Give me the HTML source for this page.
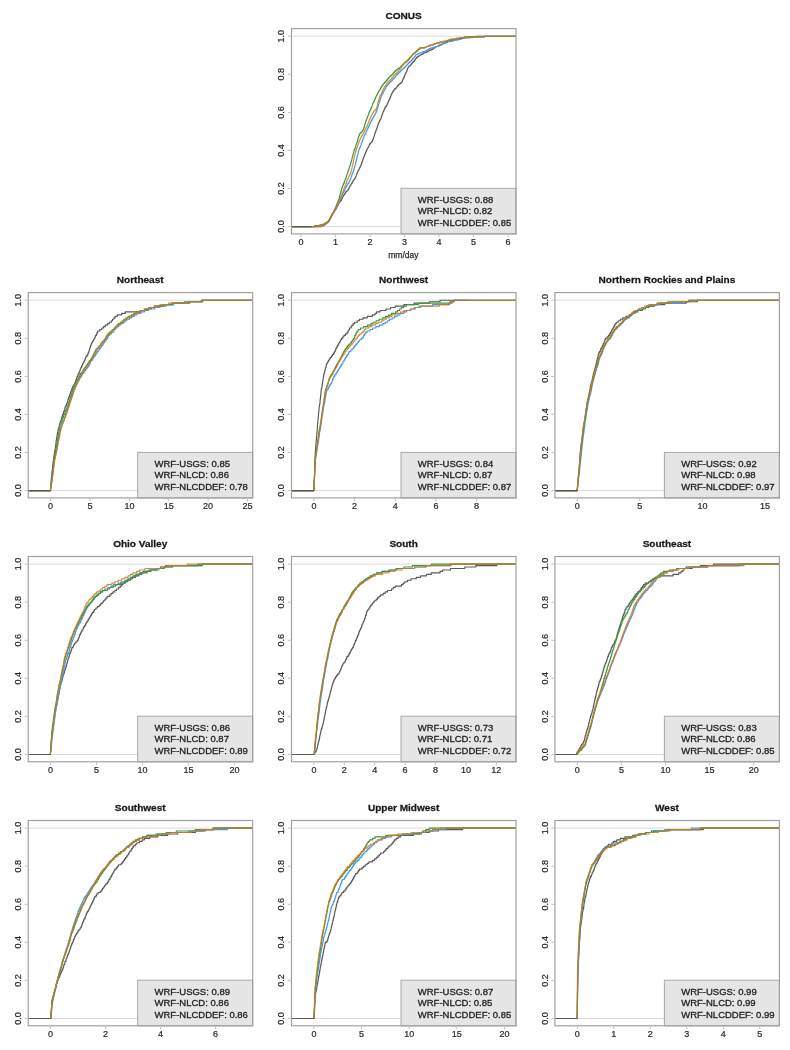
<!DOCTYPE html>
<html lang="en"><head><meta charset="utf-8"><title>ECDF of precipitation by climate region</title>
<style>
html,body{margin:0;padding:0;background:#fff}
body{width:790px;height:1050px;overflow:hidden}
svg{display:block}
text{font-family:"Liberation Sans",Arial,Helvetica,sans-serif;fill:#2c2c2c;stroke:#2c2c2c;stroke-width:0.25px}
.t{font-size:9.4px;font-weight:bold;text-anchor:middle;fill:#181818;stroke:#181818;stroke-width:0.25px}
.a{font-size:9.7px;text-anchor:middle}
.x{font-size:8.5px;text-anchor:middle}
.l{font-size:9.8px;fill:#242424;stroke:#242424;stroke-width:0.32px}
.h{stroke:#dadada;stroke-width:1;fill:none}
.f{fill:none;stroke:#9e9e9e;stroke-width:1.15}
.lg{fill:#e5e5e5;stroke:#a8a8a8;stroke-width:1}
.k{stroke:#c2c2c2;stroke-width:1;fill:none}
.cv path{fill:none;stroke-width:1.15;stroke-linejoin:round}
</style></head>
<body>
<svg width="790" height="1050" viewBox="0 0 790 1050">
<rect width="790" height="1050" fill="#fff"/>
<g>
<clipPath id="c0"><rect x="291.5" y="28.6" width="224.5" height="205.3"/></clipPath>
<text class="t" transform="translate(403.6 19.0) scale(1.07 1)">CONUS</text>
<path d="M291.5 36.2H516.0M291.5 226.6H516.0" class="h"/>
<g clip-path="url(#c0)" class="cv">
<path d="M291.5 226.6L320.6 226.6L320.6 225.9L323.2 225.9L323.2 225.1L324.8 225.1L324.8 224.4L325.5 224.4L325.5 223.7L326.2 223.7L326.2 222.9L327.0 222.9L327.0 222.2L327.8 222.2L327.8 221.5L328.7 221.5L328.7 220.7L329.2 220.7L329.2 220.0L329.6 220.0L329.6 219.3L329.9 219.3L329.9 218.5L330.3 218.5L330.3 217.8L330.7 217.8L330.7 217.1L331.1 217.1L331.1 216.3L331.4 216.3L331.4 215.6L331.8 215.6L331.8 214.9L332.3 214.9L332.3 214.2L332.7 214.2L332.7 213.4L333.0 213.4L333.0 212.7L333.6 212.7L333.6 212.0L334.0 212.0L334.0 211.2L334.4 211.2L334.4 210.5L334.9 210.5L334.9 209.8L335.3 209.8L335.3 209.0L335.7 209.0L335.7 208.3L336.1 208.3L336.1 207.6L336.5 207.6L336.5 206.8L337.1 206.8L337.1 206.1L337.5 206.1L337.5 205.4L338.0 205.4L338.0 204.6L338.5 204.6L338.5 203.9L338.8 203.9L338.8 203.2L339.1 203.2L339.1 202.4L339.5 202.4L339.5 201.7L340.4 201.7L340.4 201.0L340.9 201.0L340.9 200.2L341.5 200.2L341.5 199.5L341.7 199.5L341.7 198.8L342.0 198.8L342.0 198.0L342.4 198.0L342.4 197.3L342.7 197.3L342.7 196.6L343.2 196.6L343.2 195.8L343.6 195.8L343.6 195.1L344.2 195.1L344.2 194.4L344.8 194.4L344.8 193.6L345.1 193.6L345.1 192.9L345.4 192.9L345.4 192.2L345.9 192.2L345.9 191.4L346.8 191.4L346.8 190.7L347.8 190.7L347.8 190.0L348.3 190.0L348.3 189.3L348.7 189.3L348.7 188.5L349.1 188.5L349.1 187.8L349.4 187.8L349.4 187.1L349.7 187.1L349.7 186.3L350.1 186.3L350.1 185.6L350.6 185.6L350.6 184.9L351.0 184.9L351.0 184.1L351.4 184.1L351.4 183.4L352.0 183.4L352.0 182.7L352.3 182.7L352.3 181.9L352.7 181.9L352.7 181.2L353.1 181.2L353.1 180.5L353.5 180.5L353.5 179.7L354.4 179.7L354.4 179.0L354.8 179.0L354.8 178.3L355.2 178.3L355.2 177.5L355.6 177.5L355.6 176.8L356.0 176.8L356.0 176.1L356.3 176.1L356.3 175.3L356.5 175.3L356.5 174.6L356.8 174.6L356.8 173.9L357.0 173.9L357.0 173.1L357.3 173.1L357.3 172.4L357.5 172.4L357.5 171.7L358.0 171.7L358.0 170.9L358.3 170.9L358.3 170.2L358.7 170.2L358.7 169.5L359.1 169.5L359.1 168.7L359.5 168.7L359.5 168.0L359.8 168.0L359.8 167.3L360.2 167.3L360.2 166.6L360.5 166.6L360.5 165.8L360.7 165.8L360.7 165.1L361.1 165.1L361.1 164.4L361.4 164.4L361.4 163.6L361.6 163.6L361.6 162.9L361.9 162.9L361.9 162.2L362.1 162.2L362.1 161.4L362.4 161.4L362.4 160.7L362.6 160.7L362.6 160.0L362.9 160.0L362.9 159.2L363.2 159.2L363.2 158.5L363.4 158.5L363.4 157.8L363.7 157.8L363.7 157.0L364.0 157.0L364.0 156.3L364.3 156.3L364.3 155.6L364.6 155.6L364.6 154.8L364.9 154.8L364.9 154.1L365.2 154.1L365.2 153.4L365.5 153.4L365.5 152.6L365.8 152.6L365.8 151.9L366.2 151.9L366.2 151.2L366.4 151.2L366.4 150.4L366.7 150.4L366.7 149.7L367.0 149.7L367.0 149.0L367.4 149.0L367.4 148.2L367.8 148.2L367.8 147.5L368.3 147.5L368.3 146.8L368.8 146.8L368.8 146.0L369.1 146.0L369.1 145.3L369.4 145.3L369.4 144.6L369.7 144.6L369.7 143.8L370.4 143.8L370.4 143.1L371.0 143.1L371.0 142.4L371.6 142.4L371.6 141.7L372.1 141.7L372.1 140.9L372.5 140.9L372.5 140.2L372.8 140.2L372.8 139.5L373.1 139.5L373.1 138.7L373.4 138.7L373.4 138.0L373.6 138.0L373.6 137.3L373.9 137.3L373.9 136.5L374.1 136.5L374.1 135.8L374.4 135.8L374.4 135.1L374.6 135.1L374.6 134.3L374.8 134.3L374.8 133.6L375.1 133.6L375.1 132.9L375.3 132.9L375.3 132.1L375.6 132.1L375.6 131.4L375.8 131.4L375.8 130.7L376.1 130.7L376.1 129.9L376.3 129.9L376.3 129.2L376.7 129.2L376.7 128.5L376.9 128.5L376.9 127.7L377.2 127.7L377.2 127.0L377.5 127.0L377.5 126.3L377.7 126.3L377.7 125.5L377.9 125.5L377.9 124.8L378.2 124.8L378.2 124.1L378.5 124.1L378.5 123.3L378.7 123.3L378.7 122.6L379.1 122.6L379.1 121.9L379.4 121.9L379.4 121.1L379.7 121.1L379.7 120.4L380.0 120.4L380.0 119.7L380.4 119.7L380.4 119.0L380.9 119.0L380.9 118.2L381.1 118.2L381.1 117.5L381.3 117.5L381.3 116.8L381.6 116.8L381.6 116.0L381.8 116.0L381.8 115.3L382.2 115.3L382.2 114.6L382.5 114.6L382.5 113.8L382.7 113.8L382.7 113.1L382.9 113.1L382.9 112.4L383.1 112.4L383.1 111.6L383.4 111.6L383.4 110.9L383.9 110.9L383.9 110.2L384.2 110.2L384.2 109.4L384.4 109.4L384.4 108.7L384.7 108.7L384.7 108.0L385.0 108.0L385.0 107.2L385.6 107.2L385.6 106.5L386.4 106.5L386.4 105.8L386.8 105.8L386.8 105.0L387.1 105.0L387.1 104.3L387.4 104.3L387.4 103.6L387.7 103.6L387.7 102.8L388.0 102.8L388.0 102.1L388.4 102.1L388.4 101.4L388.7 101.4L388.7 100.6L389.1 100.6L389.1 99.9L389.4 99.9L389.4 99.2L389.6 99.2L389.6 98.4L390.0 98.4L390.0 97.7L390.2 97.7L390.2 97.0L390.6 97.0L390.6 96.2L390.9 96.2L390.9 95.5L391.1 95.5L391.1 94.8L391.4 94.8L391.4 94.1L391.8 94.1L391.8 93.3L392.2 93.3L392.2 92.6L392.6 92.6L392.6 91.9L393.0 91.9L393.0 91.1L393.6 91.1L393.6 90.4L394.0 90.4L394.0 89.7L394.4 89.7L394.4 88.9L395.7 88.9L395.7 88.2L396.2 88.2L396.2 87.5L396.7 87.5L396.7 86.7L397.2 86.7L397.2 86.0L397.7 86.0L397.7 85.3L398.5 85.3L398.5 84.5L399.3 84.5L399.3 83.8L400.5 83.8L400.5 83.1L401.2 83.1L401.2 82.3L401.9 82.3L401.9 81.6L402.3 81.6L402.3 80.9L402.6 80.9L402.6 80.1L402.8 80.1L402.8 79.4L403.1 79.4L403.1 78.7L403.3 78.7L403.3 77.9L404.0 77.9L404.0 77.2L404.2 77.2L404.2 76.5L404.5 76.5L404.5 75.7L404.8 75.7L404.8 75.0L405.0 75.0L405.0 74.3L405.4 74.3L405.4 73.5L405.8 73.5L405.8 72.8L406.2 72.8L406.2 72.1L406.5 72.1L406.5 71.4L406.8 71.4L406.8 70.6L407.1 70.6L407.1 69.9L407.3 69.9L407.3 69.2L407.6 69.2L407.6 68.4L407.8 68.4L407.8 67.7L408.3 67.7L408.3 67.0L408.7 67.0L408.7 66.2L409.9 66.2L409.9 65.5L410.4 65.5L410.4 64.8L411.1 64.8L411.1 64.0L411.8 64.0L411.8 63.3L412.4 63.3L412.4 62.6L412.9 62.6L412.9 61.8L413.7 61.8L413.7 61.1L414.5 61.1L414.5 60.4L414.9 60.4L414.9 59.6L415.3 59.6L415.3 58.9L416.0 58.9L416.0 58.2L416.5 58.2L416.5 57.4L417.2 57.4L417.2 56.7L418.4 56.7L418.4 56.0L419.7 56.0L419.7 55.2L420.8 55.2L420.8 54.5L422.1 54.5L422.1 53.8L423.4 53.8L423.4 53.0L424.8 53.0L424.8 52.3L426.8 52.3L426.8 51.6L428.0 51.6L428.0 50.8L429.5 50.8L429.5 50.1L431.3 50.1L431.3 49.4L432.8 49.4L432.8 48.6L433.8 48.6L433.8 47.9L434.8 47.9L434.8 47.2L436.1 47.2L436.1 46.5L438.0 46.5L438.0 45.7L439.8 45.7L439.8 45.0L441.4 45.0L441.4 44.3L442.8 44.3L442.8 43.5L444.9 43.5L444.9 42.8L446.1 42.8L446.1 42.1L447.7 42.1L447.7 41.3L450.4 41.3L450.4 40.6L453.8 40.6L453.8 39.9L456.7 39.9L456.7 39.1L460.2 39.1L460.2 38.4L463.3 38.4L463.3 37.7L469.5 37.7L469.5 36.9L484.5 36.9L484.5 36.2L516.0 36.2" stroke="#5a5a5a"/>
<path d="M291.5 226.6L314.4 226.6L314.4 225.9L319.7 225.9L319.7 225.1L324.0 225.1L324.0 224.4L325.1 224.4L325.1 223.7L326.0 223.7L326.0 222.9L327.4 222.9L327.4 222.2L328.4 222.2L328.4 221.5L328.9 221.5L328.9 220.7L329.2 220.7L329.2 220.0L329.6 220.0L329.6 219.3L330.0 219.3L330.0 218.5L330.4 218.5L330.4 217.8L330.8 217.8L330.8 217.1L331.2 217.1L331.2 216.3L331.5 216.3L331.5 215.6L331.9 215.6L331.9 214.9L332.3 214.9L332.3 214.2L332.7 214.2L332.7 213.4L333.2 213.4L333.2 212.7L333.6 212.7L333.6 212.0L334.1 212.0L334.1 211.2L334.5 211.2L334.5 210.5L335.2 210.5L335.2 209.8L335.7 209.8L335.7 209.0L336.2 209.0L336.2 208.3L336.6 208.3L336.6 207.6L337.0 207.6L337.0 206.8L337.2 206.8L337.2 206.1L337.5 206.1L337.5 205.4L337.8 205.4L337.8 204.6L338.1 204.6L338.1 203.9L338.4 203.9L338.4 203.2L338.6 203.2L338.6 202.4L338.9 202.4L338.9 201.7L339.2 201.7L339.2 201.0L339.4 201.0L339.4 200.2L339.8 200.2L339.8 199.5L340.3 199.5L340.3 198.8L340.5 198.8L340.5 198.0L340.9 198.0L340.9 197.3L341.1 197.3L341.1 196.6L341.5 196.6L341.5 195.8L342.0 195.8L342.0 195.1L342.3 195.1L342.3 194.4L342.6 194.4L342.6 193.6L342.9 193.6L342.9 192.9L343.3 192.9L343.3 192.2L343.7 192.2L343.7 191.4L344.1 191.4L344.1 190.7L344.4 190.7L344.4 190.0L344.9 190.0L344.9 189.3L345.2 189.3L345.2 188.5L345.6 188.5L345.6 187.8L345.9 187.8L345.9 187.1L346.2 187.1L346.2 186.3L346.7 186.3L346.7 185.6L347.1 185.6L347.1 184.9L347.5 184.9L347.5 184.1L347.9 184.1L347.9 183.4L348.5 183.4L348.5 182.7L349.0 182.7L349.0 181.9L349.3 181.9L349.3 181.2L349.7 181.2L349.7 180.5L350.0 180.5L350.0 179.7L350.3 179.7L350.3 179.0L350.7 179.0L350.7 178.3L351.0 178.3L351.0 177.5L351.2 177.5L351.2 176.8L351.5 176.8L351.5 176.1L351.7 176.1L351.7 175.3L351.9 175.3L351.9 174.6L352.2 174.6L352.2 173.9L352.5 173.9L352.5 173.1L352.8 173.1L352.8 172.4L353.0 172.4L353.0 171.7L353.3 171.7L353.3 170.9L353.5 170.9L353.5 170.2L353.8 170.2L353.8 169.5L354.0 169.5L354.0 168.7L354.3 168.7L354.3 168.0L354.5 168.0L354.5 167.3L354.6 167.3L354.6 166.6L354.9 166.6L354.9 165.8L355.1 165.8L355.1 165.1L355.2 165.1L355.2 164.4L355.4 164.4L355.4 163.6L355.6 163.6L355.6 162.9L355.8 162.9L355.8 162.2L356.0 162.2L356.0 161.4L356.2 161.4L356.2 160.7L356.4 160.7L356.4 160.0L356.5 160.0L356.5 159.2L356.7 159.2L356.7 158.5L356.9 158.5L356.9 157.8L357.0 157.8L357.0 157.0L357.2 157.0L357.2 156.3L357.4 156.3L357.4 155.6L357.6 155.6L357.6 154.8L357.8 154.8L357.8 154.1L358.0 154.1L358.0 153.4L358.2 153.4L358.2 152.6L358.3 152.6L358.3 151.9L358.5 151.9L358.5 151.2L358.6 151.2L358.6 150.4L358.9 150.4L358.9 149.7L359.1 149.7L359.1 149.0L359.3 149.0L359.3 148.2L359.7 148.2L359.7 147.5L360.2 147.5L360.2 146.8L360.5 146.8L360.5 146.0L360.8 146.0L360.8 145.3L361.0 145.3L361.0 144.6L361.2 144.6L361.2 143.8L361.5 143.8L361.5 143.1L361.7 143.1L361.7 142.4L362.0 142.4L362.0 141.7L362.2 141.7L362.2 140.9L362.4 140.9L362.4 140.2L362.7 140.2L362.7 139.5L363.0 139.5L363.0 138.7L363.2 138.7L363.2 138.0L363.6 138.0L363.6 137.3L363.9 137.3L363.9 136.5L364.1 136.5L364.1 135.8L364.4 135.8L364.4 135.1L365.1 135.1L365.1 134.3L365.4 134.3L365.4 133.6L365.7 133.6L365.7 132.9L366.0 132.9L366.0 132.1L366.3 132.1L366.3 131.4L366.6 131.4L366.6 130.7L366.9 130.7L366.9 129.9L367.2 129.9L367.2 129.2L367.7 129.2L367.7 128.5L368.0 128.5L368.0 127.7L368.3 127.7L368.3 127.0L368.6 127.0L368.6 126.3L369.1 126.3L369.1 125.5L369.4 125.5L369.4 124.8L369.7 124.8L369.7 124.1L370.0 124.1L370.0 123.3L370.4 123.3L370.4 122.6L370.7 122.6L370.7 121.9L371.1 121.9L371.1 121.1L371.4 121.1L371.4 120.4L371.8 120.4L371.8 119.7L372.1 119.7L372.1 119.0L372.5 119.0L372.5 118.2L372.9 118.2L372.9 117.5L373.4 117.5L373.4 116.8L373.7 116.8L373.7 116.0L374.2 116.0L374.2 115.3L374.7 115.3L374.7 114.6L375.1 114.6L375.1 113.8L375.5 113.8L375.5 113.1L375.9 113.1L375.9 112.4L376.3 112.4L376.3 111.6L376.6 111.6L376.6 110.9L376.9 110.9L376.9 110.2L377.0 110.2L377.0 109.4L377.3 109.4L377.3 108.7L377.5 108.7L377.5 108.0L377.7 108.0L377.7 107.2L378.0 107.2L378.0 106.5L378.1 106.5L378.1 105.8L378.4 105.8L378.4 105.0L378.6 105.0L378.6 104.3L378.8 104.3L378.8 103.6L379.0 103.6L379.0 102.8L379.3 102.8L379.3 102.1L379.6 102.1L379.6 101.4L379.8 101.4L379.8 100.6L379.9 100.6L379.9 99.9L380.2 99.9L380.2 99.2L380.3 99.2L380.3 98.4L380.5 98.4L380.5 97.7L380.9 97.7L380.9 97.0L381.1 97.0L381.1 96.2L381.5 96.2L381.5 95.5L381.8 95.5L381.8 94.8L382.2 94.8L382.2 94.1L382.5 94.1L382.5 93.3L383.0 93.3L383.0 92.6L383.3 92.6L383.3 91.9L383.7 91.9L383.7 91.1L384.1 91.1L384.1 90.4L384.5 90.4L384.5 89.7L384.9 89.7L384.9 88.9L385.2 88.9L385.2 88.2L385.8 88.2L385.8 87.5L386.1 87.5L386.1 86.7L386.5 86.7L386.5 86.0L387.1 86.0L387.1 85.3L387.8 85.3L387.8 84.5L388.4 84.5L388.4 83.8L389.1 83.8L389.1 83.1L389.7 83.1L389.7 82.3L390.2 82.3L390.2 81.6L391.3 81.6L391.3 80.9L392.1 80.9L392.1 80.1L392.6 80.1L392.6 79.4L393.0 79.4L393.0 78.7L393.9 78.7L393.9 77.9L394.6 77.9L394.6 77.2L395.3 77.2L395.3 76.5L395.7 76.5L395.7 75.7L396.2 75.7L396.2 75.0L397.2 75.0L397.2 74.3L397.9 74.3L397.9 73.5L398.4 73.5L398.4 72.8L399.2 72.8L399.2 72.1L400.1 72.1L400.1 71.4L400.7 71.4L400.7 70.6L401.4 70.6L401.4 69.9L402.3 69.9L402.3 69.2L403.1 69.2L403.1 68.4L404.0 68.4L404.0 67.7L404.5 67.7L404.5 67.0L405.3 67.0L405.3 66.2L406.0 66.2L406.0 65.5L406.7 65.5L406.7 64.8L407.4 64.8L407.4 64.0L408.2 64.0L408.2 63.3L408.7 63.3L408.7 62.6L409.6 62.6L409.6 61.8L410.5 61.8L410.5 61.1L411.3 61.1L411.3 60.4L411.9 60.4L411.9 59.6L412.3 59.6L412.3 58.9L413.2 58.9L413.2 58.2L413.8 58.2L413.8 57.4L414.4 57.4L414.4 56.7L415.0 56.7L415.0 56.0L415.6 56.0L415.6 55.2L416.0 55.2L416.0 54.5L417.6 54.5L417.6 53.8L419.2 53.8L419.2 53.0L420.9 53.0L420.9 52.3L423.0 52.3L423.0 51.6L425.1 51.6L425.1 50.8L426.7 50.8L426.7 50.1L428.1 50.1L428.1 49.4L429.3 49.4L429.3 48.6L430.9 48.6L430.9 47.9L433.1 47.9L433.1 47.2L435.5 47.2L435.5 46.5L437.7 46.5L437.7 45.7L438.9 45.7L438.9 45.0L440.9 45.0L440.9 44.3L442.6 44.3L442.6 43.5L443.9 43.5L443.9 42.8L445.5 42.8L445.5 42.1L448.0 42.1L448.0 41.3L452.0 41.3L452.0 40.6L454.7 40.6L454.7 39.9L458.7 39.9L458.7 39.1L461.7 39.1L461.7 38.4L464.2 38.4L464.2 37.7L472.7 37.7L472.7 36.9L483.8 36.9L483.8 36.2L516.0 36.2" stroke="#4b97e6"/>
<path d="M291.5 226.6L314.4 226.6L314.4 225.9L319.8 225.9L319.8 225.1L322.0 225.1L322.0 224.4L324.1 224.4L324.1 223.7L325.1 223.7L325.1 222.9L326.5 222.9L326.5 222.2L327.3 222.2L327.3 221.5L328.1 221.5L328.1 220.7L328.8 220.7L328.8 220.0L329.1 220.0L329.1 219.3L329.6 219.3L329.6 218.5L330.2 218.5L330.2 217.8L330.5 217.8L330.5 217.1L330.9 217.1L330.9 216.3L331.2 216.3L331.2 215.6L331.7 215.6L331.7 214.9L332.0 214.9L332.0 214.2L332.4 214.2L332.4 213.4L333.1 213.4L333.1 212.7L333.4 212.7L333.4 212.0L333.7 212.0L333.7 211.2L334.0 211.2L334.0 210.5L334.5 210.5L334.5 209.8L334.8 209.8L334.8 209.0L335.1 209.0L335.1 208.3L335.4 208.3L335.4 207.6L335.7 207.6L335.7 206.8L336.0 206.8L336.0 206.1L336.3 206.1L336.3 205.4L336.5 205.4L336.5 204.6L336.8 204.6L336.8 203.9L337.1 203.9L337.1 203.2L337.5 203.2L337.5 202.4L337.7 202.4L337.7 201.7L338.0 201.7L338.0 201.0L338.4 201.0L338.4 200.2L338.6 200.2L338.6 199.5L338.9 199.5L338.9 198.8L339.1 198.8L339.1 198.0L339.4 198.0L339.4 197.3L339.5 197.3L339.5 196.6L339.8 196.6L339.8 195.8L340.0 195.8L340.0 195.1L340.1 195.1L340.1 194.4L340.3 194.4L340.3 193.6L340.5 193.6L340.5 192.9L340.7 192.9L340.7 192.2L340.9 192.2L340.9 191.4L341.1 191.4L341.1 190.7L341.4 190.7L341.4 190.0L341.5 190.0L341.5 189.3L341.7 189.3L341.7 188.5L341.9 188.5L341.9 187.8L342.2 187.8L342.2 187.1L342.5 187.1L342.5 186.3L342.7 186.3L342.7 185.6L343.1 185.6L343.1 184.9L343.3 184.9L343.3 184.1L343.6 184.1L343.6 183.4L344.0 183.4L344.0 182.7L344.3 182.7L344.3 181.9L344.5 181.9L344.5 181.2L344.8 181.2L344.8 180.5L345.0 180.5L345.0 179.7L345.2 179.7L345.2 179.0L345.6 179.0L345.6 178.3L346.0 178.3L346.0 177.5L346.2 177.5L346.2 176.8L346.5 176.8L346.5 176.1L346.7 176.1L346.7 175.3L346.9 175.3L346.9 174.6L347.1 174.6L347.1 173.9L347.3 173.9L347.3 173.1L347.6 173.1L347.6 172.4L347.8 172.4L347.8 171.7L348.1 171.7L348.1 170.9L348.3 170.9L348.3 170.2L348.5 170.2L348.5 169.5L348.9 169.5L348.9 168.7L349.1 168.7L349.1 168.0L349.3 168.0L349.3 167.3L349.5 167.3L349.5 166.6L349.8 166.6L349.8 165.8L350.2 165.8L350.2 165.1L350.4 165.1L350.4 164.4L350.6 164.4L350.6 163.6L350.7 163.6L350.7 162.9L350.9 162.9L350.9 162.2L351.1 162.2L351.1 161.4L351.3 161.4L351.3 160.7L351.6 160.7L351.6 160.0L351.8 160.0L351.8 159.2L351.9 159.2L351.9 158.5L352.1 158.5L352.1 157.8L352.3 157.8L352.3 157.0L352.6 157.0L352.6 156.3L352.7 156.3L352.7 155.6L352.9 155.6L352.9 154.8L353.2 154.8L353.2 154.1L353.3 154.1L353.3 153.4L353.6 153.4L353.6 152.6L353.8 152.6L353.8 151.9L353.9 151.9L353.9 151.2L354.1 151.2L354.1 150.4L354.3 150.4L354.3 149.7L354.5 149.7L354.5 149.0L355.0 149.0L355.0 148.2L355.3 148.2L355.3 147.5L355.5 147.5L355.5 146.8L355.7 146.8L355.7 146.0L355.9 146.0L355.9 145.3L356.1 145.3L356.1 144.6L356.3 144.6L356.3 143.8L356.6 143.8L356.6 143.1L356.9 143.1L356.9 142.4L357.1 142.4L357.1 141.7L357.3 141.7L357.3 140.9L357.6 140.9L357.6 140.2L357.7 140.2L357.7 139.5L357.9 139.5L357.9 138.7L358.1 138.7L358.1 138.0L358.3 138.0L358.3 137.3L358.6 137.3L358.6 136.5L358.9 136.5L358.9 135.8L359.0 135.8L359.0 135.1L359.5 135.1L359.5 134.3L359.7 134.3L359.7 133.6L360.2 133.6L360.2 132.9L361.2 132.9L361.2 132.1L361.8 132.1L361.8 131.4L362.3 131.4L362.3 130.7L362.7 130.7L362.7 129.9L363.3 129.9L363.3 129.2L363.6 129.2L363.6 128.5L363.8 128.5L363.8 127.7L364.0 127.7L364.0 127.0L364.3 127.0L364.3 126.3L364.6 126.3L364.6 125.5L364.8 125.5L364.8 124.8L365.0 124.8L365.0 124.1L365.2 124.1L365.2 123.3L365.4 123.3L365.4 122.6L365.6 122.6L365.6 121.9L365.8 121.9L365.8 121.1L366.1 121.1L366.1 120.4L366.4 120.4L366.4 119.7L366.7 119.7L366.7 119.0L366.9 119.0L366.9 118.2L367.1 118.2L367.1 117.5L367.4 117.5L367.4 116.8L367.7 116.8L367.7 116.0L368.1 116.0L368.1 115.3L368.4 115.3L368.4 114.6L368.6 114.6L368.6 113.8L368.8 113.8L368.8 113.1L369.1 113.1L369.1 112.4L369.3 112.4L369.3 111.6L369.6 111.6L369.6 110.9L370.1 110.9L370.1 110.2L370.5 110.2L370.5 109.4L370.8 109.4L370.8 108.7L371.1 108.7L371.1 108.0L371.3 108.0L371.3 107.2L371.7 107.2L371.7 106.5L372.0 106.5L372.0 105.8L372.2 105.8L372.2 105.0L372.6 105.0L372.6 104.3L372.8 104.3L372.8 103.6L373.1 103.6L373.1 102.8L373.4 102.8L373.4 102.1L373.9 102.1L373.9 101.4L374.2 101.4L374.2 100.6L374.4 100.6L374.4 99.9L374.7 99.9L374.7 99.2L375.1 99.2L375.1 98.4L375.4 98.4L375.4 97.7L375.7 97.7L375.7 97.0L376.0 97.0L376.0 96.2L376.4 96.2L376.4 95.5L376.8 95.5L376.8 94.8L377.2 94.8L377.2 94.1L377.5 94.1L377.5 93.3L377.9 93.3L377.9 92.6L378.3 92.6L378.3 91.9L378.8 91.9L378.8 91.1L379.1 91.1L379.1 90.4L379.5 90.4L379.5 89.7L380.1 89.7L380.1 88.9L380.5 88.9L380.5 88.2L380.9 88.2L380.9 87.5L381.2 87.5L381.2 86.7L381.7 86.7L381.7 86.0L382.1 86.0L382.1 85.3L382.9 85.3L382.9 84.5L383.4 84.5L383.4 83.8L383.9 83.8L383.9 83.1L384.6 83.1L384.6 82.3L385.3 82.3L385.3 81.6L386.1 81.6L386.1 80.9L386.7 80.9L386.7 80.1L387.2 80.1L387.2 79.4L387.6 79.4L387.6 78.7L388.4 78.7L388.4 77.9L388.9 77.9L388.9 77.2L389.6 77.2L389.6 76.5L390.3 76.5L390.3 75.7L391.3 75.7L391.3 75.0L392.2 75.0L392.2 74.3L392.8 74.3L392.8 73.5L393.3 73.5L393.3 72.8L394.0 72.8L394.0 72.1L394.8 72.1L394.8 71.4L395.5 71.4L395.5 70.6L396.1 70.6L396.1 69.9L396.9 69.9L396.9 69.2L398.0 69.2L398.0 68.4L399.5 68.4L399.5 67.7L400.1 67.7L400.1 67.0L400.9 67.0L400.9 66.2L401.6 66.2L401.6 65.5L402.3 65.5L402.3 64.8L403.0 64.8L403.0 64.0L403.8 64.0L403.8 63.3L404.4 63.3L404.4 62.6L405.4 62.6L405.4 61.8L406.5 61.8L406.5 61.1L407.3 61.1L407.3 60.4L408.2 60.4L408.2 59.6L408.7 59.6L408.7 58.9L409.3 58.9L409.3 58.2L409.8 58.2L409.8 57.4L410.6 57.4L410.6 56.7L411.2 56.7L411.2 56.0L411.8 56.0L411.8 55.2L412.3 55.2L412.3 54.5L413.1 54.5L413.1 53.8L414.0 53.8L414.0 53.0L414.9 53.0L414.9 52.3L415.8 52.3L415.8 51.6L416.4 51.6L416.4 50.8L417.3 50.8L417.3 50.1L418.1 50.1L418.1 49.4L418.8 49.4L418.8 48.6L419.7 48.6L419.7 47.9L424.6 47.9L424.6 47.2L426.5 47.2L426.5 46.5L428.2 46.5L428.2 45.7L429.8 45.7L429.8 45.0L432.9 45.0L432.9 44.3L434.6 44.3L434.6 43.5L436.6 43.5L436.6 42.8L439.9 42.8L439.9 42.1L443.5 42.1L443.5 41.3L446.4 41.3L446.4 40.6L448.8 40.6L448.8 39.9L451.0 39.9L451.0 39.1L455.9 39.1L455.9 38.4L460.2 38.4L460.2 37.7L464.8 37.7L464.8 36.9L477.7 36.9L477.7 36.2L516.0 36.2" stroke="#3f973f"/>
<path d="M291.5 226.6L317.5 226.6L317.5 225.9L320.6 225.9L320.6 225.1L322.9 225.1L322.9 224.4L324.9 224.4L324.9 223.7L326.0 223.7L326.0 222.9L327.4 222.9L327.4 222.2L328.2 222.2L328.2 221.5L328.8 221.5L328.8 220.7L329.3 220.7L329.3 220.0L329.7 220.0L329.7 219.3L330.1 219.3L330.1 218.5L330.4 218.5L330.4 217.8L330.9 217.8L330.9 217.1L331.2 217.1L331.2 216.3L331.5 216.3L331.5 215.6L332.0 215.6L332.0 214.9L332.4 214.9L332.4 214.2L332.8 214.2L332.8 213.4L333.4 213.4L333.4 212.7L333.7 212.7L333.7 212.0L334.1 212.0L334.1 211.2L334.4 211.2L334.4 210.5L334.9 210.5L334.9 209.8L335.4 209.8L335.4 209.0L335.7 209.0L335.7 208.3L336.0 208.3L336.0 207.6L336.3 207.6L336.3 206.8L336.6 206.8L336.6 206.1L336.9 206.1L336.9 205.4L337.3 205.4L337.3 204.6L337.6 204.6L337.6 203.9L338.0 203.9L338.0 203.2L338.3 203.2L338.3 202.4L338.8 202.4L338.8 201.7L339.0 201.7L339.0 201.0L339.2 201.0L339.2 200.2L339.5 200.2L339.5 199.5L340.0 199.5L340.0 198.8L340.3 198.8L340.3 198.0L340.6 198.0L340.6 197.3L340.9 197.3L340.9 196.6L341.2 196.6L341.2 195.8L341.5 195.8L341.5 195.1L341.8 195.1L341.8 194.4L342.1 194.4L342.1 193.6L342.3 193.6L342.3 192.9L342.5 192.9L342.5 192.2L343.0 192.2L343.0 191.4L343.2 191.4L343.2 190.7L343.4 190.7L343.4 190.0L343.7 190.0L343.7 189.3L343.9 189.3L343.9 188.5L344.1 188.5L344.1 187.8L344.4 187.8L344.4 187.1L344.8 187.1L344.8 186.3L345.1 186.3L345.1 185.6L345.3 185.6L345.3 184.9L345.6 184.9L345.6 184.1L345.8 184.1L345.8 183.4L346.2 183.4L346.2 182.7L346.5 182.7L346.5 181.9L346.7 181.9L346.7 181.2L346.9 181.2L346.9 180.5L347.1 180.5L347.1 179.7L347.4 179.7L347.4 179.0L348.0 179.0L348.0 178.3L348.4 178.3L348.4 177.5L348.7 177.5L348.7 176.8L349.0 176.8L349.0 176.1L349.3 176.1L349.3 175.3L349.7 175.3L349.7 174.6L350.1 174.6L350.1 173.9L350.4 173.9L350.4 173.1L350.7 173.1L350.7 172.4L351.0 172.4L351.0 171.7L351.2 171.7L351.2 170.9L351.3 170.9L351.3 170.2L351.5 170.2L351.5 169.5L351.7 169.5L351.7 168.7L351.9 168.7L351.9 168.0L352.1 168.0L352.1 167.3L352.2 167.3L352.2 166.6L352.4 166.6L352.4 165.8L352.6 165.8L352.6 165.1L352.8 165.1L352.8 164.4L352.9 164.4L352.9 163.6L353.0 163.6L353.0 162.9L353.2 162.9L353.2 162.2L353.4 162.2L353.4 161.4L353.5 161.4L353.5 160.7L353.7 160.7L353.7 160.0L353.9 160.0L353.9 159.2L354.0 159.2L354.0 158.5L354.1 158.5L354.1 157.8L354.3 157.8L354.3 157.0L354.5 157.0L354.5 156.3L354.6 156.3L354.6 155.6L354.8 155.6L354.8 154.8L355.0 154.8L355.0 154.1L355.2 154.1L355.2 153.4L355.3 153.4L355.3 152.6L355.5 152.6L355.5 151.9L355.7 151.9L355.7 151.2L356.0 151.2L356.0 150.4L356.2 150.4L356.2 149.7L356.4 149.7L356.4 149.0L356.6 149.0L356.6 148.2L356.9 148.2L356.9 147.5L357.1 147.5L357.1 146.8L357.6 146.8L357.6 146.0L357.8 146.0L357.8 145.3L358.0 145.3L358.0 144.6L358.3 144.6L358.3 143.8L358.6 143.8L358.6 143.1L358.8 143.1L358.8 142.4L359.0 142.4L359.0 141.7L359.2 141.7L359.2 140.9L359.5 140.9L359.5 140.2L359.9 140.2L359.9 139.5L360.2 139.5L360.2 138.7L360.5 138.7L360.5 138.0L360.8 138.0L360.8 137.3L361.3 137.3L361.3 136.5L361.6 136.5L361.6 135.8L361.9 135.8L361.9 135.1L362.6 135.1L362.6 134.3L363.0 134.3L363.0 133.6L363.3 133.6L363.3 132.9L363.7 132.9L363.7 132.1L364.2 132.1L364.2 131.4L364.5 131.4L364.5 130.7L364.9 130.7L364.9 129.9L365.2 129.9L365.2 129.2L365.5 129.2L365.5 128.5L366.0 128.5L366.0 127.7L366.2 127.7L366.2 127.0L366.8 127.0L366.8 126.3L367.2 126.3L367.2 125.5L367.4 125.5L367.4 124.8L367.8 124.8L367.8 124.1L368.1 124.1L368.1 123.3L368.4 123.3L368.4 122.6L368.6 122.6L368.6 121.9L369.0 121.9L369.0 121.1L369.3 121.1L369.3 120.4L369.5 120.4L369.5 119.7L369.8 119.7L369.8 119.0L370.1 119.0L370.1 118.2L370.4 118.2L370.4 117.5L370.7 117.5L370.7 116.8L371.0 116.8L371.0 116.0L371.5 116.0L371.5 115.3L371.8 115.3L371.8 114.6L372.2 114.6L372.2 113.8L372.6 113.8L372.6 113.1L372.9 113.1L372.9 112.4L373.5 112.4L373.5 111.6L373.9 111.6L373.9 110.9L375.0 110.9L375.0 110.2L375.4 110.2L375.4 109.4L376.1 109.4L376.1 108.7L376.6 108.7L376.6 108.0L376.8 108.0L376.8 107.2L377.0 107.2L377.0 106.5L377.2 106.5L377.2 105.8L377.3 105.8L377.3 105.0L377.5 105.0L377.5 104.3L377.7 104.3L377.7 103.6L377.8 103.6L377.8 102.8L378.1 102.8L378.1 102.1L378.3 102.1L378.3 101.4L378.5 101.4L378.5 100.6L378.7 100.6L378.7 99.9L378.9 99.9L378.9 99.2L379.1 99.2L379.1 98.4L379.3 98.4L379.3 97.7L379.6 97.7L379.6 97.0L379.9 97.0L379.9 96.2L380.2 96.2L380.2 95.5L380.6 95.5L380.6 94.8L381.1 94.8L381.1 94.1L381.4 94.1L381.4 93.3L381.7 93.3L381.7 92.6L382.0 92.6L382.0 91.9L382.3 91.9L382.3 91.1L382.7 91.1L382.7 90.4L383.0 90.4L383.0 89.7L383.3 89.7L383.3 88.9L383.7 88.9L383.7 88.2L384.0 88.2L384.0 87.5L384.4 87.5L384.4 86.7L385.0 86.7L385.0 86.0L385.5 86.0L385.5 85.3L386.0 85.3L386.0 84.5L386.6 84.5L386.6 83.8L387.1 83.8L387.1 83.1L387.6 83.1L387.6 82.3L388.2 82.3L388.2 81.6L389.0 81.6L389.0 80.9L389.9 80.9L389.9 80.1L390.5 80.1L390.5 79.4L391.0 79.4L391.0 78.7L391.7 78.7L391.7 77.9L392.2 77.9L392.2 77.2L393.0 77.2L393.0 76.5L393.5 76.5L393.5 75.7L393.9 75.7L393.9 75.0L394.9 75.0L394.9 74.3L395.6 74.3L395.6 73.5L396.5 73.5L396.5 72.8L397.1 72.8L397.1 72.1L397.8 72.1L397.8 71.4L398.4 71.4L398.4 70.6L398.9 70.6L398.9 69.9L399.4 69.9L399.4 69.2L400.0 69.2L400.0 68.4L400.7 68.4L400.7 67.7L401.2 67.7L401.2 67.0L401.8 67.0L401.8 66.2L402.4 66.2L402.4 65.5L403.0 65.5L403.0 64.8L403.5 64.8L403.5 64.0L404.3 64.0L404.3 63.3L404.8 63.3L404.8 62.6L405.8 62.6L405.8 61.8L406.8 61.8L406.8 61.1L407.7 61.1L407.7 60.4L408.2 60.4L408.2 59.6L408.7 59.6L408.7 58.9L409.2 58.9L409.2 58.2L409.9 58.2L409.9 57.4L410.7 57.4L410.7 56.7L411.5 56.7L411.5 56.0L412.1 56.0L412.1 55.2L412.7 55.2L412.7 54.5L413.5 54.5L413.5 53.8L414.3 53.8L414.3 53.0L415.4 53.0L415.4 52.3L416.1 52.3L416.1 51.6L417.1 51.6L417.1 50.8L417.8 50.8L417.8 50.1L418.5 50.1L418.5 49.4L419.2 49.4L419.2 48.6L421.2 48.6L421.2 47.9L424.7 47.9L424.7 47.2L426.6 47.2L426.6 46.5L429.1 46.5L429.1 45.7L431.1 45.7L431.1 45.0L433.7 45.0L433.7 44.3L435.5 44.3L435.5 43.5L437.3 43.5L437.3 42.8L439.7 42.8L439.7 42.1L443.0 42.1L443.0 41.3L446.2 41.3L446.2 40.6L448.7 40.6L448.7 39.9L451.9 39.9L451.9 39.1L456.2 39.1L456.2 38.4L459.6 38.4L459.6 37.7L464.2 37.7L464.2 36.9L475.0 36.9L475.0 36.2L516.0 36.2" stroke="#d6761a" stroke-opacity=".85"/>
<path d="M291.5 226.6H311.5" stroke="#5c5c4c"/>
</g>
<rect x="401.0" y="188.3" width="115.0" height="45.6" class="lg"/>
<text class="l" transform="translate(417.8 203.0) scale(.971 1)">WRF-USGS: 0.88</text>
<text class="l" transform="translate(417.8 214.3) scale(.971 1)">WRF-NLCD: 0.82</text>
<text class="l" transform="translate(417.8 225.6) scale(.971 1)">WRF-NLCDDEF: 0.85</text>
<rect x="291.5" y="28.6" width="224.5" height="205.3" class="f"/>
<text class="a" transform="translate(284.2 226.6) rotate(-90) scale(.93 1)">0.0</text>
<text class="a" transform="translate(284.2 188.5) rotate(-90) scale(.93 1)">0.2</text>
<text class="a" transform="translate(284.2 150.4) rotate(-90) scale(.93 1)">0.4</text>
<text class="a" transform="translate(284.2 112.4) rotate(-90) scale(.93 1)">0.6</text>
<text class="a" transform="translate(284.2 74.3) rotate(-90) scale(.93 1)">0.8</text>
<text class="a" transform="translate(284.2 36.2) rotate(-90) scale(.93 1)">1.0</text>
<text class="a" transform="translate(301.0 245.3) scale(.93 1)">0</text>
<text class="a" transform="translate(335.5 245.3) scale(.93 1)">1</text>
<text class="a" transform="translate(370.0 245.3) scale(.93 1)">2</text>
<text class="a" transform="translate(404.5 245.3) scale(.93 1)">3</text>
<text class="a" transform="translate(439.0 245.3) scale(.93 1)">4</text>
<text class="a" transform="translate(473.5 245.3) scale(.93 1)">5</text>
<text class="a" transform="translate(508.0 245.3) scale(.93 1)">6</text>
<path d="M291.5 226.6h-3.5M291.5 188.5h-3.5M291.5 150.4h-3.5M291.5 112.4h-3.5M291.5 74.3h-3.5M291.5 36.2h-3.5M301.0 233.9v3.5M335.5 233.9v3.5M370.0 233.9v3.5M404.5 233.9v3.5M439.0 233.9v3.5M473.5 233.9v3.5M508.0 233.9v3.5" class="k"/>
<text class="x" x="403.4" y="257.9">mm/day</text>
</g>
<g>
<clipPath id="c1"><rect x="28.2" y="292.6" width="224.5" height="205.3"/></clipPath>
<text class="t" transform="translate(140.2 283.0) scale(1.07 1)">Northeast</text>
<path d="M28.2 300.2H252.7M28.2 490.6H252.7" class="h"/>
<g clip-path="url(#c1)" class="cv">
<path d="M28.2 490.6L50.5 490.6L50.5 489.1L50.6 489.1L50.6 487.7L50.7 487.7L50.7 486.2L50.8 486.2L50.8 484.7L50.9 484.7L50.9 483.3L51.0 483.3L51.0 481.8L51.1 481.8L51.1 480.3L51.2 480.3L51.2 478.9L51.5 478.9L51.5 477.4L51.6 477.4L51.6 476.0L51.7 476.0L51.7 474.5L51.9 474.5L51.9 473.0L51.9 473.0L51.9 471.6L52.2 471.6L52.2 470.1L52.4 470.1L52.4 468.6L52.5 468.6L52.5 467.2L52.7 467.2L52.7 465.7L52.8 465.7L52.8 464.2L53.0 464.2L53.0 462.8L53.2 462.8L53.2 461.3L53.4 461.3L53.4 459.8L53.6 459.8L53.6 458.4L53.8 458.4L53.8 456.9L54.0 456.9L54.0 455.4L54.2 455.4L54.2 454.0L54.4 454.0L54.4 452.5L54.7 452.5L54.7 451.1L54.9 451.1L54.9 449.6L55.2 449.6L55.2 448.1L55.4 448.1L55.4 446.7L55.6 446.7L55.6 445.2L55.8 445.2L55.8 443.7L56.0 443.7L56.0 442.3L56.1 442.3L56.1 440.8L56.4 440.8L56.4 439.3L56.6 439.3L56.6 437.9L56.9 437.9L56.9 436.4L57.1 436.4L57.1 434.9L57.2 434.9L57.2 433.5L57.6 433.5L57.6 432.0L57.9 432.0L57.9 430.6L58.2 430.6L58.2 429.1L58.7 429.1L58.7 427.6L59.1 427.6L59.1 426.2L59.4 426.2L59.4 424.7L59.8 424.7L59.8 423.2L60.1 423.2L60.1 421.8L60.9 421.8L60.9 420.3L61.2 420.3L61.2 418.8L61.6 418.8L61.6 417.4L62.2 417.4L62.2 415.9L62.6 415.9L62.6 414.4L63.3 414.4L63.3 413.0L63.6 413.0L63.6 411.5L64.3 411.5L64.3 410.0L64.8 410.0L64.8 408.6L65.1 408.6L65.1 407.1L65.5 407.1L65.5 405.7L66.5 405.7L66.5 404.2L66.9 404.2L66.9 402.7L67.5 402.7L67.5 401.3L67.8 401.3L67.8 399.8L68.3 399.8L68.3 398.3L68.7 398.3L68.7 396.9L69.5 396.9L69.5 395.4L69.9 395.4L69.9 393.9L70.4 393.9L70.4 392.5L70.9 392.5L70.9 391.0L71.6 391.0L71.6 389.5L72.0 389.5L72.0 388.1L72.6 388.1L72.6 386.6L73.7 386.6L73.7 385.1L74.3 385.1L74.3 383.7L75.0 383.7L75.0 382.2L75.6 382.2L75.6 380.8L76.1 380.8L76.1 379.3L76.6 379.3L76.6 377.8L77.1 377.8L77.1 376.4L77.8 376.4L77.8 374.9L78.3 374.9L78.3 373.4L79.1 373.4L79.1 372.0L79.7 372.0L79.7 370.5L80.2 370.5L80.2 369.0L80.8 369.0L80.8 367.6L81.6 367.6L81.6 366.1L82.2 366.1L82.2 364.6L82.8 364.6L82.8 363.2L83.3 363.2L83.3 361.7L84.4 361.7L84.4 360.2L85.0 360.2L85.0 358.8L85.6 358.8L85.6 357.3L86.1 357.3L86.1 355.9L87.6 355.9L87.6 354.4L88.0 354.4L88.0 352.9L88.7 352.9L88.7 351.5L89.1 351.5L89.1 350.0L89.6 350.0L89.6 348.5L90.0 348.5L90.0 347.1L90.5 347.1L90.5 345.6L91.1 345.6L91.1 344.1L91.6 344.1L91.6 342.7L92.5 342.7L92.5 341.2L93.3 341.2L93.3 339.7L94.2 339.7L94.2 338.3L94.9 338.3L94.9 336.8L95.5 336.8L95.5 335.4L96.5 335.4L96.5 333.9L97.1 333.9L97.1 332.4L97.7 332.4L97.7 331.0L99.8 331.0L99.8 329.5L101.8 329.5L101.8 328.0L103.5 328.0L103.5 326.6L105.2 326.6L105.2 325.1L107.5 325.1L107.5 323.6L109.3 323.6L109.3 322.2L111.3 322.2L111.3 320.7L112.5 320.7L112.5 319.2L113.8 319.2L113.8 317.8L115.2 317.8L115.2 316.3L117.3 316.3L117.3 314.8L121.7 314.8L121.7 313.4L125.3 313.4L125.3 311.9L140.0 311.9L140.0 310.5L146.1 310.5L146.1 309.0L151.2 309.0L151.2 307.5L157.5 307.5L157.5 306.1L163.5 306.1L163.5 304.6L173.6 304.6L173.6 303.1L189.8 303.1L189.8 301.7L202.6 301.7L202.6 300.2L252.7 300.2" stroke="#5a5a5a"/>
<path d="M28.2 490.6L50.5 490.6L50.5 489.1L50.7 489.1L50.7 487.7L50.9 487.7L50.9 486.2L51.1 486.2L51.1 484.7L51.3 484.7L51.3 483.3L51.5 483.3L51.5 481.8L51.7 481.8L51.7 480.3L51.9 480.3L51.9 478.9L52.1 478.9L52.1 477.4L52.3 477.4L52.3 476.0L52.5 476.0L52.5 474.5L52.7 474.5L52.7 473.0L52.8 473.0L52.8 471.6L53.1 471.6L53.1 470.1L53.3 470.1L53.3 468.6L53.4 468.6L53.4 467.2L53.6 467.2L53.6 465.7L53.8 465.7L53.8 464.2L54.0 464.2L54.0 462.8L54.1 462.8L54.1 461.3L54.3 461.3L54.3 459.8L54.5 459.8L54.5 458.4L54.7 458.4L54.7 456.9L55.2 456.9L55.2 455.4L55.5 455.4L55.5 454.0L55.9 454.0L55.9 452.5L56.2 452.5L56.2 451.1L56.6 451.1L56.6 449.6L56.8 449.6L56.8 448.1L57.1 448.1L57.1 446.7L57.3 446.7L57.3 445.2L57.6 445.2L57.6 443.7L57.9 443.7L57.9 442.3L58.1 442.3L58.1 440.8L58.5 440.8L58.5 439.3L58.7 439.3L58.7 437.9L58.9 437.9L58.9 436.4L59.3 436.4L59.3 434.9L59.6 434.9L59.6 433.5L59.8 433.5L59.8 432.0L60.1 432.0L60.1 430.6L60.3 430.6L60.3 429.1L60.6 429.1L60.6 427.6L61.2 427.6L61.2 426.2L61.9 426.2L61.9 424.7L62.3 424.7L62.3 423.2L62.9 423.2L62.9 421.8L63.6 421.8L63.6 420.3L64.2 420.3L64.2 418.8L64.6 418.8L64.6 417.4L65.2 417.4L65.2 415.9L65.6 415.9L65.6 414.4L66.2 414.4L66.2 413.0L66.7 413.0L66.7 411.5L67.1 411.5L67.1 410.0L67.6 410.0L67.6 408.6L68.1 408.6L68.1 407.1L68.6 407.1L68.6 405.7L69.1 405.7L69.1 404.2L69.5 404.2L69.5 402.7L70.0 402.7L70.0 401.3L70.4 401.3L70.4 399.8L71.0 399.8L71.0 398.3L71.4 398.3L71.4 396.9L72.0 396.9L72.0 395.4L72.4 395.4L72.4 393.9L72.9 393.9L72.9 392.5L73.3 392.5L73.3 391.0L73.8 391.0L73.8 389.5L74.5 389.5L74.5 388.1L75.0 388.1L75.0 386.6L75.9 386.6L75.9 385.1L76.5 385.1L76.5 383.7L77.3 383.7L77.3 382.2L77.9 382.2L77.9 380.8L78.9 380.8L78.9 379.3L79.6 379.3L79.6 377.8L80.7 377.8L80.7 376.4L81.5 376.4L81.5 374.9L82.4 374.9L82.4 373.4L83.7 373.4L83.7 372.0L84.8 372.0L84.8 370.5L85.7 370.5L85.7 369.0L86.9 369.0L86.9 367.6L88.0 367.6L88.0 366.1L89.0 366.1L89.0 364.6L89.7 364.6L89.7 363.2L90.4 363.2L90.4 361.7L91.1 361.7L91.1 360.2L92.5 360.2L92.5 358.8L93.3 358.8L93.3 357.3L94.1 357.3L94.1 355.9L95.5 355.9L95.5 354.4L96.2 354.4L96.2 352.9L97.4 352.9L97.4 351.5L98.2 351.5L98.2 350.0L99.5 350.0L99.5 348.5L100.4 348.5L100.4 347.1L101.5 347.1L101.5 345.6L102.7 345.6L102.7 344.1L103.5 344.1L103.5 342.7L104.5 342.7L104.5 341.2L105.8 341.2L105.8 339.7L106.7 339.7L106.7 338.3L107.7 338.3L107.7 336.8L108.4 336.8L108.4 335.4L109.6 335.4L109.6 333.9L111.5 333.9L111.5 332.4L113.0 332.4L113.0 331.0L114.2 331.0L114.2 329.5L115.4 329.5L115.4 328.0L117.0 328.0L117.0 326.6L118.7 326.6L118.7 325.1L120.4 325.1L120.4 323.6L123.2 323.6L123.2 322.2L124.9 322.2L124.9 320.7L126.7 320.7L126.7 319.2L129.6 319.2L129.6 317.8L131.7 317.8L131.7 316.3L134.3 316.3L134.3 314.8L137.0 314.8L137.0 313.4L140.9 313.4L140.9 311.9L144.5 311.9L144.5 310.5L148.5 310.5L148.5 309.0L154.7 309.0L154.7 307.5L160.1 307.5L160.1 306.1L166.1 306.1L166.1 304.6L173.6 304.6L173.6 303.1L189.0 303.1L189.0 301.7L201.7 301.7L201.7 300.2L252.7 300.2" stroke="#4b97e6"/>
<path d="M28.2 490.6L50.5 490.6L50.5 489.1L50.6 489.1L50.6 487.7L50.8 487.7L50.8 486.2L51.0 486.2L51.0 484.7L51.2 484.7L51.2 483.3L51.5 483.3L51.5 481.8L51.8 481.8L51.8 480.3L51.9 480.3L51.9 478.9L52.0 478.9L52.0 477.4L52.2 477.4L52.2 476.0L52.3 476.0L52.3 474.5L52.5 474.5L52.5 473.0L52.6 473.0L52.6 471.6L52.8 471.6L52.8 470.1L53.0 470.1L53.0 468.6L53.1 468.6L53.1 467.2L53.3 467.2L53.3 465.7L53.4 465.7L53.4 464.2L53.6 464.2L53.6 462.8L53.7 462.8L53.7 461.3L53.9 461.3L53.9 459.8L54.1 459.8L54.1 458.4L54.4 458.4L54.4 456.9L54.6 456.9L54.6 455.4L54.9 455.4L54.9 454.0L55.1 454.0L55.1 452.5L55.4 452.5L55.4 451.1L55.7 451.1L55.7 449.6L55.9 449.6L55.9 448.1L56.2 448.1L56.2 446.7L56.4 446.7L56.4 445.2L56.7 445.2L56.7 443.7L57.0 443.7L57.0 442.3L57.2 442.3L57.2 440.8L57.4 440.8L57.4 439.3L57.7 439.3L57.7 437.9L57.9 437.9L57.9 436.4L58.3 436.4L58.3 434.9L58.5 434.9L58.5 433.5L58.7 433.5L58.7 432.0L59.1 432.0L59.1 430.6L59.3 430.6L59.3 429.1L59.5 429.1L59.5 427.6L59.8 427.6L59.8 426.2L60.0 426.2L60.0 424.7L60.7 424.7L60.7 423.2L61.3 423.2L61.3 421.8L61.8 421.8L61.8 420.3L62.3 420.3L62.3 418.8L62.8 418.8L62.8 417.4L63.6 417.4L63.6 415.9L63.9 415.9L63.9 414.4L64.6 414.4L64.6 413.0L65.1 413.0L65.1 411.5L65.7 411.5L65.7 410.0L66.6 410.0L66.6 408.6L67.0 408.6L67.0 407.1L67.5 407.1L67.5 405.7L68.0 405.7L68.0 404.2L68.6 404.2L68.6 402.7L69.1 402.7L69.1 401.3L69.5 401.3L69.5 399.8L70.0 399.8L70.0 398.3L70.4 398.3L70.4 396.9L70.9 396.9L70.9 395.4L71.4 395.4L71.4 393.9L71.8 393.9L71.8 392.5L72.3 392.5L72.3 391.0L72.7 391.0L72.7 389.5L73.2 389.5L73.2 388.1L73.9 388.1L73.9 386.6L74.6 386.6L74.6 385.1L75.2 385.1L75.2 383.7L76.0 383.7L76.0 382.2L76.7 382.2L76.7 380.8L77.4 380.8L77.4 379.3L78.2 379.3L78.2 377.8L79.1 377.8L79.1 376.4L79.7 376.4L79.7 374.9L80.5 374.9L80.5 373.4L81.8 373.4L81.8 372.0L82.7 372.0L82.7 370.5L83.4 370.5L83.4 369.0L84.7 369.0L84.7 367.6L85.8 367.6L85.8 366.1L86.8 366.1L86.8 364.6L87.7 364.6L87.7 363.2L88.7 363.2L88.7 361.7L89.4 361.7L89.4 360.2L90.9 360.2L90.9 358.8L91.7 358.8L91.7 357.3L92.5 357.3L92.5 355.9L93.3 355.9L93.3 354.4L94.1 354.4L94.1 352.9L94.8 352.9L94.8 351.5L95.6 351.5L95.6 350.0L96.2 350.0L96.2 348.5L98.1 348.5L98.1 347.1L99.3 347.1L99.3 345.6L100.5 345.6L100.5 344.1L101.4 344.1L101.4 342.7L102.5 342.7L102.5 341.2L104.0 341.2L104.0 339.7L105.2 339.7L105.2 338.3L106.1 338.3L106.1 336.8L106.9 336.8L106.9 335.4L107.7 335.4L107.7 333.9L109.1 333.9L109.1 332.4L110.9 332.4L110.9 331.0L112.3 331.0L112.3 329.5L114.1 329.5L114.1 328.0L115.4 328.0L115.4 326.6L116.8 326.6L116.8 325.1L118.3 325.1L118.3 323.6L120.3 323.6L120.3 322.2L122.2 322.2L122.2 320.7L123.8 320.7L123.8 319.2L126.0 319.2L126.0 317.8L128.1 317.8L128.1 316.3L131.2 316.3L131.2 314.8L133.8 314.8L133.8 313.4L137.3 313.4L137.3 311.9L140.4 311.9L140.4 310.5L144.2 310.5L144.2 309.0L148.9 309.0L148.9 307.5L154.4 307.5L154.4 306.1L163.3 306.1L163.3 304.6L171.5 304.6L171.5 303.1L184.3 303.1L184.3 301.7L201.2 301.7L201.2 300.2L252.7 300.2" stroke="#3f973f"/>
<path d="M28.2 490.6L50.6 490.6L50.6 489.1L50.9 489.1L50.9 487.7L51.2 487.7L51.2 486.2L51.3 486.2L51.3 484.7L51.5 484.7L51.5 483.3L51.7 483.3L51.7 481.8L52.0 481.8L52.0 480.3L52.2 480.3L52.2 478.9L52.4 478.9L52.4 477.4L52.6 477.4L52.6 476.0L52.8 476.0L52.8 474.5L53.0 474.5L53.0 473.0L53.2 473.0L53.2 471.6L53.4 471.6L53.4 470.1L53.6 470.1L53.6 468.6L53.7 468.6L53.7 467.2L53.9 467.2L53.9 465.7L54.1 465.7L54.1 464.2L54.4 464.2L54.4 462.8L54.6 462.8L54.6 461.3L54.8 461.3L54.8 459.8L55.0 459.8L55.0 458.4L55.3 458.4L55.3 456.9L55.5 456.9L55.5 455.4L55.9 455.4L55.9 454.0L56.2 454.0L56.2 452.5L56.5 452.5L56.5 451.1L56.8 451.1L56.8 449.6L57.1 449.6L57.1 448.1L57.4 448.1L57.4 446.7L57.6 446.7L57.6 445.2L57.9 445.2L57.9 443.7L58.2 443.7L58.2 442.3L58.4 442.3L58.4 440.8L58.7 440.8L58.7 439.3L59.0 439.3L59.0 437.9L59.3 437.9L59.3 436.4L59.7 436.4L59.7 434.9L59.9 434.9L59.9 433.5L60.1 433.5L60.1 432.0L60.5 432.0L60.5 430.6L60.9 430.6L60.9 429.1L61.2 429.1L61.2 427.6L61.7 427.6L61.7 426.2L62.0 426.2L62.0 424.7L62.6 424.7L62.6 423.2L63.1 423.2L63.1 421.8L63.7 421.8L63.7 420.3L64.2 420.3L64.2 418.8L64.6 418.8L64.6 417.4L65.3 417.4L65.3 415.9L66.0 415.9L66.0 414.4L66.5 414.4L66.5 413.0L67.1 413.0L67.1 411.5L67.6 411.5L67.6 410.0L68.0 410.0L68.0 408.6L68.5 408.6L68.5 407.1L68.9 407.1L68.9 405.7L69.3 405.7L69.3 404.2L69.7 404.2L69.7 402.7L70.2 402.7L70.2 401.3L70.8 401.3L70.8 399.8L71.2 399.8L71.2 398.3L71.7 398.3L71.7 396.9L72.3 396.9L72.3 395.4L72.9 395.4L72.9 393.9L73.3 393.9L73.3 392.5L73.7 392.5L73.7 391.0L74.2 391.0L74.2 389.5L74.8 389.5L74.8 388.1L75.3 388.1L75.3 386.6L76.0 386.6L76.0 385.1L76.6 385.1L76.6 383.7L77.3 383.7L77.3 382.2L78.0 382.2L78.0 380.8L78.7 380.8L78.7 379.3L79.3 379.3L79.3 377.8L80.2 377.8L80.2 376.4L80.9 376.4L80.9 374.9L81.8 374.9L81.8 373.4L82.8 373.4L82.8 372.0L83.9 372.0L83.9 370.5L84.8 370.5L84.8 369.0L85.9 369.0L85.9 367.6L86.8 367.6L86.8 366.1L87.8 366.1L87.8 364.6L88.6 364.6L88.6 363.2L89.4 363.2L89.4 361.7L90.2 361.7L90.2 360.2L91.6 360.2L91.6 358.8L92.4 358.8L92.4 357.3L93.1 357.3L93.1 355.9L94.0 355.9L94.0 354.4L94.6 354.4L94.6 352.9L95.5 352.9L95.5 351.5L96.3 351.5L96.3 350.0L97.1 350.0L97.1 348.5L98.0 348.5L98.0 347.1L99.3 347.1L99.3 345.6L100.8 345.6L100.8 344.1L101.8 344.1L101.8 342.7L103.1 342.7L103.1 341.2L104.3 341.2L104.3 339.7L105.1 339.7L105.1 338.3L105.8 338.3L105.8 336.8L106.8 336.8L106.8 335.4L108.6 335.4L108.6 333.9L110.0 333.9L110.0 332.4L111.4 332.4L111.4 331.0L112.6 331.0L112.6 329.5L114.4 329.5L114.4 328.0L115.7 328.0L115.7 326.6L117.0 326.6L117.0 325.1L119.7 325.1L119.7 323.6L121.8 323.6L121.8 322.2L123.4 322.2L123.4 320.7L125.1 320.7L125.1 319.2L127.2 319.2L127.2 317.8L130.0 317.8L130.0 316.3L132.4 316.3L132.4 314.8L134.8 314.8L134.8 313.4L138.1 313.4L138.1 311.9L141.2 311.9L141.2 310.5L145.0 310.5L145.0 309.0L149.1 309.0L149.1 307.5L154.1 307.5L154.1 306.1L160.0 306.1L160.0 304.6L168.4 304.6L168.4 303.1L189.4 303.1L189.4 301.7L202.9 301.7L202.9 300.2L252.7 300.2" stroke="#d6761a" stroke-opacity=".85"/>
<path d="M28.2 490.6H50.6" stroke="#5c5c4c"/>
</g>
<rect x="137.7" y="452.4" width="115.0" height="45.6" class="lg"/>
<text class="l" transform="translate(154.5 467.1) scale(.971 1)">WRF-USGS: 0.85</text>
<text class="l" transform="translate(154.5 478.4) scale(.971 1)">WRF-NLCD: 0.86</text>
<text class="l" transform="translate(154.5 489.7) scale(.971 1)">WRF-NLCDDEF: 0.78</text>
<rect x="28.2" y="292.6" width="224.5" height="205.3" class="f"/>
<text class="a" transform="translate(20.9 490.6) rotate(-90) scale(.93 1)">0.0</text>
<text class="a" transform="translate(20.9 452.5) rotate(-90) scale(.93 1)">0.2</text>
<text class="a" transform="translate(20.9 414.4) rotate(-90) scale(.93 1)">0.4</text>
<text class="a" transform="translate(20.9 376.4) rotate(-90) scale(.93 1)">0.6</text>
<text class="a" transform="translate(20.9 338.3) rotate(-90) scale(.93 1)">0.8</text>
<text class="a" transform="translate(20.9 300.2) rotate(-90) scale(.93 1)">1.0</text>
<text class="a" transform="translate(50.6 509.4) scale(.93 1)">0</text>
<text class="a" transform="translate(90.0 509.4) scale(.93 1)">5</text>
<text class="a" transform="translate(129.4 509.4) scale(.93 1)">10</text>
<text class="a" transform="translate(168.7 509.4) scale(.93 1)">15</text>
<text class="a" transform="translate(208.1 509.4) scale(.93 1)">20</text>
<text class="a" transform="translate(247.5 509.4) scale(.93 1)">25</text>
<path d="M28.2 490.6h-3.5M28.2 452.5h-3.5M28.2 414.4h-3.5M28.2 376.4h-3.5M28.2 338.3h-3.5M28.2 300.2h-3.5M50.6 498.0v3.5M90.0 498.0v3.5M129.4 498.0v3.5M168.7 498.0v3.5M208.1 498.0v3.5M247.5 498.0v3.5" class="k"/>
</g>
<g>
<clipPath id="c2"><rect x="291.5" y="292.6" width="224.5" height="205.3"/></clipPath>
<text class="t" transform="translate(403.6 283.0) scale(1.07 1)">Northwest</text>
<path d="M291.5 300.2H516.0M291.5 490.6H516.0" class="h"/>
<g clip-path="url(#c2)" class="cv">
<path d="M291.5 490.6L313.9 490.6L313.9 489.1L314.0 489.1L314.0 487.7L314.0 487.7L314.0 486.2L314.1 486.2L314.1 484.7L314.1 484.7L314.1 483.3L314.1 483.3L314.1 481.8L314.2 481.8L314.2 480.3L314.3 480.3L314.3 478.9L314.4 478.9L314.4 477.4L314.4 477.4L314.4 476.0L314.5 476.0L314.5 474.5L314.5 474.5L314.5 473.0L314.5 473.0L314.5 471.6L314.6 471.6L314.6 470.1L314.7 470.1L314.7 468.6L314.7 468.6L314.7 467.2L314.8 467.2L314.8 465.7L314.8 465.7L314.8 464.2L314.9 464.2L314.9 462.8L314.9 462.8L314.9 461.3L315.0 461.3L315.0 459.8L315.0 459.8L315.0 458.4L315.1 458.4L315.1 456.9L315.2 456.9L315.2 455.4L315.2 455.4L315.2 454.0L315.3 454.0L315.3 452.5L315.3 452.5L315.3 451.1L315.5 451.1L315.5 449.6L315.6 449.6L315.6 448.1L315.7 448.1L315.7 446.7L315.8 446.7L315.8 445.2L315.9 445.2L315.9 443.7L316.1 443.7L316.1 442.3L316.2 442.3L316.2 440.8L316.3 440.8L316.3 439.3L316.4 439.3L316.4 437.9L316.5 437.9L316.5 436.4L316.7 436.4L316.7 434.9L316.8 434.9L316.8 433.5L317.0 433.5L317.0 432.0L317.1 432.0L317.1 430.6L317.2 430.6L317.2 429.1L317.3 429.1L317.3 427.6L317.4 427.6L317.4 426.2L317.5 426.2L317.5 424.7L317.6 424.7L317.6 423.2L317.8 423.2L317.8 421.8L317.9 421.8L317.9 420.3L318.0 420.3L318.0 418.8L318.2 418.8L318.2 417.4L318.3 417.4L318.3 415.9L318.4 415.9L318.4 414.4L318.5 414.4L318.5 413.0L318.7 413.0L318.7 411.5L318.9 411.5L318.9 410.0L319.0 410.0L319.0 408.6L319.1 408.6L319.1 407.1L319.3 407.1L319.3 405.7L319.5 405.7L319.5 404.2L319.9 404.2L319.9 402.7L320.0 402.7L320.0 401.3L320.1 401.3L320.1 399.8L320.3 399.8L320.3 398.3L320.5 398.3L320.5 396.9L320.6 396.9L320.6 395.4L320.8 395.4L320.8 393.9L320.9 393.9L320.9 392.5L321.0 392.5L321.0 391.0L321.2 391.0L321.2 389.5L321.4 389.5L321.4 388.1L321.9 388.1L321.9 386.6L322.1 386.6L322.1 385.1L322.3 385.1L322.3 383.7L322.5 383.7L322.5 382.2L322.7 382.2L322.7 380.8L323.0 380.8L323.0 379.3L323.2 379.3L323.2 377.8L323.4 377.8L323.4 376.4L323.6 376.4L323.6 374.9L324.0 374.9L324.0 373.4L324.4 373.4L324.4 372.0L324.8 372.0L324.8 370.5L325.2 370.5L325.2 369.0L325.5 369.0L325.5 367.6L326.0 367.6L326.0 366.1L326.4 366.1L326.4 364.6L326.7 364.6L326.7 363.2L327.6 363.2L327.6 361.7L328.4 361.7L328.4 360.2L329.3 360.2L329.3 358.8L330.3 358.8L330.3 357.3L331.5 357.3L331.5 355.9L332.5 355.9L332.5 354.4L333.7 354.4L333.7 352.9L334.5 352.9L334.5 351.5L335.2 351.5L335.2 350.0L335.8 350.0L335.8 348.5L336.4 348.5L336.4 347.1L337.3 347.1L337.3 345.6L338.2 345.6L338.2 344.1L338.9 344.1L338.9 342.7L339.8 342.7L339.8 341.2L340.5 341.2L340.5 339.7L341.6 339.7L341.6 338.3L342.7 338.3L342.7 336.8L343.9 336.8L343.9 335.4L345.4 335.4L345.4 333.9L347.1 333.9L347.1 332.4L347.9 332.4L347.9 331.0L348.8 331.0L348.8 329.5L349.5 329.5L349.5 328.0L351.1 328.0L351.1 326.6L351.9 326.6L351.9 325.1L353.2 325.1L353.2 323.6L354.7 323.6L354.7 322.2L357.2 322.2L357.2 320.7L359.4 320.7L359.4 319.2L363.0 319.2L363.0 317.8L367.3 317.8L367.3 316.3L372.4 316.3L372.4 314.8L375.1 314.8L375.1 313.4L376.6 313.4L376.6 311.9L380.1 311.9L380.1 310.5L386.0 310.5L386.0 309.0L390.6 309.0L390.6 307.5L395.2 307.5L395.2 306.1L403.9 306.1L403.9 304.6L414.0 304.6L414.0 303.1L429.3 303.1L429.3 301.7L440.0 301.7L440.0 300.2L469.7 300.2" stroke="#5a5a5a"/>
<path d="M291.5 490.6L313.9 490.6L313.9 489.1L314.0 489.1L314.0 487.7L314.1 487.7L314.1 486.2L314.2 486.2L314.2 484.7L314.3 484.7L314.3 483.3L314.3 483.3L314.3 481.8L314.4 481.8L314.4 480.3L314.5 480.3L314.5 478.9L314.5 478.9L314.5 477.4L314.6 477.4L314.6 476.0L314.7 476.0L314.7 474.5L314.7 474.5L314.7 473.0L314.8 473.0L314.8 471.6L314.9 471.6L314.9 470.1L315.0 470.1L315.0 468.6L315.0 468.6L315.0 467.2L315.1 467.2L315.1 465.7L315.2 465.7L315.2 464.2L315.3 464.2L315.3 462.8L315.3 462.8L315.3 461.3L315.4 461.3L315.4 459.8L315.5 459.8L315.5 458.4L315.8 458.4L315.8 456.9L316.0 456.9L316.0 455.4L316.2 455.4L316.2 454.0L316.5 454.0L316.5 452.5L316.7 452.5L316.7 451.1L316.9 451.1L316.9 449.6L317.1 449.6L317.1 448.1L317.3 448.1L317.3 446.7L317.5 446.7L317.5 445.2L317.8 445.2L317.8 443.7L318.0 443.7L318.0 442.3L318.3 442.3L318.3 440.8L318.5 440.8L318.5 439.3L318.8 439.3L318.8 437.9L318.9 437.9L318.9 436.4L319.1 436.4L319.1 434.9L319.4 434.9L319.4 433.5L319.5 433.5L319.5 432.0L319.8 432.0L319.8 430.6L320.1 430.6L320.1 429.1L320.4 429.1L320.4 427.6L320.6 427.6L320.6 426.2L320.9 426.2L320.9 424.7L321.0 424.7L321.0 423.2L321.3 423.2L321.3 421.8L321.5 421.8L321.5 420.3L321.7 420.3L321.7 418.8L321.8 418.8L321.8 417.4L322.0 417.4L322.0 415.9L322.3 415.9L322.3 414.4L322.6 414.4L322.6 413.0L322.8 413.0L322.8 411.5L323.0 411.5L323.0 410.0L323.2 410.0L323.2 408.6L323.4 408.6L323.4 407.1L323.7 407.1L323.7 405.7L324.0 405.7L324.0 404.2L324.3 404.2L324.3 402.7L324.7 402.7L324.7 401.3L324.9 401.3L324.9 399.8L325.2 399.8L325.2 398.3L325.4 398.3L325.4 396.9L325.7 396.9L325.7 395.4L325.9 395.4L325.9 393.9L326.2 393.9L326.2 392.5L326.4 392.5L326.4 391.0L327.0 391.0L327.0 389.5L328.1 389.5L328.1 388.1L328.9 388.1L328.9 386.6L329.5 386.6L329.5 385.1L330.5 385.1L330.5 383.7L331.5 383.7L331.5 382.2L332.1 382.2L332.1 380.8L332.6 380.8L332.6 379.3L333.2 379.3L333.2 377.8L333.8 377.8L333.8 376.4L334.6 376.4L334.6 374.9L335.8 374.9L335.8 373.4L336.6 373.4L336.6 372.0L337.4 372.0L337.4 370.5L338.5 370.5L338.5 369.0L339.4 369.0L339.4 367.6L340.2 367.6L340.2 366.1L341.2 366.1L341.2 364.6L342.2 364.6L342.2 363.2L342.9 363.2L342.9 361.7L343.9 361.7L343.9 360.2L344.6 360.2L344.6 358.8L345.4 358.8L345.4 357.3L346.5 357.3L346.5 355.9L347.3 355.9L347.3 354.4L348.5 354.4L348.5 352.9L349.1 352.9L349.1 351.5L350.8 351.5L350.8 350.0L352.1 350.0L352.1 348.5L353.5 348.5L353.5 347.1L354.6 347.1L354.6 345.6L355.7 345.6L355.7 344.1L357.3 344.1L357.3 342.7L358.3 342.7L358.3 341.2L359.5 341.2L359.5 339.7L361.3 339.7L361.3 338.3L362.9 338.3L362.9 336.8L363.6 336.8L363.6 335.4L364.6 335.4L364.6 333.9L365.5 333.9L365.5 332.4L366.9 332.4L366.9 331.0L369.9 331.0L369.9 329.5L372.6 329.5L372.6 328.0L375.9 328.0L375.9 326.6L379.3 326.6L379.3 325.1L382.9 325.1L382.9 323.6L385.3 323.6L385.3 322.2L387.6 322.2L387.6 320.7L389.6 320.7L389.6 319.2L392.1 319.2L392.1 317.8L394.6 317.8L394.6 316.3L397.1 316.3L397.1 314.8L400.0 314.8L400.0 313.4L404.0 313.4L404.0 311.9L406.7 311.9L406.7 310.5L410.9 310.5L410.9 309.0L414.4 309.0L414.4 307.5L419.1 307.5L419.1 306.1L432.6 306.1L432.6 304.6L449.3 304.6L449.3 303.1L451.8 303.1L451.8 301.7L454.0 301.7L454.0 300.2L516.0 300.2" stroke="#4b97e6"/>
<path d="M291.5 490.6L313.9 490.6L313.9 489.1L314.0 489.1L314.0 487.7L314.1 487.7L314.1 486.2L314.1 486.2L314.1 484.7L314.2 484.7L314.2 483.3L314.2 483.3L314.2 481.8L314.3 481.8L314.3 480.3L314.4 480.3L314.4 478.9L314.4 478.9L314.4 477.4L314.5 477.4L314.5 476.0L314.5 476.0L314.5 474.5L314.6 474.5L314.6 473.0L314.7 473.0L314.7 471.6L314.7 471.6L314.7 470.1L314.8 470.1L314.8 468.6L314.8 468.6L314.8 467.2L314.9 467.2L314.9 465.7L315.0 465.7L315.0 464.2L315.0 464.2L315.0 462.8L315.1 462.8L315.1 461.3L315.2 461.3L315.2 459.8L315.2 459.8L315.2 458.4L315.3 458.4L315.3 456.9L315.5 456.9L315.5 455.4L315.7 455.4L315.7 454.0L315.9 454.0L315.9 452.5L316.1 452.5L316.1 451.1L316.3 451.1L316.3 449.6L316.5 449.6L316.5 448.1L316.7 448.1L316.7 446.7L317.0 446.7L317.0 445.2L317.2 445.2L317.2 443.7L317.4 443.7L317.4 442.3L317.6 442.3L317.6 440.8L317.8 440.8L317.8 439.3L318.1 439.3L318.1 437.9L318.2 437.9L318.2 436.4L318.5 436.4L318.5 434.9L318.7 434.9L318.7 433.5L318.8 433.5L318.8 432.0L319.0 432.0L319.0 430.6L319.3 430.6L319.3 429.1L319.7 429.1L319.7 427.6L320.0 427.6L320.0 426.2L320.2 426.2L320.2 424.7L320.4 424.7L320.4 423.2L320.7 423.2L320.7 421.8L320.9 421.8L320.9 420.3L321.1 420.3L321.1 418.8L321.3 418.8L321.3 417.4L321.5 417.4L321.5 415.9L321.7 415.9L321.7 414.4L322.0 414.4L322.0 413.0L322.2 413.0L322.2 411.5L322.4 411.5L322.4 410.0L322.6 410.0L322.6 408.6L322.9 408.6L322.9 407.1L323.1 407.1L323.1 405.7L323.3 405.7L323.3 404.2L323.5 404.2L323.5 402.7L323.8 402.7L323.8 401.3L324.0 401.3L324.0 399.8L324.2 399.8L324.2 398.3L324.4 398.3L324.4 396.9L324.6 396.9L324.6 395.4L324.8 395.4L324.8 393.9L325.0 393.9L325.0 392.5L325.2 392.5L325.2 391.0L325.5 391.0L325.5 389.5L326.0 389.5L326.0 388.1L326.7 388.1L326.7 386.6L327.1 386.6L327.1 385.1L327.6 385.1L327.6 383.7L328.1 383.7L328.1 382.2L328.5 382.2L328.5 380.8L328.9 380.8L328.9 379.3L329.3 379.3L329.3 377.8L330.2 377.8L330.2 376.4L331.0 376.4L331.0 374.9L331.9 374.9L331.9 373.4L332.7 373.4L332.7 372.0L333.4 372.0L333.4 370.5L334.4 370.5L334.4 369.0L335.0 369.0L335.0 367.6L335.7 367.6L335.7 366.1L336.5 366.1L336.5 364.6L337.3 364.6L337.3 363.2L338.2 363.2L338.2 361.7L339.0 361.7L339.0 360.2L339.9 360.2L339.9 358.8L340.8 358.8L340.8 357.3L341.5 357.3L341.5 355.9L342.2 355.9L342.2 354.4L342.9 354.4L342.9 352.9L343.6 352.9L343.6 351.5L344.4 351.5L344.4 350.0L345.4 350.0L345.4 348.5L346.5 348.5L346.5 347.1L347.7 347.1L347.7 345.6L348.9 345.6L348.9 344.1L350.6 344.1L350.6 342.7L351.5 342.7L351.5 341.2L352.6 341.2L352.6 339.7L353.6 339.7L353.6 338.3L354.4 338.3L354.4 336.8L354.9 336.8L354.9 335.4L355.7 335.4L355.7 333.9L356.3 333.9L356.3 332.4L357.1 332.4L357.1 331.0L358.2 331.0L358.2 329.5L360.6 329.5L360.6 328.0L363.7 328.0L363.7 326.6L367.4 326.6L367.4 325.1L370.9 325.1L370.9 323.6L373.1 323.6L373.1 322.2L376.2 322.2L376.2 320.7L379.0 320.7L379.0 319.2L382.6 319.2L382.6 317.8L385.5 317.8L385.5 316.3L388.7 316.3L388.7 314.8L391.6 314.8L391.6 313.4L395.6 313.4L395.6 311.9L397.4 311.9L397.4 310.5L399.6 310.5L399.6 309.0L401.2 309.0L401.2 307.5L403.7 307.5L403.7 306.1L406.4 306.1L406.4 304.6L418.4 304.6L418.4 303.1L450.0 303.1L450.0 301.7L453.1 301.7L453.1 300.2L516.0 300.2" stroke="#3f973f"/>
<path d="M291.5 490.6L313.9 490.6L313.9 489.1L314.0 489.1L314.0 487.7L314.1 487.7L314.1 486.2L314.1 486.2L314.1 484.7L314.2 484.7L314.2 483.3L314.2 483.3L314.2 481.8L314.3 481.8L314.3 480.3L314.3 480.3L314.3 478.9L314.4 478.9L314.4 477.4L314.5 477.4L314.5 476.0L314.6 476.0L314.6 474.5L314.6 474.5L314.6 473.0L314.7 473.0L314.7 471.6L314.8 471.6L314.8 470.1L314.8 470.1L314.8 468.6L314.9 468.6L314.9 467.2L315.0 467.2L315.0 465.7L315.1 465.7L315.1 464.2L315.2 464.2L315.2 462.8L315.2 462.8L315.2 461.3L315.3 461.3L315.3 459.8L315.4 459.8L315.4 458.4L315.6 458.4L315.6 456.9L315.8 456.9L315.8 455.4L316.0 455.4L316.0 454.0L316.2 454.0L316.2 452.5L316.4 452.5L316.4 451.1L316.7 451.1L316.7 449.6L316.9 449.6L316.9 448.1L317.1 448.1L317.1 446.7L317.4 446.7L317.4 445.2L317.6 445.2L317.6 443.7L317.8 443.7L317.8 442.3L318.0 442.3L318.0 440.8L318.2 440.8L318.2 439.3L318.5 439.3L318.5 437.9L318.7 437.9L318.7 436.4L318.9 436.4L318.9 434.9L319.0 434.9L319.0 433.5L319.3 433.5L319.3 432.0L319.5 432.0L319.5 430.6L319.8 430.6L319.8 429.1L320.0 429.1L320.0 427.6L320.2 427.6L320.2 426.2L320.5 426.2L320.5 424.7L320.7 424.7L320.7 423.2L320.9 423.2L320.9 421.8L321.1 421.8L321.1 420.3L321.3 420.3L321.3 418.8L321.5 418.8L321.5 417.4L321.7 417.4L321.7 415.9L322.0 415.9L322.0 414.4L322.2 414.4L322.2 413.0L322.5 413.0L322.5 411.5L322.7 411.5L322.7 410.0L322.9 410.0L322.9 408.6L323.1 408.6L323.1 407.1L323.3 407.1L323.3 405.7L323.5 405.7L323.5 404.2L323.7 404.2L323.7 402.7L323.9 402.7L323.9 401.3L324.1 401.3L324.1 399.8L324.3 399.8L324.3 398.3L324.5 398.3L324.5 396.9L324.7 396.9L324.7 395.4L324.9 395.4L324.9 393.9L325.2 393.9L325.2 392.5L325.5 392.5L325.5 391.0L325.8 391.0L325.8 389.5L326.3 389.5L326.3 388.1L326.8 388.1L326.8 386.6L327.2 386.6L327.2 385.1L327.7 385.1L327.7 383.7L328.2 383.7L328.2 382.2L328.6 382.2L328.6 380.8L329.0 380.8L329.0 379.3L329.3 379.3L329.3 377.8L330.0 377.8L330.0 376.4L331.0 376.4L331.0 374.9L332.6 374.9L332.6 373.4L333.2 373.4L333.2 372.0L334.0 372.0L334.0 370.5L334.8 370.5L334.8 369.0L335.6 369.0L335.6 367.6L336.5 367.6L336.5 366.1L337.4 366.1L337.4 364.6L338.0 364.6L338.0 363.2L338.7 363.2L338.7 361.7L339.5 361.7L339.5 360.2L340.3 360.2L340.3 358.8L341.3 358.8L341.3 357.3L342.1 357.3L342.1 355.9L343.1 355.9L343.1 354.4L344.1 354.4L344.1 352.9L345.1 352.9L345.1 351.5L345.9 351.5L345.9 350.0L347.3 350.0L347.3 348.5L348.5 348.5L348.5 347.1L349.9 347.1L349.9 345.6L351.0 345.6L351.0 344.1L352.7 344.1L352.7 342.7L353.7 342.7L353.7 341.2L354.7 341.2L354.7 339.7L356.0 339.7L356.0 338.3L357.2 338.3L357.2 336.8L358.3 336.8L358.3 335.4L359.8 335.4L359.8 333.9L361.7 333.9L361.7 332.4L363.3 332.4L363.3 331.0L364.5 331.0L364.5 329.5L365.7 329.5L365.7 328.0L368.8 328.0L368.8 326.6L371.6 326.6L371.6 325.1L375.2 325.1L375.2 323.6L378.0 323.6L378.0 322.2L381.6 322.2L381.6 320.7L383.8 320.7L383.8 319.2L386.4 319.2L386.4 317.8L389.4 317.8L389.4 316.3L391.9 316.3L391.9 314.8L395.7 314.8L395.7 313.4L400.7 313.4L400.7 311.9L403.9 311.9L403.9 310.5L410.1 310.5L410.1 309.0L415.3 309.0L415.3 307.5L420.7 307.5L420.7 306.1L439.4 306.1L439.4 304.6L449.7 304.6L449.7 303.1L452.2 303.1L452.2 301.7L454.5 301.7L454.5 300.2L516.0 300.2" stroke="#d6761a" stroke-opacity=".85"/>
<path d="M291.5 490.6H313.9" stroke="#5c5c4c"/>
</g>
<rect x="401.0" y="452.4" width="115.0" height="45.6" class="lg"/>
<text class="l" transform="translate(417.8 467.1) scale(.971 1)">WRF-USGS: 0.84</text>
<text class="l" transform="translate(417.8 478.4) scale(.971 1)">WRF-NLCD: 0.87</text>
<text class="l" transform="translate(417.8 489.7) scale(.971 1)">WRF-NLCDDEF: 0.87</text>
<rect x="291.5" y="292.6" width="224.5" height="205.3" class="f"/>
<text class="a" transform="translate(284.2 490.6) rotate(-90) scale(.93 1)">0.0</text>
<text class="a" transform="translate(284.2 452.5) rotate(-90) scale(.93 1)">0.2</text>
<text class="a" transform="translate(284.2 414.4) rotate(-90) scale(.93 1)">0.4</text>
<text class="a" transform="translate(284.2 376.4) rotate(-90) scale(.93 1)">0.6</text>
<text class="a" transform="translate(284.2 338.3) rotate(-90) scale(.93 1)">0.8</text>
<text class="a" transform="translate(284.2 300.2) rotate(-90) scale(.93 1)">1.0</text>
<text class="a" transform="translate(313.9 509.4) scale(.93 1)">0</text>
<text class="a" transform="translate(354.6 509.4) scale(.93 1)">2</text>
<text class="a" transform="translate(395.3 509.4) scale(.93 1)">4</text>
<text class="a" transform="translate(435.9 509.4) scale(.93 1)">6</text>
<text class="a" transform="translate(476.6 509.4) scale(.93 1)">8</text>
<path d="M291.5 490.6h-3.5M291.5 452.5h-3.5M291.5 414.4h-3.5M291.5 376.4h-3.5M291.5 338.3h-3.5M291.5 300.2h-3.5M313.9 498.0v3.5M354.6 498.0v3.5M395.3 498.0v3.5M435.9 498.0v3.5M476.6 498.0v3.5" class="k"/>
</g>
<g>
<clipPath id="c3"><rect x="554.9" y="292.6" width="224.5" height="205.3"/></clipPath>
<text class="t" transform="translate(666.9 283.0) scale(1.07 1)">Northern Rockies and Plains</text>
<path d="M554.9 300.2H779.4M554.9 490.6H779.4" class="h"/>
<g clip-path="url(#c3)" class="cv">
<path d="M554.9 490.6L577.2 490.6L577.2 489.1L577.3 489.1L577.3 487.7L577.4 487.7L577.4 486.2L577.7 486.2L577.7 484.7L577.8 484.7L577.8 483.3L577.9 483.3L577.9 481.8L578.1 481.8L578.1 480.3L578.2 480.3L578.2 478.9L578.3 478.9L578.3 477.4L578.4 477.4L578.4 476.0L578.6 476.0L578.6 474.5L578.6 474.5L578.6 473.0L578.8 473.0L578.8 471.6L578.9 471.6L578.9 470.1L579.1 470.1L579.1 468.6L579.2 468.6L579.2 467.2L579.3 467.2L579.3 465.7L579.4 465.7L579.4 464.2L579.5 464.2L579.5 462.8L579.6 462.8L579.6 461.3L579.7 461.3L579.7 459.8L579.8 459.8L579.8 458.4L579.9 458.4L579.9 456.9L580.0 456.9L580.0 455.4L580.1 455.4L580.1 454.0L580.2 454.0L580.2 452.5L580.4 452.5L580.4 451.1L580.5 451.1L580.5 449.6L580.6 449.6L580.6 448.1L580.8 448.1L580.8 446.7L581.0 446.7L581.0 445.2L581.2 445.2L581.2 443.7L581.3 443.7L581.3 442.3L581.6 442.3L581.6 440.8L581.7 440.8L581.7 439.3L582.1 439.3L582.1 437.9L582.2 437.9L582.2 436.4L582.4 436.4L582.4 434.9L582.6 434.9L582.6 433.5L582.7 433.5L582.7 432.0L582.9 432.0L582.9 430.6L583.1 430.6L583.1 429.1L583.2 429.1L583.2 427.6L583.4 427.6L583.4 426.2L583.5 426.2L583.5 424.7L583.9 424.7L583.9 423.2L584.3 423.2L584.3 421.8L584.5 421.8L584.5 420.3L584.7 420.3L584.7 418.8L584.9 418.8L584.9 417.4L585.1 417.4L585.1 415.9L585.5 415.9L585.5 414.4L585.7 414.4L585.7 413.0L585.9 413.0L585.9 411.5L586.0 411.5L586.0 410.0L586.2 410.0L586.2 408.6L586.4 408.6L586.4 407.1L586.6 407.1L586.6 405.7L586.8 405.7L586.8 404.2L587.1 404.2L587.1 402.7L587.3 402.7L587.3 401.3L587.6 401.3L587.6 399.8L588.0 399.8L588.0 398.3L588.3 398.3L588.3 396.9L588.6 396.9L588.6 395.4L588.9 395.4L588.9 393.9L589.2 393.9L589.2 392.5L589.5 392.5L589.5 391.0L589.9 391.0L589.9 389.5L590.1 389.5L590.1 388.1L590.3 388.1L590.3 386.6L590.7 386.6L590.7 385.1L591.0 385.1L591.0 383.7L591.3 383.7L591.3 382.2L591.8 382.2L591.8 380.8L592.2 380.8L592.2 379.3L592.5 379.3L592.5 377.8L592.8 377.8L592.8 376.4L593.1 376.4L593.1 374.9L593.5 374.9L593.5 373.4L593.8 373.4L593.8 372.0L594.4 372.0L594.4 370.5L594.7 370.5L594.7 369.0L595.1 369.0L595.1 367.6L595.4 367.6L595.4 366.1L595.8 366.1L595.8 364.6L596.1 364.6L596.1 363.2L596.5 363.2L596.5 361.7L596.8 361.7L596.8 360.2L597.2 360.2L597.2 358.8L597.6 358.8L597.6 357.3L598.0 357.3L598.0 355.9L598.2 355.9L598.2 354.4L598.7 354.4L598.7 352.9L599.4 352.9L599.4 351.5L600.3 351.5L600.3 350.0L600.7 350.0L600.7 348.5L601.7 348.5L601.7 347.1L602.4 347.1L602.4 345.6L603.0 345.6L603.0 344.1L603.8 344.1L603.8 342.7L604.3 342.7L604.3 341.2L604.8 341.2L604.8 339.7L605.3 339.7L605.3 338.3L607.1 338.3L607.1 336.8L608.4 336.8L608.4 335.4L609.5 335.4L609.5 333.9L610.4 333.9L610.4 332.4L611.1 332.4L611.1 331.0L611.9 331.0L611.9 329.5L612.8 329.5L612.8 328.0L613.6 328.0L613.6 326.6L614.4 326.6L614.4 325.1L615.2 325.1L615.2 323.6L616.3 323.6L616.3 322.2L618.2 322.2L618.2 320.7L620.3 320.7L620.3 319.2L622.7 319.2L622.7 317.8L626.0 317.8L626.0 316.3L629.3 316.3L629.3 314.8L631.5 314.8L631.5 313.4L635.0 313.4L635.0 311.9L637.7 311.9L637.7 310.5L642.2 310.5L642.2 309.0L645.3 309.0L645.3 307.5L648.9 307.5L648.9 306.1L654.6 306.1L654.6 304.6L664.9 304.6L664.9 303.1L686.4 303.1L686.4 301.7L697.4 301.7L697.4 300.2L779.4 300.2" stroke="#5a5a5a"/>
<path d="M554.9 490.6L577.3 490.6L577.3 489.1L577.5 489.1L577.5 487.7L577.6 487.7L577.6 486.2L577.8 486.2L577.8 484.7L578.0 484.7L578.0 483.3L578.1 483.3L578.1 481.8L578.2 481.8L578.2 480.3L578.4 480.3L578.4 478.9L578.6 478.9L578.6 477.4L578.8 477.4L578.8 476.0L579.0 476.0L579.0 474.5L579.2 474.5L579.2 473.0L579.4 473.0L579.4 471.6L579.6 471.6L579.6 470.1L579.7 470.1L579.7 468.6L579.8 468.6L579.8 467.2L580.0 467.2L580.0 465.7L580.2 465.7L580.2 464.2L580.3 464.2L580.3 462.8L580.4 462.8L580.4 461.3L580.6 461.3L580.6 459.8L580.7 459.8L580.7 458.4L580.9 458.4L580.9 456.9L581.1 456.9L581.1 455.4L581.3 455.4L581.3 454.0L581.4 454.0L581.4 452.5L581.5 452.5L581.5 451.1L581.7 451.1L581.7 449.6L581.9 449.6L581.9 448.1L582.0 448.1L582.0 446.7L582.1 446.7L582.1 445.2L582.4 445.2L582.4 443.7L582.5 443.7L582.5 442.3L582.7 442.3L582.7 440.8L582.8 440.8L582.8 439.3L583.0 439.3L583.0 437.9L583.1 437.9L583.1 436.4L583.3 436.4L583.3 434.9L583.5 434.9L583.5 433.5L583.8 433.5L583.8 432.0L584.0 432.0L584.0 430.6L584.1 430.6L584.1 429.1L584.4 429.1L584.4 427.6L584.6 427.6L584.6 426.2L584.7 426.2L584.7 424.7L584.9 424.7L584.9 423.2L585.1 423.2L585.1 421.8L585.3 421.8L585.3 420.3L585.5 420.3L585.5 418.8L585.8 418.8L585.8 417.4L586.0 417.4L586.0 415.9L586.2 415.9L586.2 414.4L586.4 414.4L586.4 413.0L586.6 413.0L586.6 411.5L586.9 411.5L586.9 410.0L587.3 410.0L587.3 408.6L587.5 408.6L587.5 407.1L587.7 407.1L587.7 405.7L587.9 405.7L587.9 404.2L588.1 404.2L588.1 402.7L588.5 402.7L588.5 401.3L588.8 401.3L588.8 399.8L589.2 399.8L589.2 398.3L589.4 398.3L589.4 396.9L589.7 396.9L589.7 395.4L590.1 395.4L590.1 393.9L590.6 393.9L590.6 392.5L590.9 392.5L590.9 391.0L591.2 391.0L591.2 389.5L591.5 389.5L591.5 388.1L591.8 388.1L591.8 386.6L592.1 386.6L592.1 385.1L592.4 385.1L592.4 383.7L592.6 383.7L592.6 382.2L593.0 382.2L593.0 380.8L593.3 380.8L593.3 379.3L593.7 379.3L593.7 377.8L594.0 377.8L594.0 376.4L594.4 376.4L594.4 374.9L594.8 374.9L594.8 373.4L595.2 373.4L595.2 372.0L595.6 372.0L595.6 370.5L596.2 370.5L596.2 369.0L596.5 369.0L596.5 367.6L597.1 367.6L597.1 366.1L597.7 366.1L597.7 364.6L598.2 364.6L598.2 363.2L598.5 363.2L598.5 361.7L598.8 361.7L598.8 360.2L599.2 360.2L599.2 358.8L599.6 358.8L599.6 357.3L600.2 357.3L600.2 355.9L601.2 355.9L601.2 354.4L601.7 354.4L601.7 352.9L602.2 352.9L602.2 351.5L602.7 351.5L602.7 350.0L603.2 350.0L603.2 348.5L603.8 348.5L603.8 347.1L604.5 347.1L604.5 345.6L605.3 345.6L605.3 344.1L606.1 344.1L606.1 342.7L606.9 342.7L606.9 341.2L608.0 341.2L608.0 339.7L609.5 339.7L609.5 338.3L610.7 338.3L610.7 336.8L611.4 336.8L611.4 335.4L612.3 335.4L612.3 333.9L612.9 333.9L612.9 332.4L613.7 332.4L613.7 331.0L614.9 331.0L614.9 329.5L616.0 329.5L616.0 328.0L617.5 328.0L617.5 326.6L619.1 326.6L619.1 325.1L620.7 325.1L620.7 323.6L622.3 323.6L622.3 322.2L623.5 322.2L623.5 320.7L624.7 320.7L624.7 319.2L626.7 319.2L626.7 317.8L629.4 317.8L629.4 316.3L631.0 316.3L631.0 314.8L632.5 314.8L632.5 313.4L634.1 313.4L634.1 311.9L635.9 311.9L635.9 310.5L639.1 310.5L639.1 309.0L643.8 309.0L643.8 307.5L647.3 307.5L647.3 306.1L652.1 306.1L652.1 304.6L660.2 304.6L660.2 303.1L681.5 303.1L681.5 301.7L690.6 301.7L690.6 300.2L779.4 300.2" stroke="#4b97e6"/>
<path d="M554.9 490.6L577.2 490.6L577.2 489.1L577.4 489.1L577.4 487.7L577.5 487.7L577.5 486.2L577.7 486.2L577.7 484.7L577.8 484.7L577.8 483.3L577.9 483.3L577.9 481.8L578.0 481.8L578.0 480.3L578.2 480.3L578.2 478.9L578.4 478.9L578.4 477.4L578.5 477.4L578.5 476.0L578.6 476.0L578.6 474.5L578.9 474.5L578.9 473.0L579.0 473.0L579.0 471.6L579.1 471.6L579.1 470.1L579.2 470.1L579.2 468.6L579.4 468.6L579.4 467.2L579.5 467.2L579.5 465.7L579.6 465.7L579.6 464.2L579.7 464.2L579.7 462.8L579.9 462.8L579.9 461.3L580.0 461.3L580.0 459.8L580.1 459.8L580.1 458.4L580.2 458.4L580.2 456.9L580.3 456.9L580.3 455.4L580.5 455.4L580.5 454.0L580.6 454.0L580.6 452.5L580.8 452.5L580.8 451.1L581.0 451.1L581.0 449.6L581.2 449.6L581.2 448.1L581.3 448.1L581.3 446.7L581.5 446.7L581.5 445.2L581.7 445.2L581.7 443.7L581.9 443.7L581.9 442.3L582.0 442.3L582.0 440.8L582.2 440.8L582.2 439.3L582.3 439.3L582.3 437.9L582.5 437.9L582.5 436.4L582.7 436.4L582.7 434.9L582.9 434.9L582.9 433.5L583.2 433.5L583.2 432.0L583.3 432.0L583.3 430.6L583.5 430.6L583.5 429.1L583.6 429.1L583.6 427.6L583.8 427.6L583.8 426.2L583.9 426.2L583.9 424.7L584.1 424.7L584.1 423.2L584.3 423.2L584.3 421.8L584.6 421.8L584.6 420.3L584.7 420.3L584.7 418.8L585.0 418.8L585.0 417.4L585.3 417.4L585.3 415.9L585.5 415.9L585.5 414.4L585.7 414.4L585.7 413.0L585.8 413.0L585.8 411.5L586.1 411.5L586.1 410.0L586.3 410.0L586.3 408.6L586.5 408.6L586.5 407.1L586.8 407.1L586.8 405.7L587.0 405.7L587.0 404.2L587.2 404.2L587.2 402.7L587.5 402.7L587.5 401.3L587.7 401.3L587.7 399.8L588.2 399.8L588.2 398.3L588.6 398.3L588.6 396.9L589.2 396.9L589.2 395.4L589.5 395.4L589.5 393.9L589.9 393.9L589.9 392.5L590.3 392.5L590.3 391.0L590.7 391.0L590.7 389.5L590.9 389.5L590.9 388.1L591.2 388.1L591.2 386.6L591.6 386.6L591.6 385.1L592.0 385.1L592.0 383.7L592.3 383.7L592.3 382.2L592.6 382.2L592.6 380.8L593.0 380.8L593.0 379.3L593.5 379.3L593.5 377.8L593.8 377.8L593.8 376.4L594.3 376.4L594.3 374.9L594.8 374.9L594.8 373.4L595.1 373.4L595.1 372.0L595.4 372.0L595.4 370.5L595.8 370.5L595.8 369.0L596.2 369.0L596.2 367.6L596.7 367.6L596.7 366.1L597.2 366.1L597.2 364.6L597.5 364.6L597.5 363.2L597.8 363.2L597.8 361.7L598.2 361.7L598.2 360.2L598.5 360.2L598.5 358.8L598.8 358.8L598.8 357.3L599.7 357.3L599.7 355.9L600.4 355.9L600.4 354.4L601.2 354.4L601.2 352.9L601.8 352.9L601.8 351.5L602.3 351.5L602.3 350.0L602.9 350.0L602.9 348.5L603.4 348.5L603.4 347.1L604.1 347.1L604.1 345.6L604.8 345.6L604.8 344.1L605.3 344.1L605.3 342.7L606.4 342.7L606.4 341.2L607.4 341.2L607.4 339.7L608.5 339.7L608.5 338.3L610.3 338.3L610.3 336.8L611.0 336.8L611.0 335.4L611.8 335.4L611.8 333.9L612.6 333.9L612.6 332.4L613.5 332.4L613.5 331.0L614.5 331.0L614.5 329.5L615.6 329.5L615.6 328.0L617.1 328.0L617.1 326.6L618.5 326.6L618.5 325.1L619.9 325.1L619.9 323.6L621.8 323.6L621.8 322.2L622.9 322.2L622.9 320.7L624.3 320.7L624.3 319.2L625.9 319.2L625.9 317.8L628.4 317.8L628.4 316.3L629.8 316.3L629.8 314.8L631.8 314.8L631.8 313.4L633.5 313.4L633.5 311.9L635.3 311.9L635.3 310.5L639.0 310.5L639.0 309.0L643.1 309.0L643.1 307.5L646.7 307.5L646.7 306.1L650.9 306.1L650.9 304.6L657.1 304.6L657.1 303.1L667.9 303.1L667.9 301.7L688.5 301.7L688.5 300.2L779.4 300.2" stroke="#3f973f"/>
<path d="M554.9 490.6L577.2 490.6L577.2 489.1L577.4 489.1L577.4 487.7L577.5 487.7L577.5 486.2L577.6 486.2L577.6 484.7L577.7 484.7L577.7 483.3L577.8 483.3L577.8 481.8L577.9 481.8L577.9 480.3L578.0 480.3L578.0 478.9L578.1 478.9L578.1 477.4L578.2 477.4L578.2 476.0L578.4 476.0L578.4 474.5L578.6 474.5L578.6 473.0L578.7 473.0L578.7 471.6L578.8 471.6L578.8 470.1L578.9 470.1L578.9 468.6L579.1 468.6L579.1 467.2L579.2 467.2L579.2 465.7L579.4 465.7L579.4 464.2L579.5 464.2L579.5 462.8L579.5 462.8L579.5 461.3L579.6 461.3L579.6 459.8L579.8 459.8L579.8 458.4L579.9 458.4L579.9 456.9L580.0 456.9L580.0 455.4L580.1 455.4L580.1 454.0L580.3 454.0L580.3 452.5L580.5 452.5L580.5 451.1L580.6 451.1L580.6 449.6L580.8 449.6L580.8 448.1L580.9 448.1L580.9 446.7L581.1 446.7L581.1 445.2L581.3 445.2L581.3 443.7L581.5 443.7L581.5 442.3L581.6 442.3L581.6 440.8L581.8 440.8L581.8 439.3L582.0 439.3L582.0 437.9L582.2 437.9L582.2 436.4L582.3 436.4L582.3 434.9L582.5 434.9L582.5 433.5L582.7 433.5L582.7 432.0L582.9 432.0L582.9 430.6L583.0 430.6L583.0 429.1L583.2 429.1L583.2 427.6L583.4 427.6L583.4 426.2L583.5 426.2L583.5 424.7L583.8 424.7L583.8 423.2L584.3 423.2L584.3 421.8L584.5 421.8L584.5 420.3L584.7 420.3L584.7 418.8L584.9 418.8L584.9 417.4L585.1 417.4L585.1 415.9L585.3 415.9L585.3 414.4L585.6 414.4L585.6 413.0L585.8 413.0L585.8 411.5L586.0 411.5L586.0 410.0L586.2 410.0L586.2 408.6L586.5 408.6L586.5 407.1L586.7 407.1L586.7 405.7L587.1 405.7L587.1 404.2L587.3 404.2L587.3 402.7L587.5 402.7L587.5 401.3L587.8 401.3L587.8 399.8L588.4 399.8L588.4 398.3L588.8 398.3L588.8 396.9L589.0 396.9L589.0 395.4L589.4 395.4L589.4 393.9L589.7 393.9L589.7 392.5L590.0 392.5L590.0 391.0L590.3 391.0L590.3 389.5L590.6 389.5L590.6 388.1L591.0 388.1L591.0 386.6L591.3 386.6L591.3 385.1L591.6 385.1L591.6 383.7L591.9 383.7L591.9 382.2L592.2 382.2L592.2 380.8L592.5 380.8L592.5 379.3L592.9 379.3L592.9 377.8L593.2 377.8L593.2 376.4L593.7 376.4L593.7 374.9L594.2 374.9L594.2 373.4L594.5 373.4L594.5 372.0L594.9 372.0L594.9 370.5L595.3 370.5L595.3 369.0L595.7 369.0L595.7 367.6L596.3 367.6L596.3 366.1L596.8 366.1L596.8 364.6L597.1 364.6L597.1 363.2L597.4 363.2L597.4 361.7L597.8 361.7L597.8 360.2L598.2 360.2L598.2 358.8L598.8 358.8L598.8 357.3L599.7 357.3L599.7 355.9L600.2 355.9L600.2 354.4L600.8 354.4L600.8 352.9L601.3 352.9L601.3 351.5L601.8 351.5L601.8 350.0L602.3 350.0L602.3 348.5L603.0 348.5L603.0 347.1L603.6 347.1L603.6 345.6L604.2 345.6L604.2 344.1L604.7 344.1L604.7 342.7L606.5 342.7L606.5 341.2L607.3 341.2L607.3 339.7L608.4 339.7L608.4 338.3L609.6 338.3L609.6 336.8L610.6 336.8L610.6 335.4L611.6 335.4L611.6 333.9L612.3 333.9L612.3 332.4L613.0 332.4L613.0 331.0L614.1 331.0L614.1 329.5L615.0 329.5L615.0 328.0L616.3 328.0L616.3 326.6L618.7 326.6L618.7 325.1L620.0 325.1L620.0 323.6L621.2 323.6L621.2 322.2L622.3 322.2L622.3 320.7L623.6 320.7L623.6 319.2L625.2 319.2L625.2 317.8L627.9 317.8L627.9 316.3L629.5 316.3L629.5 314.8L631.1 314.8L631.1 313.4L632.8 313.4L632.8 311.9L634.5 311.9L634.5 310.5L637.8 310.5L637.8 309.0L641.5 309.0L641.5 307.5L644.6 307.5L644.6 306.1L648.6 306.1L648.6 304.6L657.3 304.6L657.3 303.1L671.4 303.1L671.4 301.7L689.3 301.7L689.3 300.2L779.4 300.2" stroke="#d6761a" stroke-opacity=".85"/>
<path d="M554.9 490.6H577.3" stroke="#5c5c4c"/>
</g>
<rect x="664.4" y="452.4" width="115.0" height="45.6" class="lg"/>
<text class="l" transform="translate(681.2 467.1) scale(.971 1)">WRF-USGS: 0.92</text>
<text class="l" transform="translate(681.2 478.4) scale(.971 1)">WRF-NLCD: 0.98</text>
<text class="l" transform="translate(681.2 489.7) scale(.971 1)">WRF-NLCDDEF: 0.97</text>
<rect x="554.9" y="292.6" width="224.5" height="205.3" class="f"/>
<text class="a" transform="translate(547.6 490.6) rotate(-90) scale(.93 1)">0.0</text>
<text class="a" transform="translate(547.6 452.5) rotate(-90) scale(.93 1)">0.2</text>
<text class="a" transform="translate(547.6 414.4) rotate(-90) scale(.93 1)">0.4</text>
<text class="a" transform="translate(547.6 376.4) rotate(-90) scale(.93 1)">0.6</text>
<text class="a" transform="translate(547.6 338.3) rotate(-90) scale(.93 1)">0.8</text>
<text class="a" transform="translate(547.6 300.2) rotate(-90) scale(.93 1)">1.0</text>
<text class="a" transform="translate(577.3 509.4) scale(.93 1)">0</text>
<text class="a" transform="translate(639.8 509.4) scale(.93 1)">5</text>
<text class="a" transform="translate(702.4 509.4) scale(.93 1)">10</text>
<text class="a" transform="translate(764.9 509.4) scale(.93 1)">15</text>
<path d="M554.9 490.6h-3.5M554.9 452.5h-3.5M554.9 414.4h-3.5M554.9 376.4h-3.5M554.9 338.3h-3.5M554.9 300.2h-3.5M577.3 498.0v3.5M639.8 498.0v3.5M702.4 498.0v3.5M764.9 498.0v3.5" class="k"/>
</g>
<g>
<clipPath id="c4"><rect x="28.2" y="556.5" width="224.5" height="205.3"/></clipPath>
<text class="t" transform="translate(140.2 546.9) scale(1.07 1)">Ohio Valley</text>
<path d="M28.2 564.1H252.7M28.2 754.5H252.7" class="h"/>
<g clip-path="url(#c4)" class="cv">
<path d="M28.2 754.5L50.4 754.5L50.4 753.0L50.5 753.0L50.5 751.6L50.7 751.6L50.7 750.1L50.8 750.1L50.8 748.6L50.9 748.6L50.9 747.2L50.9 747.2L50.9 745.7L51.1 745.7L51.1 744.2L51.2 744.2L51.2 742.8L51.3 742.8L51.3 741.3L51.4 741.3L51.4 739.9L51.5 739.9L51.5 738.4L51.6 738.4L51.6 736.9L51.7 736.9L51.7 735.5L51.8 735.5L51.8 734.0L51.9 734.0L51.9 732.5L52.2 732.5L52.2 731.1L52.4 731.1L52.4 729.6L52.6 729.6L52.6 728.1L52.8 728.1L52.8 726.7L53.1 726.7L53.1 725.2L53.4 725.2L53.4 723.7L53.6 723.7L53.6 722.3L53.8 722.3L53.8 720.8L54.0 720.8L54.0 719.3L54.2 719.3L54.2 717.9L54.4 717.9L54.4 716.4L54.6 716.4L54.6 715.0L54.8 715.0L54.8 713.5L55.1 713.5L55.1 712.0L55.3 712.0L55.3 710.6L55.5 710.6L55.5 709.1L55.8 709.1L55.8 707.6L56.2 707.6L56.2 706.2L56.5 706.2L56.5 704.7L56.9 704.7L56.9 703.2L57.1 703.2L57.1 701.8L57.4 701.8L57.4 700.3L57.7 700.3L57.7 698.8L58.0 698.8L58.0 697.4L58.3 697.4L58.3 695.9L58.6 695.9L58.6 694.5L58.9 694.5L58.9 693.0L59.2 693.0L59.2 691.5L59.5 691.5L59.5 690.1L59.7 690.1L59.7 688.6L60.0 688.6L60.0 687.1L60.2 687.1L60.2 685.7L60.6 685.7L60.6 684.2L60.9 684.2L60.9 682.7L61.3 682.7L61.3 681.3L62.0 681.3L62.0 679.8L62.4 679.8L62.4 678.3L62.7 678.3L62.7 676.9L63.0 676.9L63.0 675.4L63.4 675.4L63.4 673.9L64.1 673.9L64.1 672.5L64.5 672.5L64.5 671.0L64.8 671.0L64.8 669.6L65.4 669.6L65.4 668.1L65.9 668.1L65.9 666.6L66.3 666.6L66.3 665.2L66.7 665.2L66.7 663.7L67.1 663.7L67.1 662.2L67.5 662.2L67.5 660.8L67.9 660.8L67.9 659.3L68.3 659.3L68.3 657.8L69.0 657.8L69.0 656.4L69.3 656.4L69.3 654.9L69.7 654.9L69.7 653.4L70.3 653.4L70.3 652.0L71.0 652.0L71.0 650.5L71.4 650.5L71.4 649.0L71.9 649.0L71.9 647.6L73.1 647.6L73.1 646.1L73.6 646.1L73.6 644.7L74.5 644.7L74.5 643.2L75.8 643.2L75.8 641.7L77.2 641.7L77.2 640.3L78.1 640.3L78.1 638.8L78.7 638.8L78.7 637.3L79.2 637.3L79.2 635.9L79.7 635.9L79.7 634.4L80.6 634.4L80.6 632.9L81.3 632.9L81.3 631.5L82.0 631.5L82.0 630.0L82.9 630.0L82.9 628.5L83.5 628.5L83.5 627.1L84.4 627.1L84.4 625.6L85.5 625.6L85.5 624.1L86.1 624.1L86.1 622.7L87.0 622.7L87.0 621.2L88.0 621.2L88.0 619.8L88.8 619.8L88.8 618.3L89.7 618.3L89.7 616.8L90.6 616.8L90.6 615.4L91.4 615.4L91.4 613.9L92.3 613.9L92.3 612.4L93.5 612.4L93.5 611.0L94.4 611.0L94.4 609.5L95.9 609.5L95.9 608.0L97.3 608.0L97.3 606.6L99.3 606.6L99.3 605.1L100.8 605.1L100.8 603.6L102.2 603.6L102.2 602.2L103.4 602.2L103.4 600.7L104.9 600.7L104.9 599.3L106.0 599.3L106.0 597.8L107.3 597.8L107.3 596.3L109.7 596.3L109.7 594.9L111.1 594.9L111.1 593.4L112.9 593.4L112.9 591.9L114.8 591.9L114.8 590.5L116.5 590.5L116.5 589.0L118.5 589.0L118.5 587.5L120.2 587.5L120.2 586.1L121.6 586.1L121.6 584.6L123.0 584.6L123.0 583.1L125.3 583.1L125.3 581.7L127.8 581.7L127.8 580.2L130.6 580.2L130.6 578.7L132.6 578.7L132.6 577.3L135.5 577.3L135.5 575.8L139.0 575.8L139.0 574.4L141.7 574.4L141.7 572.9L147.0 572.9L147.0 571.4L150.9 571.4L150.9 570.0L156.0 570.0L156.0 568.5L160.4 568.5L160.4 567.0L165.7 567.0L165.7 565.6L197.8 565.6L197.8 564.1L252.7 564.1" stroke="#5a5a5a"/>
<path d="M28.2 754.5L50.5 754.5L50.5 753.0L50.6 753.0L50.6 751.6L50.8 751.6L50.8 750.1L51.0 750.1L51.0 748.6L51.1 748.6L51.1 747.2L51.3 747.2L51.3 745.7L51.5 745.7L51.5 744.2L51.6 744.2L51.6 742.8L51.7 742.8L51.7 741.3L51.9 741.3L51.9 739.9L52.1 739.9L52.1 738.4L52.3 738.4L52.3 736.9L52.4 736.9L52.4 735.5L52.6 735.5L52.6 734.0L52.8 734.0L52.8 732.5L53.0 732.5L53.0 731.1L53.2 731.1L53.2 729.6L53.3 729.6L53.3 728.1L53.6 728.1L53.6 726.7L53.7 726.7L53.7 725.2L53.9 725.2L53.9 723.7L54.2 723.7L54.2 722.3L54.3 722.3L54.3 720.8L54.5 720.8L54.5 719.3L54.7 719.3L54.7 717.9L54.9 717.9L54.9 716.4L55.1 716.4L55.1 715.0L55.2 715.0L55.2 713.5L55.4 713.5L55.4 712.0L55.8 712.0L55.8 710.6L56.0 710.6L56.0 709.1L56.2 709.1L56.2 707.6L56.4 707.6L56.4 706.2L56.7 706.2L56.7 704.7L57.0 704.7L57.0 703.2L57.2 703.2L57.2 701.8L57.5 701.8L57.5 700.3L57.8 700.3L57.8 698.8L58.0 698.8L58.0 697.4L58.2 697.4L58.2 695.9L58.5 695.9L58.5 694.5L58.7 694.5L58.7 693.0L59.0 693.0L59.0 691.5L59.2 691.5L59.2 690.1L59.5 690.1L59.5 688.6L59.8 688.6L59.8 687.1L60.1 687.1L60.1 685.7L60.5 685.7L60.5 684.2L60.8 684.2L60.8 682.7L61.3 682.7L61.3 681.3L61.6 681.3L61.6 679.8L61.9 679.8L61.9 678.3L62.2 678.3L62.2 676.9L62.4 676.9L62.4 675.4L62.7 675.4L62.7 673.9L62.9 673.9L62.9 672.5L63.2 672.5L63.2 671.0L63.5 671.0L63.5 669.6L63.9 669.6L63.9 668.1L64.2 668.1L64.2 666.6L64.7 666.6L64.7 665.2L65.0 665.2L65.0 663.7L65.2 663.7L65.2 662.2L65.5 662.2L65.5 660.8L65.8 660.8L65.8 659.3L66.5 659.3L66.5 657.8L66.9 657.8L66.9 656.4L67.4 656.4L67.4 654.9L67.8 654.9L67.8 653.4L68.7 653.4L68.7 652.0L69.1 652.0L69.1 650.5L69.5 650.5L69.5 649.0L69.9 649.0L69.9 647.6L70.5 647.6L70.5 646.1L70.9 646.1L70.9 644.7L71.3 644.7L71.3 643.2L71.7 643.2L71.7 641.7L72.4 641.7L72.4 640.3L72.8 640.3L72.8 638.8L73.4 638.8L73.4 637.3L73.9 637.3L73.9 635.9L74.6 635.9L74.6 634.4L75.0 634.4L75.0 632.9L75.5 632.9L75.5 631.5L76.0 631.5L76.0 630.0L76.6 630.0L76.6 628.5L77.2 628.5L77.2 627.1L77.8 627.1L77.8 625.6L78.6 625.6L78.6 624.1L79.4 624.1L79.4 622.7L80.5 622.7L80.5 621.2L81.1 621.2L81.1 619.8L81.7 619.8L81.7 618.3L82.5 618.3L82.5 616.8L83.1 616.8L83.1 615.4L83.7 615.4L83.7 613.9L84.4 613.9L84.4 612.4L85.0 612.4L85.0 611.0L85.9 611.0L85.9 609.5L86.5 609.5L86.5 608.0L87.4 608.0L87.4 606.6L88.3 606.6L88.3 605.1L89.6 605.1L89.6 603.6L90.6 603.6L90.6 602.2L92.2 602.2L92.2 600.7L93.1 600.7L93.1 599.3L94.1 599.3L94.1 597.8L95.2 597.8L95.2 596.3L97.1 596.3L97.1 594.9L98.5 594.9L98.5 593.4L100.8 593.4L100.8 591.9L102.7 591.9L102.7 590.5L104.6 590.5L104.6 589.0L107.9 589.0L107.9 587.5L111.1 587.5L111.1 586.1L113.4 586.1L113.4 584.6L118.0 584.6L118.0 583.1L121.0 583.1L121.0 581.7L124.8 581.7L124.8 580.2L127.5 580.2L127.5 578.7L130.5 578.7L130.5 577.3L132.8 577.3L132.8 575.8L135.3 575.8L135.3 574.4L140.0 574.4L140.0 572.9L143.2 572.9L143.2 571.4L148.1 571.4L148.1 570.0L158.9 570.0L158.9 568.5L164.0 568.5L164.0 567.0L171.4 567.0L171.4 565.6L202.0 565.6L202.0 564.1L252.7 564.1" stroke="#4b97e6"/>
<path d="M28.2 754.5L50.4 754.5L50.4 753.0L50.5 753.0L50.5 751.6L50.6 751.6L50.6 750.1L50.7 750.1L50.7 748.6L50.8 748.6L50.8 747.2L50.9 747.2L50.9 745.7L51.0 745.7L51.0 744.2L51.0 744.2L51.0 742.8L51.1 742.8L51.1 741.3L51.3 741.3L51.3 739.9L51.3 739.9L51.3 738.4L51.4 738.4L51.4 736.9L51.5 736.9L51.5 735.5L51.6 735.5L51.6 734.0L51.7 734.0L51.7 732.5L51.9 732.5L51.9 731.1L52.1 731.1L52.1 729.6L52.3 729.6L52.3 728.1L52.4 728.1L52.4 726.7L52.6 726.7L52.6 725.2L52.7 725.2L52.7 723.7L53.0 723.7L53.0 722.3L53.2 722.3L53.2 720.8L53.3 720.8L53.3 719.3L53.5 719.3L53.5 717.9L53.7 717.9L53.7 716.4L53.9 716.4L53.9 715.0L54.1 715.0L54.1 713.5L54.3 713.5L54.3 712.0L54.6 712.0L54.6 710.6L54.8 710.6L54.8 709.1L55.0 709.1L55.0 707.6L55.3 707.6L55.3 706.2L55.5 706.2L55.5 704.7L55.9 704.7L55.9 703.2L56.1 703.2L56.1 701.8L56.4 701.8L56.4 700.3L56.6 700.3L56.6 698.8L56.8 698.8L56.8 697.4L57.0 697.4L57.0 695.9L57.2 695.9L57.2 694.5L57.4 694.5L57.4 693.0L57.8 693.0L57.8 691.5L58.1 691.5L58.1 690.1L58.3 690.1L58.3 688.6L58.6 688.6L58.6 687.1L58.8 687.1L58.8 685.7L59.1 685.7L59.1 684.2L59.7 684.2L59.7 682.7L60.1 682.7L60.1 681.3L60.5 681.3L60.5 679.8L60.7 679.8L60.7 678.3L61.0 678.3L61.0 676.9L61.2 676.9L61.2 675.4L61.5 675.4L61.5 673.9L61.8 673.9L61.8 672.5L62.1 672.5L62.1 671.0L62.3 671.0L62.3 669.6L62.7 669.6L62.7 668.1L63.0 668.1L63.0 666.6L63.3 666.6L63.3 665.2L63.6 665.2L63.6 663.7L63.9 663.7L63.9 662.2L64.2 662.2L64.2 660.8L64.4 660.8L64.4 659.3L64.7 659.3L64.7 657.8L65.2 657.8L65.2 656.4L65.7 656.4L65.7 654.9L66.2 654.9L66.2 653.4L66.8 653.4L66.8 652.0L67.3 652.0L67.3 650.5L67.7 650.5L67.7 649.0L68.1 649.0L68.1 647.6L68.8 647.6L68.8 646.1L69.3 646.1L69.3 644.7L69.7 644.7L69.7 643.2L70.3 643.2L70.3 641.7L70.7 641.7L70.7 640.3L71.3 640.3L71.3 638.8L71.7 638.8L71.7 637.3L72.2 637.3L72.2 635.9L72.9 635.9L72.9 634.4L73.4 634.4L73.4 632.9L73.9 632.9L73.9 631.5L74.4 631.5L74.4 630.0L75.0 630.0L75.0 628.5L76.0 628.5L76.0 627.1L76.6 627.1L76.6 625.6L77.2 625.6L77.2 624.1L77.9 624.1L77.9 622.7L78.9 622.7L78.9 621.2L79.5 621.2L79.5 619.8L80.3 619.8L80.3 618.3L81.0 618.3L81.0 616.8L81.6 616.8L81.6 615.4L82.7 615.4L82.7 613.9L83.3 613.9L83.3 612.4L84.4 612.4L84.4 611.0L85.1 611.0L85.1 609.5L85.7 609.5L85.7 608.0L86.5 608.0L86.5 606.6L87.7 606.6L87.7 605.1L89.0 605.1L89.0 603.6L90.1 603.6L90.1 602.2L91.5 602.2L91.5 600.7L92.6 600.7L92.6 599.3L93.6 599.3L93.6 597.8L94.9 597.8L94.9 596.3L96.8 596.3L96.8 594.9L98.9 594.9L98.9 593.4L100.5 593.4L100.5 591.9L102.7 591.9L102.7 590.5L107.3 590.5L107.3 589.0L109.6 589.0L109.6 587.5L113.1 587.5L113.1 586.1L115.7 586.1L115.7 584.6L120.5 584.6L120.5 583.1L124.2 583.1L124.2 581.7L126.3 581.7L126.3 580.2L128.8 580.2L128.8 578.7L131.6 578.7L131.6 577.3L133.9 577.3L133.9 575.8L136.5 575.8L136.5 574.4L139.6 574.4L139.6 572.9L143.1 572.9L143.1 571.4L149.7 571.4L149.7 570.0L156.9 570.0L156.9 568.5L164.3 568.5L164.3 567.0L172.7 567.0L172.7 565.6L202.4 565.6L202.4 564.1L252.7 564.1" stroke="#3f973f"/>
<path d="M28.2 754.5L50.4 754.5L50.4 753.0L50.6 753.0L50.6 751.6L50.7 751.6L50.7 750.1L50.8 750.1L50.8 748.6L50.9 748.6L50.9 747.2L51.0 747.2L51.0 745.7L51.1 745.7L51.1 744.2L51.2 744.2L51.2 742.8L51.4 742.8L51.4 741.3L51.6 741.3L51.6 739.9L51.7 739.9L51.7 738.4L51.8 738.4L51.8 736.9L51.9 736.9L51.9 735.5L52.1 735.5L52.1 734.0L52.3 734.0L52.3 732.5L52.5 732.5L52.5 731.1L52.6 731.1L52.6 729.6L52.8 729.6L52.8 728.1L53.0 728.1L53.0 726.7L53.1 726.7L53.1 725.2L53.3 725.2L53.3 723.7L53.5 723.7L53.5 722.3L53.7 722.3L53.7 720.8L53.9 720.8L53.9 719.3L54.1 719.3L54.1 717.9L54.3 717.9L54.3 716.4L54.4 716.4L54.4 715.0L54.6 715.0L54.6 713.5L54.7 713.5L54.7 712.0L55.0 712.0L55.0 710.6L55.2 710.6L55.2 709.1L55.4 709.1L55.4 707.6L55.5 707.6L55.5 706.2L55.9 706.2L55.9 704.7L56.1 704.7L56.1 703.2L56.5 703.2L56.5 701.8L56.7 701.8L56.7 700.3L56.9 700.3L56.9 698.8L57.1 698.8L57.1 697.4L57.3 697.4L57.3 695.9L57.5 695.9L57.5 694.5L57.7 694.5L57.7 693.0L58.0 693.0L58.0 691.5L58.3 691.5L58.3 690.1L58.5 690.1L58.5 688.6L58.7 688.6L58.7 687.1L58.9 687.1L58.9 685.7L59.2 685.7L59.2 684.2L59.5 684.2L59.5 682.7L59.9 682.7L59.9 681.3L60.1 681.3L60.1 679.8L60.4 679.8L60.4 678.3L60.8 678.3L60.8 676.9L61.0 676.9L61.0 675.4L61.3 675.4L61.3 673.9L61.7 673.9L61.7 672.5L62.0 672.5L62.0 671.0L62.2 671.0L62.2 669.6L62.5 669.6L62.5 668.1L62.8 668.1L62.8 666.6L63.1 666.6L63.1 665.2L63.5 665.2L63.5 663.7L63.8 663.7L63.8 662.2L64.0 662.2L64.0 660.8L64.3 660.8L64.3 659.3L64.6 659.3L64.6 657.8L64.9 657.8L64.9 656.4L65.3 656.4L65.3 654.9L65.7 654.9L65.7 653.4L66.2 653.4L66.2 652.0L66.8 652.0L66.8 650.5L67.2 650.5L67.2 649.0L67.6 649.0L67.6 647.6L68.1 647.6L68.1 646.1L68.5 646.1L68.5 644.7L68.9 644.7L68.9 643.2L69.4 643.2L69.4 641.7L69.9 641.7L69.9 640.3L70.3 640.3L70.3 638.8L70.8 638.8L70.8 637.3L71.8 637.3L71.8 635.9L72.3 635.9L72.3 634.4L72.9 634.4L72.9 632.9L73.4 632.9L73.4 631.5L73.9 631.5L73.9 630.0L74.7 630.0L74.7 628.5L75.3 628.5L75.3 627.1L76.0 627.1L76.0 625.6L76.6 625.6L76.6 624.1L77.3 624.1L77.3 622.7L78.0 622.7L78.0 621.2L78.7 621.2L78.7 619.8L79.4 619.8L79.4 618.3L80.1 618.3L80.1 616.8L80.8 616.8L80.8 615.4L81.5 615.4L81.5 613.9L82.4 613.9L82.4 612.4L83.1 612.4L83.1 611.0L83.7 611.0L83.7 609.5L84.3 609.5L84.3 608.0L84.9 608.0L84.9 606.6L85.5 606.6L85.5 605.1L86.2 605.1L86.2 603.6L87.1 603.6L87.1 602.2L88.3 602.2L88.3 600.7L89.2 600.7L89.2 599.3L90.8 599.3L90.8 597.8L92.3 597.8L92.3 596.3L93.7 596.3L93.7 594.9L94.9 594.9L94.9 593.4L96.6 593.4L96.6 591.9L99.2 591.9L99.2 590.5L100.9 590.5L100.9 589.0L102.6 589.0L102.6 587.5L104.9 587.5L104.9 586.1L107.0 586.1L107.0 584.6L111.8 584.6L111.8 583.1L115.0 583.1L115.0 581.7L118.2 581.7L118.2 580.2L121.6 580.2L121.6 578.7L124.9 578.7L124.9 577.3L128.0 577.3L128.0 575.8L130.5 575.8L130.5 574.4L133.0 574.4L133.0 572.9L136.7 572.9L136.7 571.4L139.7 571.4L139.7 570.0L144.9 570.0L144.9 568.5L160.8 568.5L160.8 567.0L167.1 567.0L167.1 565.6L187.2 565.6L187.2 564.1L252.7 564.1" stroke="#d6761a" stroke-opacity=".85"/>
<path d="M28.2 754.5H50.6" stroke="#5c5c4c"/>
</g>
<rect x="137.7" y="716.2" width="115.0" height="45.6" class="lg"/>
<text class="l" transform="translate(154.5 731.0) scale(.971 1)">WRF-USGS: 0.86</text>
<text class="l" transform="translate(154.5 742.2) scale(.971 1)">WRF-NLCD: 0.87</text>
<text class="l" transform="translate(154.5 753.6) scale(.971 1)">WRF-NLCDDEF: 0.89</text>
<rect x="28.2" y="556.5" width="224.5" height="205.3" class="f"/>
<text class="a" transform="translate(20.9 754.5) rotate(-90) scale(.93 1)">0.0</text>
<text class="a" transform="translate(20.9 716.4) rotate(-90) scale(.93 1)">0.2</text>
<text class="a" transform="translate(20.9 678.3) rotate(-90) scale(.93 1)">0.4</text>
<text class="a" transform="translate(20.9 640.3) rotate(-90) scale(.93 1)">0.6</text>
<text class="a" transform="translate(20.9 602.2) rotate(-90) scale(.93 1)">0.8</text>
<text class="a" transform="translate(20.9 564.1) rotate(-90) scale(.93 1)">1.0</text>
<text class="a" transform="translate(50.6 773.2) scale(.93 1)">0</text>
<text class="a" transform="translate(96.5 773.2) scale(.93 1)">5</text>
<text class="a" transform="translate(142.5 773.2) scale(.93 1)">10</text>
<text class="a" transform="translate(188.4 773.2) scale(.93 1)">15</text>
<text class="a" transform="translate(234.4 773.2) scale(.93 1)">20</text>
<path d="M28.2 754.5h-3.5M28.2 716.4h-3.5M28.2 678.3h-3.5M28.2 640.3h-3.5M28.2 602.2h-3.5M28.2 564.1h-3.5M50.6 761.9v3.5M96.5 761.9v3.5M142.5 761.9v3.5M188.4 761.9v3.5M234.4 761.9v3.5" class="k"/>
</g>
<g>
<clipPath id="c5"><rect x="291.5" y="556.5" width="224.5" height="205.3"/></clipPath>
<text class="t" transform="translate(403.6 546.9) scale(1.07 1)">South</text>
<path d="M291.5 564.1H516.0M291.5 754.5H516.0" class="h"/>
<g clip-path="url(#c5)" class="cv">
<path d="M291.5 754.5L314.5 754.5L314.5 753.0L315.2 753.0L315.2 751.6L316.1 751.6L316.1 750.1L316.8 750.1L316.8 748.6L317.2 748.6L317.2 747.2L317.5 747.2L317.5 745.7L317.8 745.7L317.8 744.2L318.1 744.2L318.1 742.8L318.5 742.8L318.5 741.3L318.9 741.3L318.9 739.9L319.3 739.9L319.3 738.4L319.6 738.4L319.6 736.9L319.8 736.9L319.8 735.5L320.1 735.5L320.1 734.0L320.5 734.0L320.5 732.5L320.8 732.5L320.8 731.1L321.1 731.1L321.1 729.6L321.5 729.6L321.5 728.1L322.2 728.1L322.2 726.7L322.4 726.7L322.4 725.2L322.9 725.2L322.9 723.7L323.3 723.7L323.3 722.3L323.6 722.3L323.6 720.8L323.9 720.8L323.9 719.3L324.2 719.3L324.2 717.9L324.4 717.9L324.4 716.4L324.7 716.4L324.7 715.0L325.0 715.0L325.0 713.5L325.3 713.5L325.3 712.0L325.6 712.0L325.6 710.6L325.9 710.6L325.9 709.1L326.2 709.1L326.2 707.6L326.6 707.6L326.6 706.2L326.9 706.2L326.9 704.7L327.2 704.7L327.2 703.2L327.5 703.2L327.5 701.8L328.0 701.8L328.0 700.3L328.5 700.3L328.5 698.8L328.9 698.8L328.9 697.4L329.3 697.4L329.3 695.9L329.7 695.9L329.7 694.5L330.1 694.5L330.1 693.0L330.4 693.0L330.4 691.5L330.8 691.5L330.8 690.1L331.3 690.1L331.3 688.6L331.6 688.6L331.6 687.1L331.9 687.1L331.9 685.7L332.3 685.7L332.3 684.2L332.8 684.2L332.8 682.7L333.4 682.7L333.4 681.3L333.9 681.3L333.9 679.8L334.8 679.8L334.8 678.3L335.4 678.3L335.4 676.9L336.5 676.9L336.5 675.4L337.6 675.4L337.6 673.9L339.0 673.9L339.0 672.5L339.5 672.5L339.5 671.0L340.5 671.0L340.5 669.6L341.0 669.6L341.0 668.1L341.5 668.1L341.5 666.6L342.0 666.6L342.0 665.2L342.8 665.2L342.8 663.7L343.9 663.7L343.9 662.2L345.1 662.2L345.1 660.8L345.7 660.8L345.7 659.3L346.4 659.3L346.4 657.8L347.0 657.8L347.0 656.4L348.4 656.4L348.4 654.9L349.2 654.9L349.2 653.4L350.0 653.4L350.0 652.0L350.7 652.0L350.7 650.5L351.4 650.5L351.4 649.0L352.4 649.0L352.4 647.6L353.2 647.6L353.2 646.1L353.7 646.1L353.7 644.7L354.4 644.7L354.4 643.2L355.0 643.2L355.0 641.7L355.5 641.7L355.5 640.3L356.4 640.3L356.4 638.8L356.8 638.8L356.8 637.3L357.5 637.3L357.5 635.9L358.1 635.9L358.1 634.4L358.6 634.4L358.6 632.9L359.1 632.9L359.1 631.5L359.6 631.5L359.6 630.0L360.5 630.0L360.5 628.5L361.2 628.5L361.2 627.1L361.7 627.1L361.7 625.6L362.1 625.6L362.1 624.1L362.9 624.1L362.9 622.7L363.4 622.7L363.4 621.2L364.1 621.2L364.1 619.8L364.6 619.8L364.6 618.3L365.2 618.3L365.2 616.8L365.5 616.8L365.5 615.4L366.1 615.4L366.1 613.9L366.5 613.9L366.5 612.4L366.8 612.4L366.8 611.0L367.8 611.0L367.8 609.5L368.9 609.5L368.9 608.0L369.8 608.0L369.8 606.6L370.7 606.6L370.7 605.1L372.1 605.1L372.1 603.6L372.9 603.6L372.9 602.2L374.2 602.2L374.2 600.7L376.1 600.7L376.1 599.3L377.4 599.3L377.4 597.8L379.0 597.8L379.0 596.3L380.4 596.3L380.4 594.9L383.1 594.9L383.1 593.4L385.2 593.4L385.2 591.9L387.5 591.9L387.5 590.5L391.4 590.5L391.4 589.0L393.2 589.0L393.2 587.5L395.2 587.5L395.2 586.1L401.4 586.1L401.4 584.6L403.1 584.6L403.1 583.1L404.7 583.1L404.7 581.7L407.5 581.7L407.5 580.2L411.0 580.2L411.0 578.7L416.2 578.7L416.2 577.3L420.6 577.3L420.6 575.8L426.5 575.8L426.5 574.4L431.3 574.4L431.3 572.9L440.0 572.9L440.0 571.4L442.6 571.4L442.6 570.0L450.5 570.0L450.5 568.5L464.8 568.5L464.8 567.0L475.8 567.0L475.8 565.6L496.8 565.6L496.8 564.1L516.0 564.1" stroke="#5a5a5a"/>
<path d="M291.5 754.5L314.3 754.5L314.3 753.0L314.4 753.0L314.4 751.6L314.6 751.6L314.6 750.1L314.8 750.1L314.8 748.6L314.9 748.6L314.9 747.2L315.1 747.2L315.1 745.7L315.3 745.7L315.3 744.2L315.4 744.2L315.4 742.8L315.6 742.8L315.6 741.3L315.7 741.3L315.7 739.9L315.9 739.9L315.9 738.4L316.0 738.4L316.0 736.9L316.2 736.9L316.2 735.5L316.3 735.5L316.3 734.0L316.5 734.0L316.5 732.5L316.6 732.5L316.6 731.1L316.9 731.1L316.9 729.6L317.1 729.6L317.1 728.1L317.2 728.1L317.2 726.7L317.4 726.7L317.4 725.2L317.6 725.2L317.6 723.7L317.7 723.7L317.7 722.3L317.9 722.3L317.9 720.8L318.0 720.8L318.0 719.3L318.2 719.3L318.2 717.9L318.4 717.9L318.4 716.4L318.6 716.4L318.6 715.0L318.8 715.0L318.8 713.5L319.0 713.5L319.0 712.0L319.2 712.0L319.2 710.6L319.4 710.6L319.4 709.1L319.5 709.1L319.5 707.6L319.7 707.6L319.7 706.2L319.9 706.2L319.9 704.7L320.0 704.7L320.0 703.2L320.2 703.2L320.2 701.8L320.5 701.8L320.5 700.3L320.6 700.3L320.6 698.8L320.9 698.8L320.9 697.4L321.1 697.4L321.1 695.9L321.3 695.9L321.3 694.5L321.5 694.5L321.5 693.0L321.8 693.0L321.8 691.5L322.0 691.5L322.0 690.1L322.2 690.1L322.2 688.6L322.5 688.6L322.5 687.1L322.8 687.1L322.8 685.7L323.0 685.7L323.0 684.2L323.2 684.2L323.2 682.7L323.4 682.7L323.4 681.3L323.5 681.3L323.5 679.8L323.8 679.8L323.8 678.3L324.0 678.3L324.0 676.9L324.3 676.9L324.3 675.4L324.6 675.4L324.6 673.9L324.8 673.9L324.8 672.5L325.0 672.5L325.0 671.0L325.2 671.0L325.2 669.6L325.6 669.6L325.6 668.1L325.8 668.1L325.8 666.6L326.1 666.6L326.1 665.2L326.4 665.2L326.4 663.7L326.7 663.7L326.7 662.2L326.9 662.2L326.9 660.8L327.2 660.8L327.2 659.3L327.7 659.3L327.7 657.8L328.0 657.8L328.0 656.4L328.2 656.4L328.2 654.9L328.5 654.9L328.5 653.4L328.8 653.4L328.8 652.0L329.1 652.0L329.1 650.5L329.3 650.5L329.3 649.0L329.7 649.0L329.7 647.6L330.0 647.6L330.0 646.1L330.3 646.1L330.3 644.7L330.6 644.7L330.6 643.2L330.9 643.2L330.9 641.7L331.2 641.7L331.2 640.3L331.6 640.3L331.6 638.8L332.1 638.8L332.1 637.3L332.4 637.3L332.4 635.9L332.8 635.9L332.8 634.4L333.1 634.4L333.1 632.9L333.7 632.9L333.7 631.5L334.3 631.5L334.3 630.0L334.6 630.0L334.6 628.5L335.1 628.5L335.1 627.1L335.4 627.1L335.4 625.6L335.8 625.6L335.8 624.1L336.2 624.1L336.2 622.7L336.6 622.7L336.6 621.2L337.0 621.2L337.0 619.8L337.9 619.8L337.9 618.3L338.5 618.3L338.5 616.8L339.4 616.8L339.4 615.4L340.5 615.4L340.5 613.9L341.2 613.9L341.2 612.4L341.9 612.4L341.9 611.0L342.5 611.0L342.5 609.5L343.6 609.5L343.6 608.0L344.3 608.0L344.3 606.6L345.6 606.6L345.6 605.1L346.5 605.1L346.5 603.6L347.3 603.6L347.3 602.2L348.1 602.2L348.1 600.7L348.7 600.7L348.7 599.3L349.6 599.3L349.6 597.8L350.7 597.8L350.7 596.3L351.5 596.3L351.5 594.9L352.2 594.9L352.2 593.4L353.1 593.4L353.1 591.9L354.2 591.9L354.2 590.5L355.2 590.5L355.2 589.0L356.3 589.0L356.3 587.5L357.6 587.5L357.6 586.1L358.6 586.1L358.6 584.6L360.0 584.6L360.0 583.1L362.2 583.1L362.2 581.7L364.0 581.7L364.0 580.2L366.3 580.2L366.3 578.7L369.0 578.7L369.0 577.3L371.2 577.3L371.2 575.8L373.7 575.8L373.7 574.4L376.7 574.4L376.7 572.9L381.7 572.9L381.7 571.4L390.0 571.4L390.0 570.0L396.9 570.0L396.9 568.5L414.5 568.5L414.5 567.0L425.5 567.0L425.5 565.6L450.0 565.6L450.0 564.1L516.0 564.1" stroke="#4b97e6"/>
<path d="M291.5 754.5L314.2 754.5L314.2 753.0L314.3 753.0L314.3 751.6L314.5 751.6L314.5 750.1L314.6 750.1L314.6 748.6L314.7 748.6L314.7 747.2L314.9 747.2L314.9 745.7L315.0 745.7L315.0 744.2L315.2 744.2L315.2 742.8L315.3 742.8L315.3 741.3L315.4 741.3L315.4 739.9L315.6 739.9L315.6 738.4L315.8 738.4L315.8 736.9L316.0 736.9L316.0 735.5L316.1 735.5L316.1 734.0L316.3 734.0L316.3 732.5L316.4 732.5L316.4 731.1L316.5 731.1L316.5 729.6L316.7 729.6L316.7 728.1L316.8 728.1L316.8 726.7L316.9 726.7L316.9 725.2L317.1 725.2L317.1 723.7L317.2 723.7L317.2 722.3L317.4 722.3L317.4 720.8L317.5 720.8L317.5 719.3L317.6 719.3L317.6 717.9L317.9 717.9L317.9 716.4L318.1 716.4L318.1 715.0L318.2 715.0L318.2 713.5L318.4 713.5L318.4 712.0L318.6 712.0L318.6 710.6L318.7 710.6L318.7 709.1L318.9 709.1L318.9 707.6L319.0 707.6L319.0 706.2L319.2 706.2L319.2 704.7L319.3 704.7L319.3 703.2L319.5 703.2L319.5 701.8L319.8 701.8L319.8 700.3L320.0 700.3L320.0 698.8L320.2 698.8L320.2 697.4L320.3 697.4L320.3 695.9L320.5 695.9L320.5 694.5L320.7 694.5L320.7 693.0L321.0 693.0L321.0 691.5L321.3 691.5L321.3 690.1L321.5 690.1L321.5 688.6L321.7 688.6L321.7 687.1L322.0 687.1L322.0 685.7L322.2 685.7L322.2 684.2L322.4 684.2L322.4 682.7L322.6 682.7L322.6 681.3L322.9 681.3L322.9 679.8L323.2 679.8L323.2 678.3L323.5 678.3L323.5 676.9L323.8 676.9L323.8 675.4L324.0 675.4L324.0 673.9L324.3 673.9L324.3 672.5L324.6 672.5L324.6 671.0L324.8 671.0L324.8 669.6L325.0 669.6L325.0 668.1L325.2 668.1L325.2 666.6L325.5 666.6L325.5 665.2L325.9 665.2L325.9 663.7L326.2 663.7L326.2 662.2L326.4 662.2L326.4 660.8L326.7 660.8L326.7 659.3L327.1 659.3L327.1 657.8L327.3 657.8L327.3 656.4L327.5 656.4L327.5 654.9L327.9 654.9L327.9 653.4L328.1 653.4L328.1 652.0L328.4 652.0L328.4 650.5L328.7 650.5L328.7 649.0L329.1 649.0L329.1 647.6L329.4 647.6L329.4 646.1L329.7 646.1L329.7 644.7L330.0 644.7L330.0 643.2L330.3 643.2L330.3 641.7L330.6 641.7L330.6 640.3L331.0 640.3L331.0 638.8L331.4 638.8L331.4 637.3L331.8 637.3L331.8 635.9L332.2 635.9L332.2 634.4L332.6 634.4L332.6 632.9L333.0 632.9L333.0 631.5L333.7 631.5L333.7 630.0L334.0 630.0L334.0 628.5L334.5 628.5L334.5 627.1L334.8 627.1L334.8 625.6L335.2 625.6L335.2 624.1L335.6 624.1L335.6 622.7L336.1 622.7L336.1 621.2L336.5 621.2L336.5 619.8L337.6 619.8L337.6 618.3L338.2 618.3L338.2 616.8L338.8 616.8L338.8 615.4L339.4 615.4L339.4 613.9L340.7 613.9L340.7 612.4L341.4 612.4L341.4 611.0L342.1 611.0L342.1 609.5L343.2 609.5L343.2 608.0L343.8 608.0L343.8 606.6L344.5 606.6L344.5 605.1L345.5 605.1L345.5 603.6L346.3 603.6L346.3 602.2L347.1 602.2L347.1 600.7L348.4 600.7L348.4 599.3L349.1 599.3L349.1 597.8L349.9 597.8L349.9 596.3L350.8 596.3L350.8 594.9L351.4 594.9L351.4 593.4L352.2 593.4L352.2 591.9L353.4 591.9L353.4 590.5L354.5 590.5L354.5 589.0L355.8 589.0L355.8 587.5L357.2 587.5L357.2 586.1L358.5 586.1L358.5 584.6L360.0 584.6L360.0 583.1L361.7 583.1L361.7 581.7L363.5 581.7L363.5 580.2L365.4 580.2L365.4 578.7L367.8 578.7L367.8 577.3L370.0 577.3L370.0 575.8L373.3 575.8L373.3 574.4L376.6 574.4L376.6 572.9L382.3 572.9L382.3 571.4L388.6 571.4L388.6 570.0L396.0 570.0L396.0 568.5L403.9 568.5L403.9 567.0L412.4 567.0L412.4 565.6L431.5 565.6L431.5 564.1L516.0 564.1" stroke="#3f973f"/>
<path d="M291.5 754.5L314.2 754.5L314.2 753.0L314.3 753.0L314.3 751.6L314.5 751.6L314.5 750.1L314.6 750.1L314.6 748.6L314.7 748.6L314.7 747.2L314.9 747.2L314.9 745.7L315.0 745.7L315.0 744.2L315.1 744.2L315.1 742.8L315.2 742.8L315.2 741.3L315.3 741.3L315.3 739.9L315.4 739.9L315.4 738.4L315.5 738.4L315.5 736.9L315.7 736.9L315.7 735.5L315.8 735.5L315.8 734.0L316.0 734.0L316.0 732.5L316.2 732.5L316.2 731.1L316.4 731.1L316.4 729.6L316.5 729.6L316.5 728.1L316.6 728.1L316.6 726.7L316.7 726.7L316.7 725.2L316.9 725.2L316.9 723.7L317.0 723.7L317.0 722.3L317.2 722.3L317.2 720.8L317.4 720.8L317.4 719.3L317.5 719.3L317.5 717.9L317.7 717.9L317.7 716.4L317.8 716.4L317.8 715.0L318.0 715.0L318.0 713.5L318.2 713.5L318.2 712.0L318.4 712.0L318.4 710.6L318.6 710.6L318.6 709.1L318.8 709.1L318.8 707.6L318.9 707.6L318.9 706.2L319.1 706.2L319.1 704.7L319.2 704.7L319.2 703.2L319.4 703.2L319.4 701.8L319.7 701.8L319.7 700.3L319.9 700.3L319.9 698.8L320.1 698.8L320.1 697.4L320.2 697.4L320.2 695.9L320.5 695.9L320.5 694.5L320.6 694.5L320.6 693.0L321.0 693.0L321.0 691.5L321.2 691.5L321.2 690.1L321.4 690.1L321.4 688.6L321.7 688.6L321.7 687.1L322.0 687.1L322.0 685.7L322.1 685.7L322.1 684.2L322.4 684.2L322.4 682.7L322.6 682.7L322.6 681.3L322.8 681.3L322.8 679.8L323.1 679.8L323.1 678.3L323.3 678.3L323.3 676.9L323.6 676.9L323.6 675.4L323.9 675.4L323.9 673.9L324.1 673.9L324.1 672.5L324.3 672.5L324.3 671.0L324.5 671.0L324.5 669.6L324.9 669.6L324.9 668.1L325.1 668.1L325.1 666.6L325.3 666.6L325.3 665.2L325.6 665.2L325.6 663.7L325.9 663.7L325.9 662.2L326.2 662.2L326.2 660.8L326.5 660.8L326.5 659.3L326.9 659.3L326.9 657.8L327.2 657.8L327.2 656.4L327.4 656.4L327.4 654.9L327.8 654.9L327.8 653.4L328.2 653.4L328.2 652.0L328.5 652.0L328.5 650.5L328.7 650.5L328.7 649.0L329.2 649.0L329.2 647.6L329.6 647.6L329.6 646.1L330.0 646.1L330.0 644.7L330.2 644.7L330.2 643.2L330.7 643.2L330.7 641.7L331.1 641.7L331.1 640.3L331.6 640.3L331.6 638.8L331.9 638.8L331.9 637.3L332.2 637.3L332.2 635.9L332.6 635.9L332.6 634.4L332.9 634.4L332.9 632.9L333.4 632.9L333.4 631.5L333.9 631.5L333.9 630.0L334.3 630.0L334.3 628.5L334.9 628.5L334.9 627.1L335.4 627.1L335.4 625.6L335.7 625.6L335.7 624.1L336.1 624.1L336.1 622.7L336.8 622.7L336.8 621.2L337.5 621.2L337.5 619.8L338.3 619.8L338.3 618.3L338.9 618.3L338.9 616.8L339.6 616.8L339.6 615.4L340.3 615.4L340.3 613.9L341.2 613.9L341.2 612.4L341.9 612.4L341.9 611.0L342.6 611.0L342.6 609.5L343.7 609.5L343.7 608.0L344.4 608.0L344.4 606.6L345.1 606.6L345.1 605.1L345.9 605.1L345.9 603.6L346.8 603.6L346.8 602.2L347.7 602.2L347.7 600.7L348.4 600.7L348.4 599.3L349.5 599.3L349.5 597.8L350.6 597.8L350.6 596.3L351.4 596.3L351.4 594.9L352.5 594.9L352.5 593.4L353.3 593.4L353.3 591.9L354.3 591.9L354.3 590.5L355.4 590.5L355.4 589.0L356.5 589.0L356.5 587.5L357.9 587.5L357.9 586.1L359.4 586.1L359.4 584.6L361.2 584.6L361.2 583.1L363.3 583.1L363.3 581.7L365.2 581.7L365.2 580.2L367.7 580.2L367.7 578.7L370.1 578.7L370.1 577.3L372.2 577.3L372.2 575.8L375.6 575.8L375.6 574.4L382.4 574.4L382.4 572.9L389.0 572.9L389.0 571.4L395.0 571.4L395.0 570.0L402.0 570.0L402.0 568.5L414.5 568.5L414.5 567.0L426.3 567.0L426.3 565.6L451.3 565.6L451.3 564.1L516.0 564.1" stroke="#d6761a" stroke-opacity=".85"/>
<path d="M291.5 754.5H313.9" stroke="#5c5c4c"/>
</g>
<rect x="401.0" y="716.2" width="115.0" height="45.6" class="lg"/>
<text class="l" transform="translate(417.8 731.0) scale(.971 1)">WRF-USGS: 0.73</text>
<text class="l" transform="translate(417.8 742.2) scale(.971 1)">WRF-NLCD: 0.71</text>
<text class="l" transform="translate(417.8 753.6) scale(.971 1)">WRF-NLCDDEF: 0.72</text>
<rect x="291.5" y="556.5" width="224.5" height="205.3" class="f"/>
<text class="a" transform="translate(284.2 754.5) rotate(-90) scale(.93 1)">0.0</text>
<text class="a" transform="translate(284.2 716.4) rotate(-90) scale(.93 1)">0.2</text>
<text class="a" transform="translate(284.2 678.3) rotate(-90) scale(.93 1)">0.4</text>
<text class="a" transform="translate(284.2 640.3) rotate(-90) scale(.93 1)">0.6</text>
<text class="a" transform="translate(284.2 602.2) rotate(-90) scale(.93 1)">0.8</text>
<text class="a" transform="translate(284.2 564.1) rotate(-90) scale(.93 1)">1.0</text>
<text class="a" transform="translate(313.9 773.2) scale(.93 1)">0</text>
<text class="a" transform="translate(344.3 773.2) scale(.93 1)">2</text>
<text class="a" transform="translate(374.7 773.2) scale(.93 1)">4</text>
<text class="a" transform="translate(405.1 773.2) scale(.93 1)">6</text>
<text class="a" transform="translate(435.5 773.2) scale(.93 1)">8</text>
<text class="a" transform="translate(465.9 773.2) scale(.93 1)">10</text>
<text class="a" transform="translate(496.3 773.2) scale(.93 1)">12</text>
<path d="M291.5 754.5h-3.5M291.5 716.4h-3.5M291.5 678.3h-3.5M291.5 640.3h-3.5M291.5 602.2h-3.5M291.5 564.1h-3.5M313.9 761.9v3.5M344.3 761.9v3.5M374.7 761.9v3.5M405.1 761.9v3.5M435.5 761.9v3.5M465.9 761.9v3.5M496.3 761.9v3.5" class="k"/>
</g>
<g>
<clipPath id="c6"><rect x="554.9" y="556.5" width="224.5" height="205.3"/></clipPath>
<text class="t" transform="translate(666.9 546.9) scale(1.07 1)">Southeast</text>
<path d="M554.9 564.1H779.4M554.9 754.5H779.4" class="h"/>
<g clip-path="url(#c6)" class="cv">
<path d="M554.9 754.5L576.6 754.5L576.6 753.0L577.4 753.0L577.4 751.6L578.3 751.6L578.3 750.1L579.2 750.1L579.2 748.6L580.1 748.6L580.1 747.2L580.9 747.2L580.9 745.7L581.6 745.7L581.6 744.2L582.8 744.2L582.8 742.8L583.6 742.8L583.6 741.3L584.2 741.3L584.2 739.9L584.6 739.9L584.6 738.4L584.9 738.4L584.9 736.9L585.2 736.9L585.2 735.5L585.8 735.5L585.8 734.0L586.1 734.0L586.1 732.5L586.5 732.5L586.5 731.1L586.9 731.1L586.9 729.6L587.5 729.6L587.5 728.1L588.0 728.1L588.0 726.7L588.2 726.7L588.2 725.2L588.5 725.2L588.5 723.7L588.9 723.7L588.9 722.3L589.3 722.3L589.3 720.8L589.7 720.8L589.7 719.3L590.0 719.3L590.0 717.9L590.5 717.9L590.5 716.4L590.9 716.4L590.9 715.0L591.4 715.0L591.4 713.5L591.9 713.5L591.9 712.0L592.2 712.0L592.2 710.6L592.8 710.6L592.8 709.1L593.1 709.1L593.1 707.6L593.3 707.6L593.3 706.2L593.6 706.2L593.6 704.7L594.0 704.7L594.0 703.2L594.3 703.2L594.3 701.8L594.6 701.8L594.6 700.3L594.9 700.3L594.9 698.8L595.3 698.8L595.3 697.4L595.6 697.4L595.6 695.9L596.0 695.9L596.0 694.5L596.3 694.5L596.3 693.0L596.7 693.0L596.7 691.5L596.9 691.5L596.9 690.1L597.6 690.1L597.6 688.6L597.8 688.6L597.8 687.1L598.3 687.1L598.3 685.7L598.6 685.7L598.6 684.2L599.0 684.2L599.0 682.7L599.3 682.7L599.3 681.3L600.1 681.3L600.1 679.8L600.7 679.8L600.7 678.3L601.2 678.3L601.2 676.9L601.6 676.9L601.6 675.4L602.0 675.4L602.0 673.9L602.4 673.9L602.4 672.5L602.9 672.5L602.9 671.0L603.3 671.0L603.3 669.6L603.7 669.6L603.7 668.1L604.1 668.1L604.1 666.6L604.7 666.6L604.7 665.2L605.1 665.2L605.1 663.7L605.8 663.7L605.8 662.2L606.4 662.2L606.4 660.8L606.9 660.8L606.9 659.3L607.3 659.3L607.3 657.8L607.7 657.8L607.7 656.4L608.4 656.4L608.4 654.9L609.0 654.9L609.0 653.4L609.7 653.4L609.7 652.0L610.5 652.0L610.5 650.5L610.9 650.5L610.9 649.0L611.3 649.0L611.3 647.6L612.1 647.6L612.1 646.1L612.7 646.1L612.7 644.7L613.9 644.7L613.9 643.2L614.4 643.2L614.4 641.7L615.0 641.7L615.0 640.3L615.9 640.3L615.9 638.8L616.5 638.8L616.5 637.3L616.8 637.3L616.8 635.9L617.1 635.9L617.1 634.4L617.6 634.4L617.6 632.9L618.0 632.9L618.0 631.5L618.3 631.5L618.3 630.0L618.8 630.0L618.8 628.5L619.2 628.5L619.2 627.1L619.7 627.1L619.7 625.6L620.2 625.6L620.2 624.1L620.8 624.1L620.8 622.7L621.1 622.7L621.1 621.2L621.7 621.2L621.7 619.8L622.2 619.8L622.2 618.3L622.6 618.3L622.6 616.8L623.0 616.8L623.0 615.4L623.7 615.4L623.7 613.9L624.3 613.9L624.3 612.4L624.7 612.4L624.7 611.0L625.0 611.0L625.0 609.5L625.9 609.5L625.9 608.0L626.9 608.0L626.9 606.6L628.1 606.6L628.1 605.1L629.1 605.1L629.1 603.6L629.9 603.6L629.9 602.2L631.0 602.2L631.0 600.7L632.1 600.7L632.1 599.3L633.2 599.3L633.2 597.8L634.1 597.8L634.1 596.3L635.0 596.3L635.0 594.9L636.3 594.9L636.3 593.4L637.7 593.4L637.7 591.9L639.3 591.9L639.3 590.5L640.5 590.5L640.5 589.0L641.4 589.0L641.4 587.5L642.5 587.5L642.5 586.1L643.5 586.1L643.5 584.6L645.1 584.6L645.1 583.1L648.5 583.1L648.5 581.7L651.4 581.7L651.4 580.2L653.5 580.2L653.5 578.7L655.6 578.7L655.6 577.3L660.1 577.3L660.1 575.8L673.0 575.8L673.0 574.4L678.7 574.4L678.7 572.9L681.0 572.9L681.0 571.4L682.9 571.4L682.9 570.0L684.1 570.0L684.1 568.5L692.2 568.5L692.2 567.0L700.3 567.0L700.3 565.6L713.5 565.6L713.5 564.1L779.4 564.1" stroke="#5a5a5a"/>
<path d="M554.9 754.5L576.9 754.5L576.9 753.0L578.2 753.0L578.2 751.6L579.2 751.6L579.2 750.1L580.8 750.1L580.8 748.6L582.1 748.6L582.1 747.2L583.8 747.2L583.8 745.7L585.2 745.7L585.2 744.2L585.7 744.2L585.7 742.8L586.1 742.8L586.1 741.3L586.5 741.3L586.5 739.9L587.0 739.9L587.0 738.4L587.5 738.4L587.5 736.9L587.9 736.9L587.9 735.5L588.3 735.5L588.3 734.0L588.7 734.0L588.7 732.5L589.2 732.5L589.2 731.1L589.5 731.1L589.5 729.6L589.9 729.6L589.9 728.1L590.4 728.1L590.4 726.7L590.9 726.7L590.9 725.2L591.2 725.2L591.2 723.7L591.6 723.7L591.6 722.3L592.0 722.3L592.0 720.8L592.3 720.8L592.3 719.3L592.6 719.3L592.6 717.9L592.9 717.9L592.9 716.4L593.3 716.4L593.3 715.0L593.7 715.0L593.7 713.5L594.2 713.5L594.2 712.0L594.6 712.0L594.6 710.6L595.0 710.6L595.0 709.1L595.4 709.1L595.4 707.6L596.0 707.6L596.0 706.2L596.5 706.2L596.5 704.7L596.8 704.7L596.8 703.2L597.2 703.2L597.2 701.8L597.6 701.8L597.6 700.3L598.1 700.3L598.1 698.8L598.8 698.8L598.8 697.4L599.5 697.4L599.5 695.9L600.0 695.9L600.0 694.5L600.6 694.5L600.6 693.0L601.2 693.0L601.2 691.5L601.8 691.5L601.8 690.1L602.5 690.1L602.5 688.6L603.1 688.6L603.1 687.1L603.8 687.1L603.8 685.7L604.5 685.7L604.5 684.2L604.9 684.2L604.9 682.7L605.4 682.7L605.4 681.3L605.8 681.3L605.8 679.8L606.2 679.8L606.2 678.3L606.9 678.3L606.9 676.9L607.4 676.9L607.4 675.4L607.9 675.4L607.9 673.9L608.5 673.9L608.5 672.5L609.0 672.5L609.0 671.0L609.7 671.0L609.7 669.6L610.1 669.6L610.1 668.1L610.5 668.1L610.5 666.6L611.1 666.6L611.1 665.2L611.5 665.2L611.5 663.7L612.2 663.7L612.2 662.2L612.7 662.2L612.7 660.8L613.4 660.8L613.4 659.3L613.8 659.3L613.8 657.8L614.4 657.8L614.4 656.4L614.9 656.4L614.9 654.9L615.5 654.9L615.5 653.4L616.1 653.4L616.1 652.0L616.6 652.0L616.6 650.5L617.5 650.5L617.5 649.0L618.0 649.0L618.0 647.6L618.6 647.6L618.6 646.1L619.3 646.1L619.3 644.7L619.9 644.7L619.9 643.2L620.6 643.2L620.6 641.7L621.3 641.7L621.3 640.3L621.8 640.3L621.8 638.8L622.4 638.8L622.4 637.3L622.8 637.3L622.8 635.9L623.4 635.9L623.4 634.4L623.9 634.4L623.9 632.9L624.6 632.9L624.6 631.5L625.1 631.5L625.1 630.0L625.8 630.0L625.8 628.5L626.5 628.5L626.5 627.1L627.1 627.1L627.1 625.6L627.8 625.6L627.8 624.1L628.4 624.1L628.4 622.7L629.0 622.7L629.0 621.2L629.7 621.2L629.7 619.8L630.2 619.8L630.2 618.3L631.0 618.3L631.0 616.8L631.7 616.8L631.7 615.4L632.3 615.4L632.3 613.9L632.9 613.9L632.9 612.4L633.4 612.4L633.4 611.0L634.0 611.0L634.0 609.5L634.5 609.5L634.5 608.0L635.1 608.0L635.1 606.6L635.6 606.6L635.6 605.1L636.6 605.1L636.6 603.6L637.1 603.6L637.1 602.2L637.9 602.2L637.9 600.7L638.8 600.7L638.8 599.3L639.9 599.3L639.9 597.8L641.3 597.8L641.3 596.3L642.2 596.3L642.2 594.9L643.2 594.9L643.2 593.4L644.5 593.4L644.5 591.9L646.0 591.9L646.0 590.5L647.3 590.5L647.3 589.0L648.7 589.0L648.7 587.5L649.8 587.5L649.8 586.1L651.8 586.1L651.8 584.6L652.7 584.6L652.7 583.1L653.7 583.1L653.7 581.7L655.1 581.7L655.1 580.2L656.0 580.2L656.0 578.7L657.3 578.7L657.3 577.3L659.7 577.3L659.7 575.8L661.7 575.8L661.7 574.4L663.4 574.4L663.4 572.9L666.9 572.9L666.9 571.4L672.1 571.4L672.1 570.0L676.7 570.0L676.7 568.5L685.9 568.5L685.9 567.0L707.0 567.0L707.0 565.6L743.9 565.6L743.9 564.1L779.4 564.1" stroke="#4b97e6"/>
<path d="M554.9 754.5L577.0 754.5L577.0 753.0L578.5 753.0L578.5 751.6L579.8 751.6L579.8 750.1L581.7 750.1L581.7 748.6L582.6 748.6L582.6 747.2L583.6 747.2L583.6 745.7L584.9 745.7L584.9 744.2L585.4 744.2L585.4 742.8L585.9 742.8L585.9 741.3L586.2 741.3L586.2 739.9L586.5 739.9L586.5 738.4L587.1 738.4L587.1 736.9L587.5 736.9L587.5 735.5L588.0 735.5L588.0 734.0L588.5 734.0L588.5 732.5L589.2 732.5L589.2 731.1L589.6 731.1L589.6 729.6L590.0 729.6L590.0 728.1L590.5 728.1L590.5 726.7L590.9 726.7L590.9 725.2L591.2 725.2L591.2 723.7L591.6 723.7L591.6 722.3L592.0 722.3L592.0 720.8L592.3 720.8L592.3 719.3L592.6 719.3L592.6 717.9L593.0 717.9L593.0 716.4L593.3 716.4L593.3 715.0L593.8 715.0L593.8 713.5L594.1 713.5L594.1 712.0L594.5 712.0L594.5 710.6L594.9 710.6L594.9 709.1L595.4 709.1L595.4 707.6L595.7 707.6L595.7 706.2L596.2 706.2L596.2 704.7L596.5 704.7L596.5 703.2L597.0 703.2L597.0 701.8L597.3 701.8L597.3 700.3L597.8 700.3L597.8 698.8L598.2 698.8L598.2 697.4L598.7 697.4L598.7 695.9L599.4 695.9L599.4 694.5L599.8 694.5L599.8 693.0L600.2 693.0L600.2 691.5L600.6 691.5L600.6 690.1L601.1 690.1L601.1 688.6L601.5 688.6L601.5 687.1L601.9 687.1L601.9 685.7L602.3 685.7L602.3 684.2L602.7 684.2L602.7 682.7L603.3 682.7L603.3 681.3L603.6 681.3L603.6 679.8L603.9 679.8L603.9 678.3L604.5 678.3L604.5 676.9L605.0 676.9L605.0 675.4L605.4 675.4L605.4 673.9L605.8 673.9L605.8 672.5L606.2 672.5L606.2 671.0L606.8 671.0L606.8 669.6L607.2 669.6L607.2 668.1L607.5 668.1L607.5 666.6L608.0 666.6L608.0 665.2L608.4 665.2L608.4 663.7L608.9 663.7L608.9 662.2L609.6 662.2L609.6 660.8L610.0 660.8L610.0 659.3L610.5 659.3L610.5 657.8L610.9 657.8L610.9 656.4L611.3 656.4L611.3 654.9L611.7 654.9L611.7 653.4L612.1 653.4L612.1 652.0L612.5 652.0L612.5 650.5L613.1 650.5L613.1 649.0L613.6 649.0L613.6 647.6L613.9 647.6L613.9 646.1L614.3 646.1L614.3 644.7L614.7 644.7L614.7 643.2L615.3 643.2L615.3 641.7L615.7 641.7L615.7 640.3L616.2 640.3L616.2 638.8L616.7 638.8L616.7 637.3L617.1 637.3L617.1 635.9L617.6 635.9L617.6 634.4L618.0 634.4L618.0 632.9L618.7 632.9L618.7 631.5L619.2 631.5L619.2 630.0L619.8 630.0L619.8 628.5L620.1 628.5L620.1 627.1L620.6 627.1L620.6 625.6L621.2 625.6L621.2 624.1L621.7 624.1L621.7 622.7L622.0 622.7L622.0 621.2L622.6 621.2L622.6 619.8L623.3 619.8L623.3 618.3L624.2 618.3L624.2 616.8L625.2 616.8L625.2 615.4L625.8 615.4L625.8 613.9L627.0 613.9L627.0 612.4L627.6 612.4L627.6 611.0L628.2 611.0L628.2 609.5L629.1 609.5L629.1 608.0L629.7 608.0L629.7 606.6L630.3 606.6L630.3 605.1L631.3 605.1L631.3 603.6L631.9 603.6L631.9 602.2L632.8 602.2L632.8 600.7L633.9 600.7L633.9 599.3L634.8 599.3L634.8 597.8L635.9 597.8L635.9 596.3L636.9 596.3L636.9 594.9L637.6 594.9L637.6 593.4L638.5 593.4L638.5 591.9L640.3 591.9L640.3 590.5L641.4 590.5L641.4 589.0L643.0 589.0L643.0 587.5L644.4 587.5L644.4 586.1L645.9 586.1L645.9 584.6L647.0 584.6L647.0 583.1L648.8 583.1L648.8 581.7L650.3 581.7L650.3 580.2L652.5 580.2L652.5 578.7L654.8 578.7L654.8 577.3L657.4 577.3L657.4 575.8L659.3 575.8L659.3 574.4L660.8 574.4L660.8 572.9L663.3 572.9L663.3 571.4L669.2 571.4L669.2 570.0L676.9 570.0L676.9 568.5L686.5 568.5L686.5 567.0L708.0 567.0L708.0 565.6L738.6 565.6L738.6 564.1L779.4 564.1" stroke="#3f973f"/>
<path d="M554.9 754.5L576.9 754.5L576.9 753.0L578.0 753.0L578.0 751.6L579.1 751.6L579.1 750.1L580.6 750.1L580.6 748.6L581.7 748.6L581.7 747.2L582.8 747.2L582.8 745.7L583.9 745.7L583.9 744.2L585.1 744.2L585.1 742.8L585.6 742.8L585.6 741.3L586.0 741.3L586.0 739.9L586.3 739.9L586.3 738.4L586.9 738.4L586.9 736.9L587.3 736.9L587.3 735.5L587.7 735.5L587.7 734.0L588.2 734.0L588.2 732.5L588.7 732.5L588.7 731.1L589.0 731.1L589.0 729.6L589.4 729.6L589.4 728.1L589.7 728.1L589.7 726.7L590.1 726.7L590.1 725.2L590.8 725.2L590.8 723.7L591.2 723.7L591.2 722.3L591.6 722.3L591.6 720.8L592.0 720.8L592.0 719.3L592.4 719.3L592.4 717.9L592.7 717.9L592.7 716.4L593.0 716.4L593.0 715.0L593.4 715.0L593.4 713.5L593.7 713.5L593.7 712.0L594.1 712.0L594.1 710.6L594.5 710.6L594.5 709.1L594.9 709.1L594.9 707.6L595.3 707.6L595.3 706.2L595.9 706.2L595.9 704.7L596.2 704.7L596.2 703.2L596.5 703.2L596.5 701.8L596.8 701.8L596.8 700.3L597.4 700.3L597.4 698.8L598.1 698.8L598.1 697.4L598.6 697.4L598.6 695.9L599.3 695.9L599.3 694.5L599.8 694.5L599.8 693.0L600.3 693.0L600.3 691.5L601.0 691.5L601.0 690.1L601.6 690.1L601.6 688.6L602.2 688.6L602.2 687.1L602.7 687.1L602.7 685.7L603.4 685.7L603.4 684.2L603.9 684.2L603.9 682.7L604.7 682.7L604.7 681.3L605.2 681.3L605.2 679.8L605.6 679.8L605.6 678.3L606.2 678.3L606.2 676.9L606.9 676.9L606.9 675.4L607.5 675.4L607.5 673.9L608.0 673.9L608.0 672.5L608.6 672.5L608.6 671.0L609.2 671.0L609.2 669.6L609.6 669.6L609.6 668.1L610.1 668.1L610.1 666.6L610.7 666.6L610.7 665.2L611.1 665.2L611.1 663.7L611.9 663.7L611.9 662.2L612.4 662.2L612.4 660.8L613.1 660.8L613.1 659.3L613.5 659.3L613.5 657.8L614.1 657.8L614.1 656.4L614.6 656.4L614.6 654.9L615.2 654.9L615.2 653.4L615.8 653.4L615.8 652.0L616.5 652.0L616.5 650.5L617.2 650.5L617.2 649.0L617.8 649.0L617.8 647.6L618.2 647.6L618.2 646.1L618.8 646.1L618.8 644.7L619.8 644.7L619.8 643.2L620.3 643.2L620.3 641.7L620.7 641.7L620.7 640.3L621.2 640.3L621.2 638.8L621.7 638.8L621.7 637.3L622.2 637.3L622.2 635.9L622.8 635.9L622.8 634.4L623.2 634.4L623.2 632.9L623.7 632.9L623.7 631.5L624.2 631.5L624.2 630.0L624.9 630.0L624.9 628.5L625.4 628.5L625.4 627.1L626.0 627.1L626.0 625.6L626.5 625.6L626.5 624.1L627.2 624.1L627.2 622.7L627.7 622.7L627.7 621.2L628.4 621.2L628.4 619.8L629.0 619.8L629.0 618.3L629.7 618.3L629.7 616.8L630.6 616.8L630.6 615.4L631.0 615.4L631.0 613.9L631.7 613.9L631.7 612.4L632.1 612.4L632.1 611.0L632.6 611.0L632.6 609.5L633.2 609.5L633.2 608.0L633.6 608.0L633.6 606.6L634.1 606.6L634.1 605.1L635.0 605.1L635.0 603.6L635.7 603.6L635.7 602.2L636.7 602.2L636.7 600.7L637.9 600.7L637.9 599.3L638.9 599.3L638.9 597.8L640.0 597.8L640.0 596.3L640.9 596.3L640.9 594.9L641.9 594.9L641.9 593.4L643.1 593.4L643.1 591.9L644.7 591.9L644.7 590.5L645.6 590.5L645.6 589.0L647.7 589.0L647.7 587.5L648.6 587.5L648.6 586.1L650.0 586.1L650.0 584.6L650.9 584.6L650.9 583.1L652.5 583.1L652.5 581.7L653.8 581.7L653.8 580.2L655.0 580.2L655.0 578.7L656.3 578.7L656.3 577.3L659.0 577.3L659.0 575.8L661.9 575.8L661.9 574.4L664.1 574.4L664.1 572.9L667.2 572.9L667.2 571.4L673.3 571.4L673.3 570.0L678.9 570.0L678.9 568.5L688.8 568.5L688.8 567.0L707.5 567.0L707.5 565.6L737.4 565.6L737.4 564.1L779.4 564.1" stroke="#d6761a" stroke-opacity=".85"/>
<path d="M554.9 754.5H577.3" stroke="#5c5c4c"/>
</g>
<rect x="664.4" y="716.2" width="115.0" height="45.6" class="lg"/>
<text class="l" transform="translate(681.2 731.0) scale(.971 1)">WRF-USGS: 0.83</text>
<text class="l" transform="translate(681.2 742.2) scale(.971 1)">WRF-NLCD: 0.86</text>
<text class="l" transform="translate(681.2 753.6) scale(.971 1)">WRF-NLCDDEF: 0.85</text>
<rect x="554.9" y="556.5" width="224.5" height="205.3" class="f"/>
<text class="a" transform="translate(547.6 754.5) rotate(-90) scale(.93 1)">0.0</text>
<text class="a" transform="translate(547.6 716.4) rotate(-90) scale(.93 1)">0.2</text>
<text class="a" transform="translate(547.6 678.3) rotate(-90) scale(.93 1)">0.4</text>
<text class="a" transform="translate(547.6 640.3) rotate(-90) scale(.93 1)">0.6</text>
<text class="a" transform="translate(547.6 602.2) rotate(-90) scale(.93 1)">0.8</text>
<text class="a" transform="translate(547.6 564.1) rotate(-90) scale(.93 1)">1.0</text>
<text class="a" transform="translate(577.3 773.2) scale(.93 1)">0</text>
<text class="a" transform="translate(621.4 773.2) scale(.93 1)">5</text>
<text class="a" transform="translate(665.5 773.2) scale(.93 1)">10</text>
<text class="a" transform="translate(709.6 773.2) scale(.93 1)">15</text>
<text class="a" transform="translate(753.7 773.2) scale(.93 1)">20</text>
<path d="M554.9 754.5h-3.5M554.9 716.4h-3.5M554.9 678.3h-3.5M554.9 640.3h-3.5M554.9 602.2h-3.5M554.9 564.1h-3.5M577.3 761.9v3.5M621.4 761.9v3.5M665.5 761.9v3.5M709.6 761.9v3.5M753.7 761.9v3.5" class="k"/>
</g>
<g>
<clipPath id="c7"><rect x="28.2" y="820.5" width="224.5" height="205.3"/></clipPath>
<text class="t" transform="translate(140.2 810.9) scale(1.07 1)">Southwest</text>
<path d="M28.2 828.1H252.7M28.2 1018.5H252.7" class="h"/>
<g clip-path="url(#c7)" class="cv">
<path d="M28.2 1018.5L50.9 1018.5L50.9 1017.0L51.0 1017.0L51.0 1015.6L51.1 1015.6L51.1 1014.1L51.1 1014.1L51.1 1012.6L51.2 1012.6L51.2 1011.2L51.3 1011.2L51.3 1009.7L51.4 1009.7L51.4 1008.2L51.5 1008.2L51.5 1006.8L51.6 1006.8L51.6 1005.3L51.6 1005.3L51.6 1003.9L51.7 1003.9L51.7 1002.4L51.8 1002.4L51.8 1000.9L52.0 1000.9L52.0 999.5L52.4 999.5L52.4 998.0L52.9 998.0L52.9 996.5L53.3 996.5L53.3 995.1L53.8 995.1L53.8 993.6L54.1 993.6L54.1 992.1L54.5 992.1L54.5 990.7L55.1 990.7L55.1 989.2L55.4 989.2L55.4 987.7L55.7 987.7L55.7 986.3L56.1 986.3L56.1 984.8L56.4 984.8L56.4 983.3L56.7 983.3L56.7 981.9L57.2 981.9L57.2 980.4L58.0 980.4L58.0 979.0L58.6 979.0L58.6 977.5L59.4 977.5L59.4 976.0L59.9 976.0L59.9 974.6L60.5 974.6L60.5 973.1L61.2 973.1L61.2 971.6L61.8 971.6L61.8 970.2L62.6 970.2L62.6 968.7L63.1 968.7L63.1 967.2L63.5 967.2L63.5 965.8L64.0 965.8L64.0 964.3L64.7 964.3L64.7 962.8L65.0 962.8L65.0 961.4L65.9 961.4L65.9 959.9L66.3 959.9L66.3 958.5L66.8 958.5L66.8 957.0L67.4 957.0L67.4 955.5L67.9 955.5L67.9 954.1L68.7 954.1L68.7 952.6L69.1 952.6L69.1 951.1L69.6 951.1L69.6 949.7L70.2 949.7L70.2 948.2L70.6 948.2L70.6 946.7L71.1 946.7L71.1 945.3L71.6 945.3L71.6 943.8L72.5 943.8L72.5 942.3L73.0 942.3L73.0 940.9L73.5 940.9L73.5 939.4L74.2 939.4L74.2 937.9L74.7 937.9L74.7 936.5L75.4 936.5L75.4 935.0L76.2 935.0L76.2 933.6L77.2 933.6L77.2 932.1L78.1 932.1L78.1 930.6L79.0 930.6L79.0 929.2L80.2 929.2L80.2 927.7L81.2 927.7L81.2 926.2L81.7 926.2L81.7 924.8L82.2 924.8L82.2 923.3L82.7 923.3L82.7 921.8L83.5 921.8L83.5 920.4L83.9 920.4L83.9 918.9L85.0 918.9L85.0 917.4L85.5 917.4L85.5 916.0L85.9 916.0L85.9 914.5L86.6 914.5L86.6 913.0L87.3 913.0L87.3 911.6L88.3 911.6L88.3 910.1L88.9 910.1L88.9 908.7L89.7 908.7L89.7 907.2L90.3 907.2L90.3 905.7L91.1 905.7L91.1 904.3L91.7 904.3L91.7 902.8L92.6 902.8L92.6 901.3L93.2 901.3L93.2 899.9L93.9 899.9L93.9 898.4L94.4 898.4L94.4 896.9L96.0 896.9L96.0 895.5L96.7 895.5L96.7 894.0L98.1 894.0L98.1 892.5L100.3 892.5L100.3 891.1L101.8 891.1L101.8 889.6L102.6 889.6L102.6 888.1L103.8 888.1L103.8 886.7L104.7 886.7L104.7 885.2L105.8 885.2L105.8 883.8L107.3 883.8L107.3 882.3L108.2 882.3L108.2 880.8L109.0 880.8L109.0 879.4L110.0 879.4L110.0 877.9L110.8 877.9L110.8 876.4L111.6 876.4L111.6 875.0L112.3 875.0L112.3 873.5L113.2 873.5L113.2 872.0L114.0 872.0L114.0 870.6L114.8 870.6L114.8 869.1L116.5 869.1L116.5 867.6L117.4 867.6L117.4 866.2L118.6 866.2L118.6 864.7L121.2 864.7L121.2 863.3L122.3 863.3L122.3 861.8L123.6 861.8L123.6 860.3L124.5 860.3L124.5 858.9L125.6 858.9L125.6 857.4L126.7 857.4L126.7 855.9L127.8 855.9L127.8 854.5L128.7 854.5L128.7 853.0L129.5 853.0L129.5 851.5L130.8 851.5L130.8 850.1L131.6 850.1L131.6 848.6L132.7 848.6L132.7 847.1L133.5 847.1L133.5 845.7L135.3 845.7L135.3 844.2L136.8 844.2L136.8 842.7L139.4 842.7L139.4 841.3L142.2 841.3L142.2 839.8L144.4 839.8L144.4 838.4L149.6 838.4L149.6 836.9L157.8 836.9L157.8 835.4L167.7 835.4L167.7 834.0L177.7 834.0L177.7 832.5L195.5 832.5L195.5 831.0L205.1 831.0L205.1 829.6L214.4 829.6L214.4 828.1L252.7 828.1" stroke="#5a5a5a"/>
<path d="M28.2 1018.5L50.8 1018.5L50.8 1017.0L50.9 1017.0L50.9 1015.6L51.1 1015.6L51.1 1014.1L51.3 1014.1L51.3 1012.6L51.5 1012.6L51.5 1011.2L51.7 1011.2L51.7 1009.7L51.9 1009.7L51.9 1008.2L52.0 1008.2L52.0 1006.8L52.1 1006.8L52.1 1005.3L52.3 1005.3L52.3 1003.9L52.5 1003.9L52.5 1002.4L52.6 1002.4L52.6 1000.9L53.0 1000.9L53.0 999.5L53.2 999.5L53.2 998.0L53.6 998.0L53.6 996.5L54.1 996.5L54.1 995.1L54.4 995.1L54.4 993.6L54.7 993.6L54.7 992.1L55.0 992.1L55.0 990.7L55.3 990.7L55.3 989.2L55.6 989.2L55.6 987.7L56.1 987.7L56.1 986.3L56.4 986.3L56.4 984.8L56.7 984.8L56.7 983.3L57.1 983.3L57.1 981.9L57.4 981.9L57.4 980.4L57.8 980.4L57.8 979.0L58.1 979.0L58.1 977.5L58.4 977.5L58.4 976.0L58.8 976.0L58.8 974.6L59.1 974.6L59.1 973.1L59.6 973.1L59.6 971.6L59.8 971.6L59.8 970.2L60.3 970.2L60.3 968.7L60.8 968.7L60.8 967.2L61.2 967.2L61.2 965.8L61.6 965.8L61.6 964.3L61.9 964.3L61.9 962.8L62.3 962.8L62.3 961.4L62.7 961.4L62.7 959.9L63.2 959.9L63.2 958.5L63.6 958.5L63.6 957.0L64.2 957.0L64.2 955.5L64.6 955.5L64.6 954.1L65.1 954.1L65.1 952.6L65.5 952.6L65.5 951.1L66.0 951.1L66.0 949.7L66.4 949.7L66.4 948.2L67.0 948.2L67.0 946.7L67.4 946.7L67.4 945.3L67.9 945.3L67.9 943.8L68.3 943.8L68.3 942.3L68.7 942.3L68.7 940.9L69.1 940.9L69.1 939.4L69.6 939.4L69.6 937.9L70.1 937.9L70.1 936.5L70.5 936.5L70.5 935.0L70.8 935.0L70.8 933.6L71.2 933.6L71.2 932.1L71.9 932.1L71.9 930.6L72.1 930.6L72.1 929.2L72.5 929.2L72.5 927.7L72.9 927.7L72.9 926.2L73.4 926.2L73.4 924.8L73.9 924.8L73.9 923.3L74.3 923.3L74.3 921.8L75.0 921.8L75.0 920.4L75.4 920.4L75.4 918.9L75.9 918.9L75.9 917.4L76.6 917.4L76.6 916.0L77.0 916.0L77.0 914.5L77.5 914.5L77.5 913.0L77.9 913.0L77.9 911.6L78.4 911.6L78.4 910.1L79.1 910.1L79.1 908.7L79.8 908.7L79.8 907.2L80.4 907.2L80.4 905.7L81.1 905.7L81.1 904.3L81.8 904.3L81.8 902.8L82.5 902.8L82.5 901.3L83.1 901.3L83.1 899.9L83.8 899.9L83.8 898.4L84.6 898.4L84.6 896.9L85.7 896.9L85.7 895.5L86.8 895.5L86.8 894.0L87.7 894.0L87.7 892.5L88.7 892.5L88.7 891.1L89.7 891.1L89.7 889.6L90.4 889.6L90.4 888.1L91.3 888.1L91.3 886.7L92.4 886.7L92.4 885.2L93.4 885.2L93.4 883.8L94.6 883.8L94.6 882.3L95.4 882.3L95.4 880.8L96.3 880.8L96.3 879.4L97.2 879.4L97.2 877.9L98.1 877.9L98.1 876.4L99.3 876.4L99.3 875.0L100.1 875.0L100.1 873.5L101.1 873.5L101.1 872.0L102.3 872.0L102.3 870.6L103.5 870.6L103.5 869.1L105.1 869.1L105.1 867.6L106.1 867.6L106.1 866.2L107.2 866.2L107.2 864.7L108.3 864.7L108.3 863.3L109.3 863.3L109.3 861.8L110.4 861.8L110.4 860.3L112.4 860.3L112.4 858.9L113.8 858.9L113.8 857.4L115.2 857.4L115.2 855.9L116.7 855.9L116.7 854.5L118.7 854.5L118.7 853.0L121.1 853.0L121.1 851.5L123.3 851.5L123.3 850.1L124.8 850.1L124.8 848.6L126.1 848.6L126.1 847.1L127.9 847.1L127.9 845.7L129.6 845.7L129.6 844.2L131.9 844.2L131.9 842.7L133.8 842.7L133.8 841.3L135.9 841.3L135.9 839.8L138.0 839.8L138.0 838.4L142.6 838.4L142.6 836.9L147.2 836.9L147.2 835.4L155.6 835.4L155.6 834.0L166.4 834.0L166.4 832.5L188.8 832.5L188.8 831.0L203.1 831.0L203.1 829.6L227.5 829.6L227.5 828.1L252.7 828.1" stroke="#4b97e6"/>
<path d="M28.2 1018.5L50.8 1018.5L50.8 1017.0L50.9 1017.0L50.9 1015.6L51.0 1015.6L51.0 1014.1L51.1 1014.1L51.1 1012.6L51.2 1012.6L51.2 1011.2L51.4 1011.2L51.4 1009.7L51.5 1009.7L51.5 1008.2L51.6 1008.2L51.6 1006.8L51.7 1006.8L51.7 1005.3L51.9 1005.3L51.9 1003.9L52.0 1003.9L52.0 1002.4L52.1 1002.4L52.1 1000.9L52.5 1000.9L52.5 999.5L52.8 999.5L52.8 998.0L53.2 998.0L53.2 996.5L53.6 996.5L53.6 995.1L54.0 995.1L54.0 993.6L54.3 993.6L54.3 992.1L54.7 992.1L54.7 990.7L54.9 990.7L54.9 989.2L55.6 989.2L55.6 987.7L55.9 987.7L55.9 986.3L56.2 986.3L56.2 984.8L56.5 984.8L56.5 983.3L57.0 983.3L57.0 981.9L57.3 981.9L57.3 980.4L57.7 980.4L57.7 979.0L58.0 979.0L58.0 977.5L58.4 977.5L58.4 976.0L58.8 976.0L58.8 974.6L59.3 974.6L59.3 973.1L59.7 973.1L59.7 971.6L60.2 971.6L60.2 970.2L60.6 970.2L60.6 968.7L61.1 968.7L61.1 967.2L61.6 967.2L61.6 965.8L61.8 965.8L61.8 964.3L62.2 964.3L62.2 962.8L62.6 962.8L62.6 961.4L62.9 961.4L62.9 959.9L63.4 959.9L63.4 958.5L63.9 958.5L63.9 957.0L64.4 957.0L64.4 955.5L64.8 955.5L64.8 954.1L65.6 954.1L65.6 952.6L66.1 952.6L66.1 951.1L66.6 951.1L66.6 949.7L67.0 949.7L67.0 948.2L67.6 948.2L67.6 946.7L68.1 946.7L68.1 945.3L68.7 945.3L68.7 943.8L69.1 943.8L69.1 942.3L69.4 942.3L69.4 940.9L70.0 940.9L70.0 939.4L70.3 939.4L70.3 937.9L70.7 937.9L70.7 936.5L71.0 936.5L71.0 935.0L71.5 935.0L71.5 933.6L71.9 933.6L71.9 932.1L72.8 932.1L72.8 930.6L73.3 930.6L73.3 929.2L73.9 929.2L73.9 927.7L74.3 927.7L74.3 926.2L74.7 926.2L74.7 924.8L75.3 924.8L75.3 923.3L75.8 923.3L75.8 921.8L76.4 921.8L76.4 920.4L76.9 920.4L76.9 918.9L77.4 918.9L77.4 917.4L78.1 917.4L78.1 916.0L78.8 916.0L78.8 914.5L79.3 914.5L79.3 913.0L79.9 913.0L79.9 911.6L80.5 911.6L80.5 910.1L81.1 910.1L81.1 908.7L81.6 908.7L81.6 907.2L82.2 907.2L82.2 905.7L83.0 905.7L83.0 904.3L83.6 904.3L83.6 902.8L84.5 902.8L84.5 901.3L85.1 901.3L85.1 899.9L85.7 899.9L85.7 898.4L86.4 898.4L86.4 896.9L87.3 896.9L87.3 895.5L88.1 895.5L88.1 894.0L89.5 894.0L89.5 892.5L90.1 892.5L90.1 891.1L90.8 891.1L90.8 889.6L91.7 889.6L91.7 888.1L92.5 888.1L92.5 886.7L93.3 886.7L93.3 885.2L94.3 885.2L94.3 883.8L95.8 883.8L95.8 882.3L96.8 882.3L96.8 880.8L97.7 880.8L97.7 879.4L98.5 879.4L98.5 877.9L99.3 877.9L99.3 876.4L100.2 876.4L100.2 875.0L101.3 875.0L101.3 873.5L102.4 873.5L102.4 872.0L103.3 872.0L103.3 870.6L104.3 870.6L104.3 869.1L105.6 869.1L105.6 867.6L106.6 867.6L106.6 866.2L107.8 866.2L107.8 864.7L109.0 864.7L109.0 863.3L110.0 863.3L110.0 861.8L111.3 861.8L111.3 860.3L112.7 860.3L112.7 858.9L114.0 858.9L114.0 857.4L115.4 857.4L115.4 855.9L116.9 855.9L116.9 854.5L118.8 854.5L118.8 853.0L120.5 853.0L120.5 851.5L122.9 851.5L122.9 850.1L124.9 850.1L124.9 848.6L126.3 848.6L126.3 847.1L128.3 847.1L128.3 845.7L129.8 845.7L129.8 844.2L131.4 844.2L131.4 842.7L133.0 842.7L133.0 841.3L135.5 841.3L135.5 839.8L139.5 839.8L139.5 838.4L142.5 838.4L142.5 836.9L146.8 836.9L146.8 835.4L157.5 835.4L157.5 834.0L166.3 834.0L166.3 832.5L176.3 832.5L176.3 831.0L195.3 831.0L195.3 829.6L213.0 829.6L213.0 828.1L252.7 828.1" stroke="#3f973f"/>
<path d="M28.2 1018.5L50.8 1018.5L50.8 1017.0L50.9 1017.0L50.9 1015.6L51.1 1015.6L51.1 1014.1L51.1 1014.1L51.1 1012.6L51.2 1012.6L51.2 1011.2L51.4 1011.2L51.4 1009.7L51.4 1009.7L51.4 1008.2L51.5 1008.2L51.5 1006.8L51.6 1006.8L51.6 1005.3L51.7 1005.3L51.7 1003.9L51.8 1003.9L51.8 1002.4L52.2 1002.4L52.2 1000.9L52.5 1000.9L52.5 999.5L52.8 999.5L52.8 998.0L53.0 998.0L53.0 996.5L53.5 996.5L53.5 995.1L53.9 995.1L53.9 993.6L54.2 993.6L54.2 992.1L54.5 992.1L54.5 990.7L54.9 990.7L54.9 989.2L55.2 989.2L55.2 987.7L55.5 987.7L55.5 986.3L55.8 986.3L55.8 984.8L56.4 984.8L56.4 983.3L56.8 983.3L56.8 981.9L57.1 981.9L57.1 980.4L57.5 980.4L57.5 979.0L57.8 979.0L57.8 977.5L58.1 977.5L58.1 976.0L58.6 976.0L58.6 974.6L58.9 974.6L58.9 973.1L59.3 973.1L59.3 971.6L59.7 971.6L59.7 970.2L60.1 970.2L60.1 968.7L60.5 968.7L60.5 967.2L61.1 967.2L61.1 965.8L61.5 965.8L61.5 964.3L62.0 964.3L62.0 962.8L62.5 962.8L62.5 961.4L63.0 961.4L63.0 959.9L63.4 959.9L63.4 958.5L63.9 958.5L63.9 957.0L64.5 957.0L64.5 955.5L64.9 955.5L64.9 954.1L65.4 954.1L65.4 952.6L65.8 952.6L65.8 951.1L66.2 951.1L66.2 949.7L66.7 949.7L66.7 948.2L67.3 948.2L67.3 946.7L67.9 946.7L67.9 945.3L68.3 945.3L68.3 943.8L68.8 943.8L68.8 942.3L69.1 942.3L69.1 940.9L69.4 940.9L69.4 939.4L69.9 939.4L69.9 937.9L70.3 937.9L70.3 936.5L70.6 936.5L70.6 935.0L70.9 935.0L70.9 933.6L71.4 933.6L71.4 932.1L72.2 932.1L72.2 930.6L72.8 930.6L72.8 929.2L73.3 929.2L73.3 927.7L73.8 927.7L73.8 926.2L74.3 926.2L74.3 924.8L74.8 924.8L74.8 923.3L75.2 923.3L75.2 921.8L76.0 921.8L76.0 920.4L76.4 920.4L76.4 918.9L76.8 918.9L76.8 917.4L77.4 917.4L77.4 916.0L78.0 916.0L78.0 914.5L78.7 914.5L78.7 913.0L79.3 913.0L79.3 911.6L79.9 911.6L79.9 910.1L80.5 910.1L80.5 908.7L81.0 908.7L81.0 907.2L82.0 907.2L82.0 905.7L82.9 905.7L82.9 904.3L83.7 904.3L83.7 902.8L84.6 902.8L84.6 901.3L85.2 901.3L85.2 899.9L86.0 899.9L86.0 898.4L86.7 898.4L86.7 896.9L87.6 896.9L87.6 895.5L88.4 895.5L88.4 894.0L89.2 894.0L89.2 892.5L89.9 892.5L89.9 891.1L90.9 891.1L90.9 889.6L91.8 889.6L91.8 888.1L92.4 888.1L92.4 886.7L93.2 886.7L93.2 885.2L94.2 885.2L94.2 883.8L95.0 883.8L95.0 882.3L95.9 882.3L95.9 880.8L96.8 880.8L96.8 879.4L97.5 879.4L97.5 877.9L98.3 877.9L98.3 876.4L99.1 876.4L99.1 875.0L100.0 875.0L100.0 873.5L101.0 873.5L101.0 872.0L102.1 872.0L102.1 870.6L103.0 870.6L103.0 869.1L104.9 869.1L104.9 867.6L105.8 867.6L105.8 866.2L107.1 866.2L107.1 864.7L108.3 864.7L108.3 863.3L109.3 863.3L109.3 861.8L111.3 861.8L111.3 860.3L112.7 860.3L112.7 858.9L114.4 858.9L114.4 857.4L116.2 857.4L116.2 855.9L118.4 855.9L118.4 854.5L120.3 854.5L120.3 853.0L121.8 853.0L121.8 851.5L123.8 851.5L123.8 850.1L125.1 850.1L125.1 848.6L126.5 848.6L126.5 847.1L129.2 847.1L129.2 845.7L130.9 845.7L130.9 844.2L132.3 844.2L132.3 842.7L134.2 842.7L134.2 841.3L136.4 841.3L136.4 839.8L139.2 839.8L139.2 838.4L143.0 838.4L143.0 836.9L152.4 836.9L152.4 835.4L160.0 835.4L160.0 834.0L170.7 834.0L170.7 832.5L191.3 832.5L191.3 831.0L201.6 831.0L201.6 829.6L212.9 829.6L212.9 828.1L252.7 828.1" stroke="#d6761a" stroke-opacity=".85"/>
<path d="M28.2 1018.5H50.6" stroke="#5c5c4c"/>
</g>
<rect x="137.7" y="980.2" width="115.0" height="45.6" class="lg"/>
<text class="l" transform="translate(154.5 994.9) scale(.971 1)">WRF-USGS: 0.89</text>
<text class="l" transform="translate(154.5 1006.2) scale(.971 1)">WRF-NLCD: 0.86</text>
<text class="l" transform="translate(154.5 1017.5) scale(.971 1)">WRF-NLCDDEF: 0.86</text>
<rect x="28.2" y="820.5" width="224.5" height="205.3" class="f"/>
<text class="a" transform="translate(20.9 1018.5) rotate(-90) scale(.93 1)">0.0</text>
<text class="a" transform="translate(20.9 980.4) rotate(-90) scale(.93 1)">0.2</text>
<text class="a" transform="translate(20.9 942.3) rotate(-90) scale(.93 1)">0.4</text>
<text class="a" transform="translate(20.9 904.3) rotate(-90) scale(.93 1)">0.6</text>
<text class="a" transform="translate(20.9 866.2) rotate(-90) scale(.93 1)">0.8</text>
<text class="a" transform="translate(20.9 828.1) rotate(-90) scale(.93 1)">1.0</text>
<text class="a" transform="translate(50.6 1037.2) scale(.93 1)">0</text>
<text class="a" transform="translate(105.6 1037.2) scale(.93 1)">2</text>
<text class="a" transform="translate(160.6 1037.2) scale(.93 1)">4</text>
<text class="a" transform="translate(215.6 1037.2) scale(.93 1)">6</text>
<path d="M28.2 1018.5h-3.5M28.2 980.4h-3.5M28.2 942.3h-3.5M28.2 904.3h-3.5M28.2 866.2h-3.5M28.2 828.1h-3.5M50.6 1025.8v3.5M105.6 1025.8v3.5M160.6 1025.8v3.5M215.6 1025.8v3.5" class="k"/>
</g>
<g>
<clipPath id="c8"><rect x="291.5" y="820.5" width="224.5" height="205.3"/></clipPath>
<text class="t" transform="translate(403.6 810.9) scale(1.07 1)">Upper Midwest</text>
<path d="M291.5 828.1H516.0M291.5 1018.5H516.0" class="h"/>
<g clip-path="url(#c8)" class="cv">
<path d="M291.5 1018.5L313.9 1018.5L313.9 1017.0L314.0 1017.0L314.0 1015.6L314.2 1015.6L314.2 1014.1L314.3 1014.1L314.3 1012.6L314.4 1012.6L314.4 1011.2L314.5 1011.2L314.5 1009.7L314.6 1009.7L314.6 1008.2L314.7 1008.2L314.7 1006.8L314.7 1006.8L314.7 1005.3L314.8 1005.3L314.8 1003.9L314.9 1003.9L314.9 1002.4L315.0 1002.4L315.0 1000.9L315.0 1000.9L315.0 999.5L315.1 999.5L315.1 998.0L315.2 998.0L315.2 996.5L315.3 996.5L315.3 995.1L315.5 995.1L315.5 993.6L315.7 993.6L315.7 992.1L316.0 992.1L316.0 990.7L316.3 990.7L316.3 989.2L316.7 989.2L316.7 987.7L317.0 987.7L317.0 986.3L317.2 986.3L317.2 984.8L317.5 984.8L317.5 983.3L317.8 983.3L317.8 981.9L318.0 981.9L318.0 980.4L318.2 980.4L318.2 979.0L318.4 979.0L318.4 977.5L318.6 977.5L318.6 976.0L319.1 976.0L319.1 974.6L319.4 974.6L319.4 973.1L319.6 973.1L319.6 971.6L319.8 971.6L319.8 970.2L320.0 970.2L320.0 968.7L320.3 968.7L320.3 967.2L320.6 967.2L320.6 965.8L320.8 965.8L320.8 964.3L321.2 964.3L321.2 962.8L321.4 962.8L321.4 961.4L321.6 961.4L321.6 959.9L322.0 959.9L322.0 958.5L322.3 958.5L322.3 957.0L322.6 957.0L322.6 955.5L322.9 955.5L322.9 954.1L323.1 954.1L323.1 952.6L323.4 952.6L323.4 951.1L323.8 951.1L323.8 949.7L324.0 949.7L324.0 948.2L324.3 948.2L324.3 946.7L324.7 946.7L324.7 945.3L325.0 945.3L325.0 943.8L325.3 943.8L325.3 942.3L326.9 942.3L326.9 940.9L327.6 940.9L327.6 939.4L327.9 939.4L327.9 937.9L328.4 937.9L328.4 936.5L328.8 936.5L328.8 935.0L329.3 935.0L329.3 933.6L329.9 933.6L329.9 932.1L330.3 932.1L330.3 930.6L330.7 930.6L330.7 929.2L331.1 929.2L331.1 927.7L331.4 927.7L331.4 926.2L331.9 926.2L331.9 924.8L332.1 924.8L332.1 923.3L332.5 923.3L332.5 921.8L332.9 921.8L332.9 920.4L333.2 920.4L333.2 918.9L333.5 918.9L333.5 917.4L333.9 917.4L333.9 916.0L334.2 916.0L334.2 914.5L334.5 914.5L334.5 913.0L334.8 913.0L334.8 911.6L335.1 911.6L335.1 910.1L335.5 910.1L335.5 908.7L335.8 908.7L335.8 907.2L336.2 907.2L336.2 905.7L336.5 905.7L336.5 904.3L336.8 904.3L336.8 902.8L337.3 902.8L337.3 901.3L337.9 901.3L337.9 899.9L338.2 899.9L338.2 898.4L338.7 898.4L338.7 896.9L340.0 896.9L340.0 895.5L341.0 895.5L341.0 894.0L342.0 894.0L342.0 892.5L343.5 892.5L343.5 891.1L345.1 891.1L345.1 889.6L346.0 889.6L346.0 888.1L347.0 888.1L347.0 886.7L348.1 886.7L348.1 885.2L349.3 885.2L349.3 883.8L350.7 883.8L350.7 882.3L351.4 882.3L351.4 880.8L352.5 880.8L352.5 879.4L353.2 879.4L353.2 877.9L354.0 877.9L354.0 876.4L354.8 876.4L354.8 875.0L355.7 875.0L355.7 873.5L357.3 873.5L357.3 872.0L358.4 872.0L358.4 870.6L359.4 870.6L359.4 869.1L362.0 869.1L362.0 867.6L363.6 867.6L363.6 866.2L365.2 866.2L365.2 864.7L367.1 864.7L367.1 863.3L368.9 863.3L368.9 861.8L372.6 861.8L372.6 860.3L374.5 860.3L374.5 858.9L376.3 858.9L376.3 857.4L377.9 857.4L377.9 855.9L379.4 855.9L379.4 854.5L380.8 854.5L380.8 853.0L383.7 853.0L383.7 851.5L384.9 851.5L384.9 850.1L386.2 850.1L386.2 848.6L387.8 848.6L387.8 847.1L389.1 847.1L389.1 845.7L391.0 845.7L391.0 844.2L392.2 844.2L392.2 842.7L393.3 842.7L393.3 841.3L394.5 841.3L394.5 839.8L396.2 839.8L396.2 838.4L398.1 838.4L398.1 836.9L400.6 836.9L400.6 835.4L413.4 835.4L413.4 834.0L421.3 834.0L421.3 832.5L429.3 832.5L429.3 831.0L438.5 831.0L438.5 829.6L462.6 829.6L462.6 828.1L516.0 828.1" stroke="#5a5a5a"/>
<path d="M291.5 1018.5L313.9 1018.5L313.9 1017.0L314.0 1017.0L314.0 1015.6L314.1 1015.6L314.1 1014.1L314.2 1014.1L314.2 1012.6L314.2 1012.6L314.2 1011.2L314.3 1011.2L314.3 1009.7L314.4 1009.7L314.4 1008.2L314.5 1008.2L314.5 1006.8L314.6 1006.8L314.6 1005.3L314.6 1005.3L314.6 1003.9L314.7 1003.9L314.7 1002.4L314.7 1002.4L314.7 1000.9L314.8 1000.9L314.8 999.5L314.9 999.5L314.9 998.0L314.9 998.0L314.9 996.5L315.0 996.5L315.0 995.1L315.1 995.1L315.1 993.6L315.2 993.6L315.2 992.1L315.3 992.1L315.3 990.7L315.4 990.7L315.4 989.2L315.5 989.2L315.5 987.7L315.6 987.7L315.6 986.3L316.0 986.3L316.0 984.8L316.2 984.8L316.2 983.3L316.4 983.3L316.4 981.9L316.6 981.9L316.6 980.4L316.7 980.4L316.7 979.0L316.9 979.0L316.9 977.5L317.1 977.5L317.1 976.0L317.4 976.0L317.4 974.6L317.5 974.6L317.5 973.1L317.8 973.1L317.8 971.6L318.1 971.6L318.1 970.2L318.3 970.2L318.3 968.7L318.5 968.7L318.5 967.2L318.7 967.2L318.7 965.8L319.0 965.8L319.0 964.3L319.1 964.3L319.1 962.8L319.4 962.8L319.4 961.4L319.6 961.4L319.6 959.9L319.8 959.9L319.8 958.5L320.1 958.5L320.1 957.0L320.3 957.0L320.3 955.5L320.5 955.5L320.5 954.1L320.7 954.1L320.7 952.6L321.0 952.6L321.0 951.1L321.3 951.1L321.3 949.7L321.6 949.7L321.6 948.2L321.8 948.2L321.8 946.7L322.1 946.7L322.1 945.3L322.5 945.3L322.5 943.8L322.8 943.8L322.8 942.3L323.1 942.3L323.1 940.9L323.3 940.9L323.3 939.4L323.5 939.4L323.5 937.9L323.9 937.9L323.9 936.5L324.3 936.5L324.3 935.0L324.7 935.0L324.7 933.6L325.2 933.6L325.2 932.1L325.6 932.1L325.6 930.6L326.0 930.6L326.0 929.2L326.4 929.2L326.4 927.7L326.9 927.7L326.9 926.2L327.2 926.2L327.2 924.8L327.5 924.8L327.5 923.3L327.9 923.3L327.9 921.8L328.3 921.8L328.3 920.4L328.7 920.4L328.7 918.9L329.0 918.9L329.0 917.4L329.4 917.4L329.4 916.0L329.6 916.0L329.6 914.5L329.9 914.5L329.9 913.0L330.3 913.0L330.3 911.6L330.7 911.6L330.7 910.1L330.9 910.1L330.9 908.7L331.2 908.7L331.2 907.2L331.7 907.2L331.7 905.7L332.5 905.7L332.5 904.3L333.1 904.3L333.1 902.8L333.5 902.8L333.5 901.3L334.3 901.3L334.3 899.9L334.8 899.9L334.8 898.4L335.2 898.4L335.2 896.9L335.7 896.9L335.7 895.5L336.1 895.5L336.1 894.0L336.6 894.0L336.6 892.5L337.9 892.5L337.9 891.1L338.5 891.1L338.5 889.6L339.0 889.6L339.0 888.1L339.6 888.1L339.6 886.7L340.1 886.7L340.1 885.2L340.7 885.2L340.7 883.8L341.3 883.8L341.3 882.3L341.7 882.3L341.7 880.8L342.4 880.8L342.4 879.4L344.3 879.4L344.3 877.9L345.4 877.9L345.4 876.4L346.2 876.4L346.2 875.0L347.2 875.0L347.2 873.5L348.2 873.5L348.2 872.0L349.2 872.0L349.2 870.6L350.7 870.6L350.7 869.1L351.6 869.1L351.6 867.6L352.6 867.6L352.6 866.2L353.5 866.2L353.5 864.7L354.5 864.7L354.5 863.3L355.4 863.3L355.4 861.8L357.4 861.8L357.4 860.3L359.0 860.3L359.0 858.9L360.0 858.9L360.0 857.4L361.3 857.4L361.3 855.9L362.5 855.9L362.5 854.5L363.6 854.5L363.6 853.0L365.0 853.0L365.0 851.5L366.7 851.5L366.7 850.1L367.9 850.1L367.9 848.6L369.6 848.6L369.6 847.1L371.2 847.1L371.2 845.7L372.9 845.7L372.9 844.2L374.4 844.2L374.4 842.7L376.5 842.7L376.5 841.3L378.1 841.3L378.1 839.8L382.6 839.8L382.6 838.4L385.5 838.4L385.5 836.9L391.8 836.9L391.8 835.4L403.1 835.4L403.1 834.0L417.5 834.0L417.5 832.5L425.8 832.5L425.8 831.0L433.1 831.0L433.1 829.6L446.2 829.6L446.2 828.1L516.0 828.1" stroke="#4b97e6"/>
<path d="M291.5 1018.5L313.9 1018.5L313.9 1017.0L314.0 1017.0L314.0 1015.6L314.1 1015.6L314.1 1014.1L314.2 1014.1L314.2 1012.6L314.2 1012.6L314.2 1011.2L314.3 1011.2L314.3 1009.7L314.3 1009.7L314.3 1008.2L314.4 1008.2L314.4 1006.8L314.4 1006.8L314.4 1005.3L314.5 1005.3L314.5 1003.9L314.5 1003.9L314.5 1002.4L314.6 1002.4L314.6 1000.9L314.7 1000.9L314.7 999.5L314.7 999.5L314.7 998.0L314.8 998.0L314.8 996.5L314.9 996.5L314.9 995.1L314.9 995.1L314.9 993.6L315.0 993.6L315.0 992.1L315.1 992.1L315.1 990.7L315.1 990.7L315.1 989.2L315.2 989.2L315.2 987.7L315.3 987.7L315.3 986.3L315.5 986.3L315.5 984.8L315.6 984.8L315.6 983.3L315.8 983.3L315.8 981.9L316.0 981.9L316.0 980.4L316.2 980.4L316.2 979.0L316.3 979.0L316.3 977.5L316.5 977.5L316.5 976.0L316.7 976.0L316.7 974.6L316.8 974.6L316.8 973.1L317.0 973.1L317.0 971.6L317.2 971.6L317.2 970.2L317.4 970.2L317.4 968.7L317.5 968.7L317.5 967.2L317.7 967.2L317.7 965.8L318.0 965.8L318.0 964.3L318.1 964.3L318.1 962.8L318.4 962.8L318.4 961.4L318.6 961.4L318.6 959.9L318.7 959.9L318.7 958.5L319.0 958.5L319.0 957.0L319.2 957.0L319.2 955.5L319.5 955.5L319.5 954.1L319.8 954.1L319.8 952.6L320.0 952.6L320.0 951.1L320.2 951.1L320.2 949.7L320.5 949.7L320.5 948.2L320.7 948.2L320.7 946.7L320.9 946.7L320.9 945.3L321.1 945.3L321.1 943.8L321.3 943.8L321.3 942.3L321.6 942.3L321.6 940.9L321.8 940.9L321.8 939.4L322.0 939.4L322.0 937.9L322.2 937.9L322.2 936.5L322.4 936.5L322.4 935.0L322.7 935.0L322.7 933.6L323.0 933.6L323.0 932.1L323.3 932.1L323.3 930.6L323.6 930.6L323.6 929.2L323.9 929.2L323.9 927.7L324.2 927.7L324.2 926.2L324.4 926.2L324.4 924.8L324.7 924.8L324.7 923.3L325.0 923.3L325.0 921.8L325.2 921.8L325.2 920.4L325.6 920.4L325.6 918.9L325.8 918.9L325.8 917.4L326.1 917.4L326.1 916.0L326.3 916.0L326.3 914.5L326.7 914.5L326.7 913.0L327.0 913.0L327.0 911.6L327.3 911.6L327.3 910.1L327.5 910.1L327.5 908.7L327.7 908.7L327.7 907.2L328.0 907.2L328.0 905.7L328.5 905.7L328.5 904.3L328.8 904.3L328.8 902.8L329.0 902.8L329.0 901.3L329.7 901.3L329.7 899.9L330.3 899.9L330.3 898.4L330.7 898.4L330.7 896.9L331.2 896.9L331.2 895.5L331.6 895.5L331.6 894.0L332.1 894.0L332.1 892.5L333.0 892.5L333.0 891.1L333.6 891.1L333.6 889.6L334.1 889.6L334.1 888.1L334.6 888.1L334.6 886.7L335.3 886.7L335.3 885.2L336.0 885.2L336.0 883.8L336.7 883.8L336.7 882.3L337.5 882.3L337.5 880.8L338.2 880.8L338.2 879.4L339.6 879.4L339.6 877.9L341.0 877.9L341.0 876.4L342.2 876.4L342.2 875.0L343.2 875.0L343.2 873.5L344.3 873.5L344.3 872.0L345.5 872.0L345.5 870.6L347.0 870.6L347.0 869.1L347.8 869.1L347.8 867.6L349.3 867.6L349.3 866.2L350.6 866.2L350.6 864.7L352.0 864.7L352.0 863.3L353.2 863.3L353.2 861.8L354.3 861.8L354.3 860.3L355.8 860.3L355.8 858.9L357.1 858.9L357.1 857.4L358.4 857.4L358.4 855.9L359.5 855.9L359.5 854.5L360.6 854.5L360.6 853.0L361.7 853.0L361.7 851.5L363.0 851.5L363.0 850.1L363.7 850.1L363.7 848.6L364.7 848.6L364.7 847.1L365.6 847.1L365.6 845.7L366.4 845.7L366.4 844.2L367.3 844.2L367.3 842.7L368.3 842.7L368.3 841.3L369.7 841.3L369.7 839.8L372.7 839.8L372.7 838.4L375.0 838.4L375.0 836.9L385.8 836.9L385.8 835.4L402.3 835.4L402.3 834.0L419.3 834.0L419.3 832.5L423.0 832.5L423.0 831.0L425.7 831.0L425.7 829.6L429.2 829.6L429.2 828.1L516.0 828.1" stroke="#3f973f"/>
<path d="M291.5 1018.5L313.9 1018.5L313.9 1017.0L314.0 1017.0L314.0 1015.6L314.1 1015.6L314.1 1014.1L314.1 1014.1L314.1 1012.6L314.2 1012.6L314.2 1011.2L314.2 1011.2L314.2 1009.7L314.3 1009.7L314.3 1008.2L314.4 1008.2L314.4 1006.8L314.4 1006.8L314.4 1005.3L314.5 1005.3L314.5 1003.9L314.6 1003.9L314.6 1002.4L314.6 1002.4L314.6 1000.9L314.7 1000.9L314.7 999.5L314.7 999.5L314.7 998.0L314.8 998.0L314.8 996.5L314.8 996.5L314.8 995.1L314.9 995.1L314.9 993.6L315.0 993.6L315.0 992.1L315.0 992.1L315.0 990.7L315.1 990.7L315.1 989.2L315.2 989.2L315.2 987.7L315.2 987.7L315.2 986.3L315.3 986.3L315.3 984.8L315.4 984.8L315.4 983.3L315.6 983.3L315.6 981.9L315.8 981.9L315.8 980.4L316.0 980.4L316.0 979.0L316.1 979.0L316.1 977.5L316.2 977.5L316.2 976.0L316.4 976.0L316.4 974.6L316.5 974.6L316.5 973.1L316.7 973.1L316.7 971.6L316.9 971.6L316.9 970.2L317.0 970.2L317.0 968.7L317.2 968.7L317.2 967.2L317.4 967.2L317.4 965.8L317.6 965.8L317.6 964.3L317.7 964.3L317.7 962.8L317.9 962.8L317.9 961.4L318.1 961.4L318.1 959.9L318.2 959.9L318.2 958.5L318.4 958.5L318.4 957.0L318.6 957.0L318.6 955.5L318.8 955.5L318.8 954.1L319.0 954.1L319.0 952.6L319.3 952.6L319.3 951.1L319.6 951.1L319.6 949.7L319.8 949.7L319.8 948.2L320.0 948.2L320.0 946.7L320.4 946.7L320.4 945.3L320.6 945.3L320.6 943.8L320.8 943.8L320.8 942.3L321.0 942.3L321.0 940.9L321.2 940.9L321.2 939.4L321.4 939.4L321.4 937.9L321.7 937.9L321.7 936.5L322.0 936.5L322.0 935.0L322.2 935.0L322.2 933.6L322.5 933.6L322.5 932.1L322.8 932.1L322.8 930.6L323.1 930.6L323.1 929.2L323.5 929.2L323.5 927.7L324.0 927.7L324.0 926.2L324.2 926.2L324.2 924.8L324.6 924.8L324.6 923.3L324.8 923.3L324.8 921.8L325.0 921.8L325.0 920.4L325.3 920.4L325.3 918.9L325.5 918.9L325.5 917.4L325.8 917.4L325.8 916.0L326.0 916.0L326.0 914.5L326.3 914.5L326.3 913.0L326.6 913.0L326.6 911.6L326.8 911.6L326.8 910.1L327.1 910.1L327.1 908.7L327.4 908.7L327.4 907.2L327.6 907.2L327.6 905.7L328.2 905.7L328.2 904.3L328.4 904.3L328.4 902.8L328.7 902.8L328.7 901.3L329.1 901.3L329.1 899.9L329.6 899.9L329.6 898.4L330.0 898.4L330.0 896.9L330.5 896.9L330.5 895.5L330.9 895.5L330.9 894.0L331.3 894.0L331.3 892.5L332.4 892.5L332.4 891.1L332.9 891.1L332.9 889.6L333.3 889.6L333.3 888.1L334.0 888.1L334.0 886.7L334.5 886.7L334.5 885.2L335.1 885.2L335.1 883.8L336.3 883.8L336.3 882.3L337.1 882.3L337.1 880.8L338.0 880.8L338.0 879.4L339.2 879.4L339.2 877.9L340.1 877.9L340.1 876.4L340.9 876.4L340.9 875.0L342.2 875.0L342.2 873.5L343.3 873.5L343.3 872.0L344.4 872.0L344.4 870.6L345.6 870.6L345.6 869.1L346.7 869.1L346.7 867.6L347.7 867.6L347.7 866.2L349.4 866.2L349.4 864.7L350.6 864.7L350.6 863.3L351.8 863.3L351.8 861.8L353.0 861.8L353.0 860.3L354.6 860.3L354.6 858.9L355.8 858.9L355.8 857.4L357.2 857.4L357.2 855.9L358.8 855.9L358.8 854.5L360.1 854.5L360.1 853.0L361.2 853.0L361.2 851.5L362.9 851.5L362.9 850.1L364.6 850.1L364.6 848.6L366.2 848.6L366.2 847.1L368.2 847.1L368.2 845.7L370.3 845.7L370.3 844.2L373.2 844.2L373.2 842.7L375.2 842.7L375.2 841.3L377.4 841.3L377.4 839.8L380.7 839.8L380.7 838.4L383.2 838.4L383.2 836.9L388.6 836.9L388.6 835.4L397.5 835.4L397.5 834.0L411.2 834.0L411.2 832.5L422.2 832.5L422.2 831.0L432.6 831.0L432.6 829.6L440.3 829.6L440.3 828.1L516.0 828.1" stroke="#d6761a" stroke-opacity=".85"/>
<path d="M291.5 1018.5H313.9" stroke="#5c5c4c"/>
</g>
<rect x="401.0" y="980.2" width="115.0" height="45.6" class="lg"/>
<text class="l" transform="translate(417.8 994.9) scale(.971 1)">WRF-USGS: 0.87</text>
<text class="l" transform="translate(417.8 1006.2) scale(.971 1)">WRF-NLCD: 0.85</text>
<text class="l" transform="translate(417.8 1017.5) scale(.971 1)">WRF-NLCDDEF: 0.85</text>
<rect x="291.5" y="820.5" width="224.5" height="205.3" class="f"/>
<text class="a" transform="translate(284.2 1018.5) rotate(-90) scale(.93 1)">0.0</text>
<text class="a" transform="translate(284.2 980.4) rotate(-90) scale(.93 1)">0.2</text>
<text class="a" transform="translate(284.2 942.3) rotate(-90) scale(.93 1)">0.4</text>
<text class="a" transform="translate(284.2 904.3) rotate(-90) scale(.93 1)">0.6</text>
<text class="a" transform="translate(284.2 866.2) rotate(-90) scale(.93 1)">0.8</text>
<text class="a" transform="translate(284.2 828.1) rotate(-90) scale(.93 1)">1.0</text>
<text class="a" transform="translate(313.9 1037.2) scale(.93 1)">0</text>
<text class="a" transform="translate(361.5 1037.2) scale(.93 1)">5</text>
<text class="a" transform="translate(409.2 1037.2) scale(.93 1)">10</text>
<text class="a" transform="translate(456.8 1037.2) scale(.93 1)">15</text>
<text class="a" transform="translate(504.5 1037.2) scale(.93 1)">20</text>
<path d="M291.5 1018.5h-3.5M291.5 980.4h-3.5M291.5 942.3h-3.5M291.5 904.3h-3.5M291.5 866.2h-3.5M291.5 828.1h-3.5M313.9 1025.8v3.5M361.5 1025.8v3.5M409.2 1025.8v3.5M456.8 1025.8v3.5M504.5 1025.8v3.5" class="k"/>
</g>
<g>
<clipPath id="c9"><rect x="554.9" y="820.5" width="224.5" height="205.3"/></clipPath>
<text class="t" transform="translate(666.9 810.9) scale(1.07 1)">West</text>
<path d="M554.9 828.1H779.4M554.9 1018.5H779.4" class="h"/>
<g clip-path="url(#c9)" class="cv">
<path d="M554.9 1018.5L577.2 1018.5L577.2 1017.0L577.2 1017.0L577.2 1015.6L577.2 1014.1L577.3 1012.6L577.3 1012.6L577.3 1011.2L577.3 1011.2L577.3 1009.7L577.3 1008.2L577.3 1006.8L577.4 1005.3L577.4 1005.3L577.4 1003.9L577.4 1002.4L577.4 1000.9L577.4 1000.9L577.4 999.5L577.5 999.5L577.5 998.0L577.5 998.0L577.5 996.5L577.5 995.1L577.5 993.6L577.5 993.6L577.5 992.1L577.6 990.7L577.6 989.2L577.6 987.7L577.6 987.7L577.6 986.3L577.6 986.3L577.6 984.8L577.7 984.8L577.7 983.3L577.7 981.9L577.7 980.4L577.7 979.0L577.7 979.0L577.7 977.5L577.8 976.0L577.8 976.0L577.8 974.6L577.8 974.6L577.8 973.1L577.8 971.6L577.9 971.6L577.9 970.2L577.9 968.7L577.9 967.2L578.1 967.2L578.1 965.8L578.2 965.8L578.2 964.3L578.2 964.3L578.2 962.8L578.3 962.8L578.3 961.4L578.4 961.4L578.4 959.9L578.5 959.9L578.5 958.5L578.5 958.5L578.5 957.0L578.6 957.0L578.6 955.5L578.7 955.5L578.7 954.1L578.8 954.1L578.8 952.6L578.9 952.6L578.9 951.1L579.0 951.1L579.0 949.7L579.1 949.7L579.1 948.2L579.2 948.2L579.2 946.7L579.3 946.7L579.3 945.3L579.3 945.3L579.3 943.8L579.4 943.8L579.4 942.3L579.5 942.3L579.5 940.9L579.6 940.9L579.6 939.4L579.8 939.4L579.8 937.9L579.9 937.9L579.9 936.5L580.0 936.5L580.0 935.0L580.1 935.0L580.1 933.6L580.2 933.6L580.2 932.1L580.4 932.1L580.4 930.6L580.4 930.6L580.4 929.2L580.5 929.2L580.5 927.7L580.6 927.7L580.6 926.2L580.8 926.2L580.8 924.8L581.0 924.8L581.0 923.3L581.3 923.3L581.3 921.8L581.5 921.8L581.5 920.4L581.7 920.4L581.7 918.9L581.9 918.9L581.9 917.4L582.1 917.4L582.1 916.0L582.2 916.0L582.2 914.5L582.5 914.5L582.5 913.0L582.6 913.0L582.6 911.6L582.9 911.6L582.9 910.1L583.2 910.1L583.2 908.7L583.6 908.7L583.6 907.2L583.8 907.2L583.8 905.7L583.9 905.7L583.9 904.3L584.1 904.3L584.1 902.8L584.4 902.8L584.4 901.3L584.6 901.3L584.6 899.9L584.9 899.9L584.9 898.4L585.2 898.4L585.2 896.9L585.7 896.9L585.7 895.5L586.0 895.5L586.0 894.0L586.2 894.0L586.2 892.5L586.5 892.5L586.5 891.1L586.8 891.1L586.8 889.6L587.1 889.6L587.1 888.1L587.5 888.1L587.5 886.7L587.8 886.7L587.8 885.2L588.1 885.2L588.1 883.8L588.5 883.8L588.5 882.3L589.1 882.3L589.1 880.8L589.5 880.8L589.5 879.4L589.9 879.4L589.9 877.9L590.5 877.9L590.5 876.4L591.4 876.4L591.4 875.0L591.9 875.0L591.9 873.5L592.3 873.5L592.3 872.0L593.3 872.0L593.3 870.6L593.9 870.6L593.9 869.1L594.4 869.1L594.4 867.6L594.8 867.6L594.8 866.2L595.4 866.2L595.4 864.7L596.2 864.7L596.2 863.3L597.0 863.3L597.0 861.8L597.7 861.8L597.7 860.3L598.4 860.3L598.4 858.9L599.2 858.9L599.2 857.4L600.0 857.4L600.0 855.9L600.6 855.9L600.6 854.5L601.4 854.5L601.4 853.0L602.5 853.0L602.5 851.5L603.3 851.5L603.3 850.1L604.2 850.1L604.2 848.6L606.0 848.6L606.0 847.1L607.0 847.1L607.0 845.7L608.4 845.7L608.4 844.2L611.9 844.2L611.9 842.7L613.5 842.7L613.5 841.3L616.7 841.3L616.7 839.8L620.3 839.8L620.3 838.4L625.0 838.4L625.0 836.9L635.9 836.9L635.9 835.4L638.8 835.4L638.8 834.0L646.0 834.0L646.0 832.5L651.4 832.5L651.4 831.0L665.1 831.0L665.1 829.6L703.3 829.6L703.3 828.1L779.4 828.1" stroke="#5a5a5a"/>
<path d="M554.9 1018.5L577.2 1018.5L577.2 1017.0L577.2 1015.6L577.3 1015.6L577.3 1014.1L577.3 1014.1L577.3 1012.6L577.3 1012.6L577.3 1011.2L577.3 1011.2L577.3 1009.7L577.4 1009.7L577.4 1008.2L577.4 1008.2L577.4 1006.8L577.4 1006.8L577.4 1005.3L577.4 1003.9L577.5 1003.9L577.5 1002.4L577.5 1002.4L577.5 1000.9L577.5 1000.9L577.5 999.5L577.6 999.5L577.6 998.0L577.6 998.0L577.6 996.5L577.6 996.5L577.6 995.1L577.6 995.1L577.6 993.6L577.7 993.6L577.7 992.1L577.7 992.1L577.7 990.7L577.7 990.7L577.7 989.2L577.7 989.2L577.7 987.7L577.8 987.7L577.8 986.3L577.8 986.3L577.8 984.8L577.9 984.8L577.9 983.3L577.9 983.3L577.9 981.9L577.9 981.9L577.9 980.4L577.9 980.4L577.9 979.0L577.9 977.5L578.0 977.5L578.0 976.0L578.0 976.0L578.0 974.6L578.1 974.6L578.1 973.1L578.1 973.1L578.1 971.6L578.1 971.6L578.1 970.2L578.2 970.2L578.2 968.7L578.3 968.7L578.3 967.2L578.3 967.2L578.3 965.8L578.4 965.8L578.4 964.3L578.5 964.3L578.5 962.8L578.5 962.8L578.5 961.4L578.6 961.4L578.6 959.9L578.6 959.9L578.6 958.5L578.7 958.5L578.7 957.0L578.7 957.0L578.7 955.5L578.8 955.5L578.8 954.1L578.9 954.1L578.9 952.6L578.9 952.6L578.9 951.1L579.0 951.1L579.0 949.7L579.1 949.7L579.1 948.2L579.1 948.2L579.1 946.7L579.2 946.7L579.2 945.3L579.3 945.3L579.3 943.8L579.3 943.8L579.3 942.3L579.4 942.3L579.4 940.9L579.5 940.9L579.5 939.4L579.5 939.4L579.5 937.9L579.6 937.9L579.6 936.5L579.7 936.5L579.7 935.0L579.7 935.0L579.7 933.6L579.8 933.6L579.8 932.1L579.9 932.1L579.9 930.6L580.0 930.6L580.0 929.2L580.1 929.2L580.1 927.7L580.3 927.7L580.3 926.2L580.5 926.2L580.5 924.8L580.6 924.8L580.6 923.3L580.8 923.3L580.8 921.8L580.9 921.8L580.9 920.4L581.1 920.4L581.1 918.9L581.2 918.9L581.2 917.4L581.4 917.4L581.4 916.0L581.5 916.0L581.5 914.5L581.7 914.5L581.7 913.0L581.8 913.0L581.8 911.6L582.0 911.6L582.0 910.1L582.1 910.1L582.1 908.7L582.3 908.7L582.3 907.2L582.5 907.2L582.5 905.7L582.6 905.7L582.6 904.3L582.8 904.3L582.8 902.8L583.0 902.8L583.0 901.3L583.3 901.3L583.3 899.9L583.6 899.9L583.6 898.4L583.8 898.4L583.8 896.9L584.0 896.9L584.0 895.5L584.2 895.5L584.2 894.0L584.4 894.0L584.4 892.5L584.7 892.5L584.7 891.1L584.9 891.1L584.9 889.6L585.1 889.6L585.1 888.1L585.3 888.1L585.3 886.7L585.6 886.7L585.6 885.2L585.8 885.2L585.8 883.8L586.1 883.8L586.1 882.3L586.4 882.3L586.4 880.8L586.8 880.8L586.8 879.4L587.3 879.4L587.3 877.9L587.8 877.9L587.8 876.4L588.3 876.4L588.3 875.0L588.9 875.0L588.9 873.5L589.3 873.5L589.3 872.0L590.0 872.0L590.0 870.6L590.5 870.6L590.5 869.1L590.9 869.1L590.9 867.6L591.6 867.6L591.6 866.2L592.1 866.2L592.1 864.7L593.1 864.7L593.1 863.3L594.1 863.3L594.1 861.8L594.8 861.8L594.8 860.3L595.5 860.3L595.5 858.9L596.5 858.9L596.5 857.4L597.2 857.4L597.2 855.9L598.0 855.9L598.0 854.5L599.6 854.5L599.6 853.0L600.8 853.0L600.8 851.5L602.0 851.5L602.0 850.1L603.2 850.1L603.2 848.6L604.8 848.6L604.8 847.1L608.0 847.1L608.0 845.7L612.3 845.7L612.3 844.2L615.0 844.2L615.0 842.7L619.6 842.7L619.6 841.3L623.2 841.3L623.2 839.8L625.8 839.8L625.8 838.4L630.5 838.4L630.5 836.9L633.7 836.9L633.7 835.4L638.4 835.4L638.4 834.0L645.6 834.0L645.6 832.5L653.3 832.5L653.3 831.0L664.7 831.0L664.7 829.6L691.3 829.6L691.3 828.1L779.4 828.1" stroke="#4b97e6"/>
<path d="M554.9 1018.5L577.2 1018.5L577.2 1017.0L577.2 1015.6L577.2 1014.1L577.3 1012.6L577.3 1011.2L577.3 1009.7L577.3 1008.2L577.3 1006.8L577.3 1005.3L577.3 1003.9L577.4 1002.4L577.4 1000.9L577.4 999.5L577.4 998.0L577.4 996.5L577.4 995.1L577.4 993.6L577.5 992.1L577.5 990.7L577.5 990.7L577.5 989.2L577.5 987.7L577.5 987.7L577.5 986.3L577.6 986.3L577.6 984.8L577.6 983.3L577.6 981.9L577.6 980.4L577.6 979.0L577.6 977.5L577.7 977.5L577.7 976.0L577.7 974.6L577.7 973.1L577.7 971.6L577.8 971.6L577.8 970.2L577.8 970.2L577.8 968.7L577.9 968.7L577.9 967.2L577.9 967.2L577.9 965.8L578.0 965.8L578.0 964.3L578.0 964.3L578.0 962.8L578.1 962.8L578.1 961.4L578.2 961.4L578.2 959.9L578.2 959.9L578.2 958.5L578.3 958.5L578.3 957.0L578.3 957.0L578.3 955.5L578.4 955.5L578.4 954.1L578.4 954.1L578.4 952.6L578.5 952.6L578.5 951.1L578.6 951.1L578.6 949.7L578.7 949.7L578.7 948.2L578.8 948.2L578.8 946.7L578.8 946.7L578.8 945.3L578.9 945.3L578.9 943.8L579.0 943.8L579.0 942.3L579.0 942.3L579.0 940.9L579.1 940.9L579.1 939.4L579.2 939.4L579.2 937.9L579.2 937.9L579.2 936.5L579.3 936.5L579.3 935.0L579.3 935.0L579.3 933.6L579.5 933.6L579.5 932.1L579.5 932.1L579.5 930.6L579.6 930.6L579.6 929.2L579.7 929.2L579.7 927.7L579.8 927.7L579.8 926.2L580.0 926.2L580.0 924.8L580.2 924.8L580.2 923.3L580.3 923.3L580.3 921.8L580.4 921.8L580.4 920.4L580.6 920.4L580.6 918.9L580.8 918.9L580.8 917.4L580.9 917.4L580.9 916.0L581.1 916.0L581.1 914.5L581.2 914.5L581.2 913.0L581.4 913.0L581.4 911.6L581.5 911.6L581.5 910.1L581.7 910.1L581.7 908.7L581.8 908.7L581.8 907.2L582.0 907.2L582.0 905.7L582.2 905.7L582.2 904.3L582.4 904.3L582.4 902.8L582.7 902.8L582.7 901.3L582.9 901.3L582.9 899.9L583.2 899.9L583.2 898.4L583.5 898.4L583.5 896.9L583.8 896.9L583.8 895.5L584.0 895.5L584.0 894.0L584.3 894.0L584.3 892.5L584.5 892.5L584.5 891.1L584.7 891.1L584.7 889.6L585.0 889.6L585.0 888.1L585.2 888.1L585.2 886.7L585.6 886.7L585.6 885.2L585.9 885.2L585.9 883.8L586.2 883.8L586.2 882.3L586.7 882.3L586.7 880.8L587.2 880.8L587.2 879.4L587.8 879.4L587.8 877.9L588.3 877.9L588.3 876.4L588.7 876.4L588.7 875.0L589.1 875.0L589.1 873.5L589.6 873.5L589.6 872.0L590.0 872.0L590.0 870.6L590.5 870.6L590.5 869.1L590.9 869.1L590.9 867.6L591.6 867.6L591.6 866.2L592.1 866.2L592.1 864.7L593.3 864.7L593.3 863.3L594.6 863.3L594.6 861.8L595.3 861.8L595.3 860.3L596.4 860.3L596.4 858.9L597.6 858.9L597.6 857.4L598.3 857.4L598.3 855.9L599.4 855.9L599.4 854.5L600.7 854.5L600.7 853.0L601.7 853.0L601.7 851.5L602.8 851.5L602.8 850.1L603.9 850.1L603.9 848.6L605.2 848.6L605.2 847.1L610.4 847.1L610.4 845.7L614.4 845.7L614.4 844.2L617.2 844.2L617.2 842.7L620.5 842.7L620.5 841.3L623.2 841.3L623.2 839.8L626.4 839.8L626.4 838.4L629.4 838.4L629.4 836.9L632.6 836.9L632.6 835.4L638.1 835.4L638.1 834.0L645.3 834.0L645.3 832.5L653.8 832.5L653.8 831.0L668.0 831.0L668.0 829.6L700.3 829.6L700.3 828.1L779.4 828.1" stroke="#3f973f"/>
<path d="M554.9 1018.5L577.2 1018.5L577.2 1017.0L577.2 1015.6L577.2 1014.1L577.2 1012.6L577.2 1011.2L577.3 1009.7L577.3 1008.2L577.3 1006.8L577.3 1005.3L577.3 1003.9L577.3 1002.4L577.3 1000.9L577.3 999.5L577.3 998.0L577.3 996.5L577.3 995.1L577.3 993.6L577.4 992.1L577.4 990.7L577.4 989.2L577.4 987.7L577.4 986.3L577.4 984.8L577.4 983.3L577.4 981.9L577.4 980.4L577.5 979.0L577.5 977.5L577.5 976.0L577.5 974.6L577.5 973.1L577.5 971.6L577.5 971.6L577.5 970.2L577.6 970.2L577.6 968.7L577.6 968.7L577.6 967.2L577.7 967.2L577.7 965.8L577.8 965.8L577.8 964.3L577.8 964.3L577.8 962.8L577.9 962.8L577.9 961.4L577.9 961.4L577.9 959.9L578.0 959.9L578.0 958.5L578.1 958.5L578.1 957.0L578.1 957.0L578.1 955.5L578.2 955.5L578.2 954.1L578.3 954.1L578.3 952.6L578.3 952.6L578.3 951.1L578.4 951.1L578.4 949.7L578.4 949.7L578.4 948.2L578.5 948.2L578.5 946.7L578.6 946.7L578.6 945.3L578.7 945.3L578.7 943.8L578.7 943.8L578.7 942.3L578.8 942.3L578.8 940.9L578.9 940.9L578.9 939.4L578.9 939.4L578.9 937.9L579.0 937.9L579.0 936.5L579.1 936.5L579.1 935.0L579.2 935.0L579.2 933.6L579.3 933.6L579.3 932.1L579.3 932.1L579.3 930.6L579.4 930.6L579.4 929.2L579.5 929.2L579.5 927.7L579.7 927.7L579.7 926.2L579.9 926.2L579.9 924.8L580.1 924.8L580.1 923.3L580.2 923.3L580.2 921.8L580.4 921.8L580.4 920.4L580.5 920.4L580.5 918.9L580.7 918.9L580.7 917.4L580.9 917.4L580.9 916.0L581.0 916.0L581.0 914.5L581.1 914.5L581.1 913.0L581.3 913.0L581.3 911.6L581.5 911.6L581.5 910.1L581.6 910.1L581.6 908.7L581.7 908.7L581.7 907.2L581.9 907.2L581.9 905.7L582.1 905.7L582.1 904.3L582.2 904.3L582.2 902.8L582.4 902.8L582.4 901.3L582.6 901.3L582.6 899.9L582.8 899.9L582.8 898.4L583.1 898.4L583.1 896.9L583.5 896.9L583.5 895.5L583.8 895.5L583.8 894.0L584.0 894.0L584.0 892.5L584.3 892.5L584.3 891.1L584.6 891.1L584.6 889.6L584.9 889.6L584.9 888.1L585.1 888.1L585.1 886.7L585.3 886.7L585.3 885.2L585.6 885.2L585.6 883.8L585.9 883.8L585.9 882.3L586.2 882.3L586.2 880.8L586.8 880.8L586.8 879.4L587.3 879.4L587.3 877.9L587.8 877.9L587.8 876.4L588.3 876.4L588.3 875.0L588.9 875.0L588.9 873.5L589.3 873.5L589.3 872.0L589.8 872.0L589.8 870.6L590.2 870.6L590.2 869.1L590.7 869.1L590.7 867.6L591.4 867.6L591.4 866.2L591.9 866.2L591.9 864.7L593.0 864.7L593.0 863.3L594.7 863.3L594.7 861.8L595.5 861.8L595.5 860.3L596.2 860.3L596.2 858.9L597.3 858.9L597.3 857.4L598.1 857.4L598.1 855.9L599.8 855.9L599.8 854.5L601.2 854.5L601.2 853.0L602.3 853.0L602.3 851.5L603.5 851.5L603.5 850.1L604.7 850.1L604.7 848.6L607.0 848.6L607.0 847.1L611.7 847.1L611.7 845.7L615.6 845.7L615.6 844.2L618.3 844.2L618.3 842.7L621.3 842.7L621.3 841.3L624.1 841.3L624.1 839.8L627.3 839.8L627.3 838.4L631.9 838.4L631.9 836.9L635.0 836.9L635.0 835.4L640.6 835.4L640.6 834.0L649.2 834.0L649.2 832.5L658.4 832.5L658.4 831.0L670.6 831.0L670.6 829.6L700.2 829.6L700.2 828.1L779.4 828.1" stroke="#d6761a" stroke-opacity=".85"/>
<path d="M554.9 1018.5H577.3" stroke="#5c5c4c"/>
</g>
<rect x="664.4" y="980.2" width="115.0" height="45.6" class="lg"/>
<text class="l" transform="translate(681.2 994.9) scale(.971 1)">WRF-USGS: 0.99</text>
<text class="l" transform="translate(681.2 1006.2) scale(.971 1)">WRF-NLCD: 0.99</text>
<text class="l" transform="translate(681.2 1017.5) scale(.971 1)">WRF-NLCDDEF: 0.99</text>
<rect x="554.9" y="820.5" width="224.5" height="205.3" class="f"/>
<text class="a" transform="translate(547.6 1018.5) rotate(-90) scale(.93 1)">0.0</text>
<text class="a" transform="translate(547.6 980.4) rotate(-90) scale(.93 1)">0.2</text>
<text class="a" transform="translate(547.6 942.3) rotate(-90) scale(.93 1)">0.4</text>
<text class="a" transform="translate(547.6 904.3) rotate(-90) scale(.93 1)">0.6</text>
<text class="a" transform="translate(547.6 866.2) rotate(-90) scale(.93 1)">0.8</text>
<text class="a" transform="translate(547.6 828.1) rotate(-90) scale(.93 1)">1.0</text>
<text class="a" transform="translate(577.3 1037.2) scale(.93 1)">0</text>
<text class="a" transform="translate(613.8 1037.2) scale(.93 1)">1</text>
<text class="a" transform="translate(650.3 1037.2) scale(.93 1)">2</text>
<text class="a" transform="translate(686.8 1037.2) scale(.93 1)">3</text>
<text class="a" transform="translate(723.3 1037.2) scale(.93 1)">4</text>
<text class="a" transform="translate(759.8 1037.2) scale(.93 1)">5</text>
<path d="M554.9 1018.5h-3.5M554.9 980.4h-3.5M554.9 942.3h-3.5M554.9 904.3h-3.5M554.9 866.2h-3.5M554.9 828.1h-3.5M577.3 1025.8v3.5M613.8 1025.8v3.5M650.3 1025.8v3.5M686.8 1025.8v3.5M723.3 1025.8v3.5M759.8 1025.8v3.5" class="k"/>
</g>
</svg>
</body></html>
